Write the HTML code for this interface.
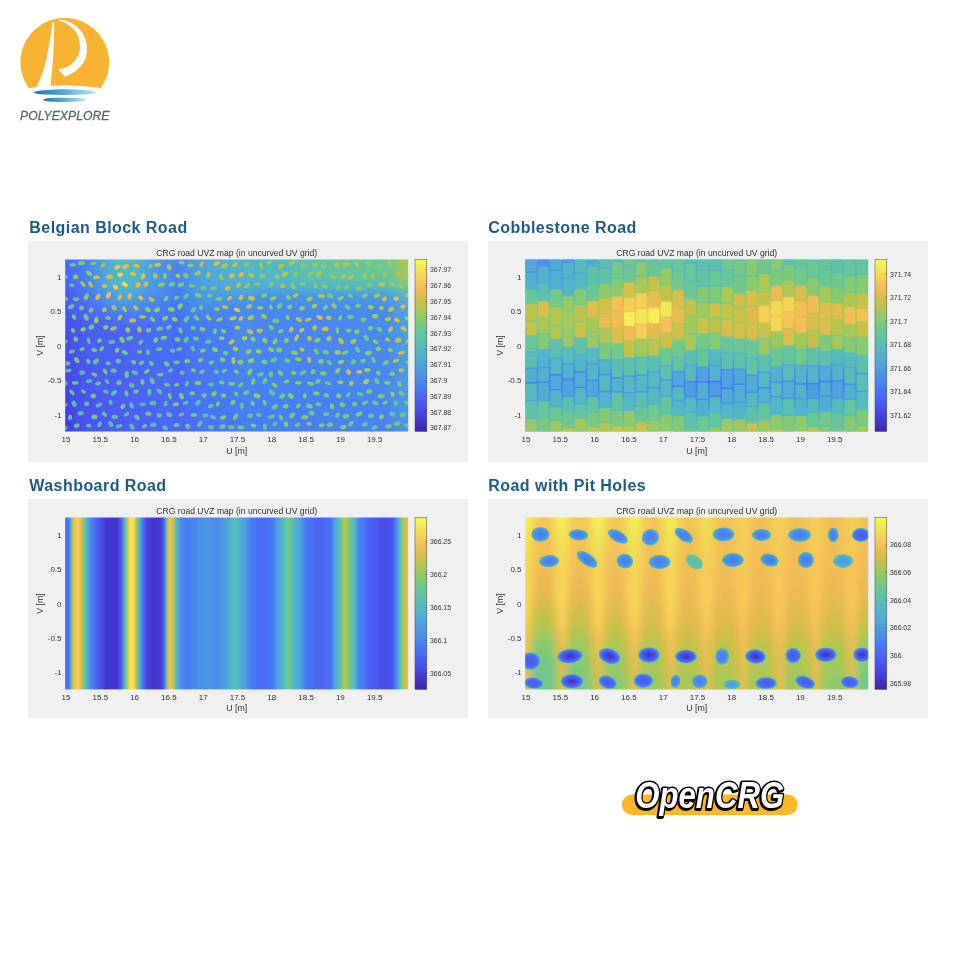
<!DOCTYPE html>
<html lang="en"><head><meta charset="utf-8"><title>OpenCRG road surfaces</title>
<style>
html,body{margin:0;padding:0;background:#fff}
body{width:960px;height:960px;position:relative;overflow:hidden;font-family:"Liberation Sans",sans-serif}
.panel{position:absolute;background:#f0f0f0;display:block}
h2{position:absolute;margin:0;font-size:16px;line-height:20px;font-weight:bold;color:#1f5a82;white-space:nowrap;letter-spacing:0.45px}
.logo{position:absolute;left:0;top:0}
.crg{position:absolute;left:600px;top:760px}
</style></head><body>
<svg width="0" height="0" style="position:absolute"><defs>
<linearGradient id="cbar" x1="0" y1="0" x2="0" y2="1"><stop offset="0.0000" stop-color="#f9fb56"/><stop offset="0.0312" stop-color="#f4ef55"/><stop offset="0.0625" stop-color="#f2e455"/><stop offset="0.0938" stop-color="#f4d854"/><stop offset="0.1250" stop-color="#f5cc55"/><stop offset="0.1562" stop-color="#f4c157"/><stop offset="0.1875" stop-color="#e9bc52"/><stop offset="0.2188" stop-color="#d9be4b"/><stop offset="0.2500" stop-color="#c7c14a"/><stop offset="0.2812" stop-color="#b3c551"/><stop offset="0.3125" stop-color="#9fc85d"/><stop offset="0.3438" stop-color="#8bca6d"/><stop offset="0.3750" stop-color="#7aca7f"/><stop offset="0.4062" stop-color="#6dc88f"/><stop offset="0.4375" stop-color="#65c49e"/><stop offset="0.4688" stop-color="#5fc0ac"/><stop offset="0.5000" stop-color="#57bbb8"/><stop offset="0.5312" stop-color="#53b6c4"/><stop offset="0.5625" stop-color="#51b0cf"/><stop offset="0.5938" stop-color="#51a9d8"/><stop offset="0.6250" stop-color="#4fa1de"/><stop offset="0.6562" stop-color="#4c97e2"/><stop offset="0.6875" stop-color="#4b8ee9"/><stop offset="0.7188" stop-color="#4884f0"/><stop offset="0.7500" stop-color="#4778f4"/><stop offset="0.7812" stop-color="#4a6df6"/><stop offset="0.8125" stop-color="#4b61f3"/><stop offset="0.8438" stop-color="#4a57ee"/><stop offset="0.8750" stop-color="#484ce7"/><stop offset="0.9062" stop-color="#4641dc"/><stop offset="0.9375" stop-color="#4337cd"/><stop offset="0.9688" stop-color="#3f2fb8"/><stop offset="1.0000" stop-color="#3a27a2"/></linearGradient>
<linearGradient id="wash" x1="0" y1="0" x2="1" y2="0"><stop offset="0.0000" stop-color="#4b66f4"/><stop offset="0.0059" stop-color="#496ff6"/><stop offset="0.0118" stop-color="#4783f0"/><stop offset="0.0176" stop-color="#62c2a5"/><stop offset="0.0235" stop-color="#ddbd4c"/><stop offset="0.0294" stop-color="#f5c357"/><stop offset="0.0353" stop-color="#f5cd55"/><stop offset="0.0412" stop-color="#f4c257"/><stop offset="0.0471" stop-color="#debd4c"/><stop offset="0.0529" stop-color="#7bca7d"/><stop offset="0.0588" stop-color="#61c1a7"/><stop offset="0.0647" stop-color="#51a9d8"/><stop offset="0.0706" stop-color="#4e9ddf"/><stop offset="0.0765" stop-color="#4781f1"/><stop offset="0.0824" stop-color="#4777f5"/><stop offset="0.0882" stop-color="#4a6bf5"/><stop offset="0.0941" stop-color="#4b5cf1"/><stop offset="0.1000" stop-color="#4a54ed"/><stop offset="0.1059" stop-color="#494fe9"/><stop offset="0.1118" stop-color="#4643de"/><stop offset="0.1176" stop-color="#443ad2"/><stop offset="0.1235" stop-color="#4339d0"/><stop offset="0.1294" stop-color="#4339cf"/><stop offset="0.1353" stop-color="#4338ce"/><stop offset="0.1412" stop-color="#4337cc"/><stop offset="0.1471" stop-color="#4236cb"/><stop offset="0.1529" stop-color="#443ad2"/><stop offset="0.1588" stop-color="#4950e9"/><stop offset="0.1647" stop-color="#4b60f3"/><stop offset="0.1706" stop-color="#4fa3dd"/><stop offset="0.1765" stop-color="#6bc792"/><stop offset="0.1824" stop-color="#cfc049"/><stop offset="0.1882" stop-color="#f2e154"/><stop offset="0.1941" stop-color="#f2e755"/><stop offset="0.2000" stop-color="#f4d654"/><stop offset="0.2059" stop-color="#dfbd4d"/><stop offset="0.2118" stop-color="#65c49e"/><stop offset="0.2176" stop-color="#52b2cd"/><stop offset="0.2235" stop-color="#4780f1"/><stop offset="0.2294" stop-color="#4b66f5"/><stop offset="0.2353" stop-color="#4747e3"/><stop offset="0.2412" stop-color="#4643df"/><stop offset="0.2471" stop-color="#443cd5"/><stop offset="0.2529" stop-color="#4337cc"/><stop offset="0.2588" stop-color="#4237cb"/><stop offset="0.2647" stop-color="#4337cd"/><stop offset="0.2706" stop-color="#4339cf"/><stop offset="0.2765" stop-color="#4339d1"/><stop offset="0.2824" stop-color="#4848e4"/><stop offset="0.2882" stop-color="#4b65f4"/><stop offset="0.2941" stop-color="#55b9bd"/><stop offset="0.3000" stop-color="#c7c14a"/><stop offset="0.3059" stop-color="#f4c157"/><stop offset="0.3118" stop-color="#e5bc50"/><stop offset="0.3176" stop-color="#8bca6d"/><stop offset="0.3235" stop-color="#54b8c0"/><stop offset="0.3294" stop-color="#51abd7"/><stop offset="0.3353" stop-color="#4b90e8"/><stop offset="0.3412" stop-color="#4989ed"/><stop offset="0.3471" stop-color="#4782f0"/><stop offset="0.3529" stop-color="#467df3"/><stop offset="0.3588" stop-color="#467df3"/><stop offset="0.3647" stop-color="#4781f1"/><stop offset="0.3706" stop-color="#4885ef"/><stop offset="0.3765" stop-color="#4987ee"/><stop offset="0.3824" stop-color="#4a89ec"/><stop offset="0.3882" stop-color="#4b8ee9"/><stop offset="0.3941" stop-color="#4b92e6"/><stop offset="0.4000" stop-color="#4b93e5"/><stop offset="0.4059" stop-color="#4b94e5"/><stop offset="0.4118" stop-color="#4c95e4"/><stop offset="0.4176" stop-color="#4c96e3"/><stop offset="0.4235" stop-color="#4c95e4"/><stop offset="0.4294" stop-color="#4b91e7"/><stop offset="0.4353" stop-color="#4a8cea"/><stop offset="0.4412" stop-color="#4a8aec"/><stop offset="0.4471" stop-color="#4b8ee9"/><stop offset="0.4529" stop-color="#4c95e4"/><stop offset="0.4588" stop-color="#4e9ce0"/><stop offset="0.4647" stop-color="#4e9fde"/><stop offset="0.4706" stop-color="#4fa3dd"/><stop offset="0.4765" stop-color="#51abd7"/><stop offset="0.4824" stop-color="#52b3cb"/><stop offset="0.4882" stop-color="#55b9bf"/><stop offset="0.4941" stop-color="#57bbb8"/><stop offset="0.5000" stop-color="#55b9bd"/><stop offset="0.5059" stop-color="#52b3ca"/><stop offset="0.5118" stop-color="#51aad7"/><stop offset="0.5176" stop-color="#4fa3dd"/><stop offset="0.5235" stop-color="#4fa0de"/><stop offset="0.5294" stop-color="#4c97e3"/><stop offset="0.5353" stop-color="#4a8aec"/><stop offset="0.5412" stop-color="#477ff2"/><stop offset="0.5471" stop-color="#467cf3"/><stop offset="0.5529" stop-color="#4778f5"/><stop offset="0.5588" stop-color="#4971f6"/><stop offset="0.5647" stop-color="#4a6cf5"/><stop offset="0.5706" stop-color="#4b69f5"/><stop offset="0.5765" stop-color="#4a6bf5"/><stop offset="0.5824" stop-color="#4a6ef6"/><stop offset="0.5882" stop-color="#4971f6"/><stop offset="0.5941" stop-color="#4874f6"/><stop offset="0.6000" stop-color="#4875f5"/><stop offset="0.6059" stop-color="#467df3"/><stop offset="0.6118" stop-color="#4b8ee9"/><stop offset="0.6176" stop-color="#4e9edf"/><stop offset="0.6235" stop-color="#50a7da"/><stop offset="0.6294" stop-color="#51acd6"/><stop offset="0.6353" stop-color="#53b7c2"/><stop offset="0.6412" stop-color="#61c1a7"/><stop offset="0.6471" stop-color="#6cc890"/><stop offset="0.6529" stop-color="#6dc890"/><stop offset="0.6588" stop-color="#62c2a4"/><stop offset="0.6647" stop-color="#55b9bd"/><stop offset="0.6706" stop-color="#51b0d0"/><stop offset="0.6765" stop-color="#51acd5"/><stop offset="0.6824" stop-color="#50a6db"/><stop offset="0.6882" stop-color="#4d98e2"/><stop offset="0.6941" stop-color="#4988ed"/><stop offset="0.7000" stop-color="#467af4"/><stop offset="0.7059" stop-color="#4875f5"/><stop offset="0.7118" stop-color="#4873f6"/><stop offset="0.7176" stop-color="#496ff6"/><stop offset="0.7235" stop-color="#4b6af5"/><stop offset="0.7294" stop-color="#4b66f4"/><stop offset="0.7353" stop-color="#4b63f4"/><stop offset="0.7412" stop-color="#4b62f4"/><stop offset="0.7471" stop-color="#4b64f4"/><stop offset="0.7529" stop-color="#4b67f5"/><stop offset="0.7588" stop-color="#4b6af5"/><stop offset="0.7647" stop-color="#4a6cf6"/><stop offset="0.7706" stop-color="#4a6df6"/><stop offset="0.7765" stop-color="#467cf3"/><stop offset="0.7824" stop-color="#4c94e5"/><stop offset="0.7882" stop-color="#51aad8"/><stop offset="0.7941" stop-color="#52b3cb"/><stop offset="0.8000" stop-color="#57bbba"/><stop offset="0.8059" stop-color="#75c985"/><stop offset="0.8118" stop-color="#b4c551"/><stop offset="0.8176" stop-color="#bbc44e"/><stop offset="0.8235" stop-color="#91ca68"/><stop offset="0.8294" stop-color="#6ac793"/><stop offset="0.8353" stop-color="#62c2a4"/><stop offset="0.8412" stop-color="#59bcb5"/><stop offset="0.8471" stop-color="#51acd5"/><stop offset="0.8529" stop-color="#4b92e6"/><stop offset="0.8588" stop-color="#4780f1"/><stop offset="0.8647" stop-color="#467ef3"/><stop offset="0.8706" stop-color="#4776f5"/><stop offset="0.8765" stop-color="#4a6df6"/><stop offset="0.8824" stop-color="#4b64f4"/><stop offset="0.8882" stop-color="#4b5ff2"/><stop offset="0.8941" stop-color="#4b5ef2"/><stop offset="0.9000" stop-color="#4b5cf1"/><stop offset="0.9059" stop-color="#4b59ef"/><stop offset="0.9118" stop-color="#4a55ed"/><stop offset="0.9176" stop-color="#4a51eb"/><stop offset="0.9235" stop-color="#494fe9"/><stop offset="0.9294" stop-color="#494ee8"/><stop offset="0.9353" stop-color="#494ee9"/><stop offset="0.9412" stop-color="#4950ea"/><stop offset="0.9471" stop-color="#4a53ec"/><stop offset="0.9529" stop-color="#4a54ed"/><stop offset="0.9588" stop-color="#4b63f4"/><stop offset="0.9647" stop-color="#4988ed"/><stop offset="0.9706" stop-color="#50a7da"/><stop offset="0.9765" stop-color="#5cbeb0"/><stop offset="0.9824" stop-color="#85ca73"/><stop offset="0.9882" stop-color="#b4c551"/><stop offset="0.9941" stop-color="#e3bc4f"/><stop offset="1.0000" stop-color="#ecbc55"/></linearGradient>
<radialGradient id="pithi"><stop offset="0" stop-color="#467cf3" stop-opacity="1"/><stop offset="0.55" stop-color="#4a8aec" stop-opacity="1"/><stop offset="0.78" stop-color="#4e9ce0" stop-opacity="1"/><stop offset="0.88" stop-color="#51afd2" stop-opacity="1"/><stop offset="0.95" stop-color="#5ebfac" stop-opacity="1"/><stop offset="0.99" stop-color="#82ca76" stop-opacity="1"/><stop offset="1" stop-color="#a7c758" stop-opacity="0.4"/></radialGradient><radialGradient id="pitpale"><stop offset="0" stop-color="#4d99e1" stop-opacity="1"/><stop offset="0.55" stop-color="#50a5dc" stop-opacity="1"/><stop offset="0.78" stop-color="#52b3cb" stop-opacity="1"/><stop offset="0.88" stop-color="#5cbeb0" stop-opacity="1"/><stop offset="0.95" stop-color="#5ebfac" stop-opacity="1"/><stop offset="0.99" stop-color="#82ca76" stop-opacity="1"/><stop offset="1" stop-color="#a7c758" stop-opacity="0.4"/></radialGradient><radialGradient id="pitteal"><stop offset="0" stop-color="#57bbb8" stop-opacity="1"/><stop offset="0.7" stop-color="#5ebfac" stop-opacity="1"/><stop offset="0.9" stop-color="#66c59b" stop-opacity="1"/><stop offset="0.97" stop-color="#7dca7c" stop-opacity="1"/><stop offset="1" stop-color="#a7c758" stop-opacity="0.4"/></radialGradient><radialGradient id="pitmid"><stop offset="0" stop-color="#4b58ef" stop-opacity="1"/><stop offset="0.55" stop-color="#4b66f4" stop-opacity="1"/><stop offset="0.78" stop-color="#467cf3" stop-opacity="1"/><stop offset="0.88" stop-color="#50a8da" stop-opacity="1"/><stop offset="0.95" stop-color="#5ebfac" stop-opacity="1"/><stop offset="0.99" stop-color="#82ca76" stop-opacity="1"/><stop offset="1" stop-color="#a7c758" stop-opacity="0.4"/></radialGradient><radialGradient id="pitlo"><stop offset="0" stop-color="#4031be" stop-opacity="1"/><stop offset="0.3" stop-color="#4643de" stop-opacity="1"/><stop offset="0.6" stop-color="#4b5bf1" stop-opacity="1"/><stop offset="0.8" stop-color="#4778f4" stop-opacity="1"/><stop offset="0.89" stop-color="#4fa2dd" stop-opacity="1"/><stop offset="0.95" stop-color="#5ebfac" stop-opacity="1"/><stop offset="0.99" stop-color="#82ca76" stop-opacity="1"/><stop offset="1" stop-color="#a7c758" stop-opacity="0.4"/></radialGradient>
<filter id="blur1" x="-5%" y="-5%" width="110%" height="110%"><feGaussianBlur stdDeviation="3.5"/></filter>
<filter id="blur2" x="-5%" y="-5%" width="110%" height="110%"><feGaussianBlur stdDeviation="3"/></filter>
<filter id="blur4" x="-5%" y="-5%" width="110%" height="110%"><feGaussianBlur stdDeviation="3"/></filter>
<filter id="soft" x="-2%" y="-2%" width="104%" height="104%"><feGaussianBlur stdDeviation="0.6"/></filter>
<filter id="soft2" x="-2%" y="-2%" width="104%" height="104%"><feGaussianBlur stdDeviation="0.6"/></filter>
</defs></svg>
<svg class="logo" style="left:15px;top:12px" width="100" height="112" viewBox="0 0 960 1075">
<defs>
<linearGradient id="wv" x1="0" y1="0" x2="1" y2="0"><stop offset="0" stop-color="#1873bd"/><stop offset="0.45" stop-color="#4fa3d8"/><stop offset="1" stop-color="#b4e8f4"/></linearGradient>
</defs>
<path d="M132 730 A426 426 0 1 1 824 730 Q480 676 132 730Z" fill="#f9b330"/>
<path d="M361 100 Q368 96 376 100 Q378 400 340 712 Q270 716 200 729 Q290 565 324 330 Q345 210 361 100Z" fill="#fff"/>
<path d="M422 72 Q560 80 640 190 Q700 280 690 390 Q670 540 482 622 L412 550 Q560 530 610 410 Q648 300 588 196 Q540 122 422 78Z" fill="#fff"/>
<path d="M180 772 Q190 755 300 748 Q480 735 690 752 Q770 760 775 772 Q770 786 680 790 Q480 800 290 792 Q190 788 180 772Z" fill="url(#wv)"/>
<path d="M270 843 Q280 826 400 824 Q560 822 640 828 Q680 832 682 843 Q680 856 620 860 Q480 868 360 862 Q275 858 270 843Z" fill="url(#wv)"/>
<text x="478" y="1034" text-anchor="middle" font-family="'Liberation Sans', sans-serif" font-style="italic" font-size="118" fill="#56626c" stroke="#56626c" stroke-width="2.5" textLength="858" lengthAdjust="spacingAndGlyphs">POLYEXPLORE</text>
</svg>

<h2 style="left:29.3px;top:218px">Belgian Block Road</h2>
<h2 style="left:488.3px;top:218px">Cobblestone Road</h2>
<h2 style="left:29.3px;top:476px">Washboard Road</h2>
<h2 style="left:488.3px;top:476px">Road with Pit Holes</h2>
<svg class="panel" style="left:27.75px;top:241px" width="440" height="221" viewBox="0 0 440 221">
<defs><clipPath id="clip1"><rect x="37.2" y="18.5" width="343.0" height="171.9"/></clipPath></defs>
<g clip-path="url(#clip1)"><g filter="url(#blur1)">
<rect x="29.1" y="7.5" width="8.4" height="11.3" fill="#4b64f4"/>
<rect x="36.9" y="7.5" width="8.4" height="11.3" fill="#4b6af5"/>
<rect x="44.7" y="7.5" width="8.4" height="11.3" fill="#4777f5"/>
<rect x="52.5" y="7.5" width="8.4" height="11.3" fill="#477ff2"/>
<rect x="60.3" y="7.5" width="8.4" height="11.3" fill="#4a8cea"/>
<rect x="68.1" y="7.5" width="8.4" height="11.3" fill="#4d99e1"/>
<rect x="75.9" y="7.5" width="8.4" height="11.3" fill="#51aed3"/>
<rect x="83.7" y="7.5" width="8.4" height="11.3" fill="#52b5c6"/>
<rect x="91.5" y="7.5" width="8.4" height="11.3" fill="#56babc"/>
<rect x="99.3" y="7.5" width="8.4" height="11.3" fill="#53b6c6"/>
<rect x="107.1" y="7.5" width="8.4" height="11.3" fill="#52b2cc"/>
<rect x="114.9" y="7.5" width="8.4" height="11.3" fill="#4fa3dd"/>
<rect x="122.7" y="7.5" width="8.4" height="11.3" fill="#4e9ddf"/>
<rect x="130.4" y="7.5" width="8.4" height="11.3" fill="#4b92e6"/>
<rect x="138.2" y="7.5" width="8.4" height="11.3" fill="#4a8de9"/>
<rect x="146" y="7.5" width="8.4" height="11.3" fill="#4885ef"/>
<rect x="153.8" y="7.5" width="8.4" height="11.3" fill="#4b8fe8"/>
<rect x="161.6" y="7.5" width="8.4" height="11.3" fill="#4d9ae1"/>
<rect x="169.4" y="7.5" width="8.4" height="11.3" fill="#4fa4dc"/>
<rect x="177.2" y="7.5" width="8.4" height="11.3" fill="#50a8d9"/>
<rect x="185" y="7.5" width="8.4" height="11.3" fill="#51abd6"/>
<rect x="192.8" y="7.5" width="8.4" height="11.3" fill="#51afd1"/>
<rect x="200.6" y="7.5" width="8.4" height="11.3" fill="#52b2cc"/>
<rect x="208.4" y="7.5" width="8.4" height="11.3" fill="#52b4c9"/>
<rect x="216.2" y="7.5" width="8.4" height="11.3" fill="#52b5c6"/>
<rect x="224" y="7.5" width="8.4" height="11.3" fill="#53b6c4"/>
<rect x="231.8" y="7.5" width="8.4" height="11.3" fill="#54b7c2"/>
<rect x="239.6" y="7.5" width="8.4" height="11.3" fill="#54b8c0"/>
<rect x="247.4" y="7.5" width="8.4" height="11.3" fill="#55b9bf"/>
<rect x="255.2" y="7.5" width="8.4" height="11.3" fill="#56babb"/>
<rect x="263" y="7.5" width="8.4" height="11.3" fill="#59bdb5"/>
<rect x="270.8" y="7.5" width="8.4" height="11.3" fill="#5dbfae"/>
<rect x="278.6" y="7.5" width="8.4" height="11.3" fill="#5fc0aa"/>
<rect x="286.4" y="7.5" width="8.4" height="11.3" fill="#60c1a9"/>
<rect x="294.1" y="7.5" width="8.4" height="11.3" fill="#61c1a6"/>
<rect x="301.9" y="7.5" width="8.4" height="11.3" fill="#63c3a3"/>
<rect x="309.7" y="7.5" width="8.4" height="11.3" fill="#64c49f"/>
<rect x="317.5" y="7.5" width="8.4" height="11.3" fill="#66c59c"/>
<rect x="325.3" y="7.5" width="8.4" height="11.3" fill="#66c59b"/>
<rect x="333.1" y="7.5" width="8.4" height="11.3" fill="#67c59a"/>
<rect x="340.9" y="7.5" width="8.4" height="11.3" fill="#68c698"/>
<rect x="348.7" y="7.5" width="8.4" height="11.3" fill="#69c795"/>
<rect x="356.5" y="7.5" width="8.4" height="11.3" fill="#6dc88e"/>
<rect x="364.3" y="7.5" width="8.4" height="11.3" fill="#81ca76"/>
<rect x="372.1" y="7.5" width="8.4" height="11.3" fill="#a4c85a"/>
<rect x="379.9" y="7.5" width="8.4" height="11.3" fill="#aac756"/>
<rect x="29.1" y="18.2" width="8.4" height="11.3" fill="#4b63f4"/>
<rect x="36.9" y="18.2" width="8.4" height="11.3" fill="#4b69f5"/>
<rect x="44.7" y="18.2" width="8.4" height="11.3" fill="#4776f5"/>
<rect x="52.5" y="18.2" width="8.4" height="11.3" fill="#477ff2"/>
<rect x="60.3" y="18.2" width="8.4" height="11.3" fill="#4a8cea"/>
<rect x="68.1" y="18.2" width="8.4" height="11.3" fill="#4d99e2"/>
<rect x="75.9" y="18.2" width="8.4" height="11.3" fill="#51add4"/>
<rect x="83.7" y="18.2" width="8.4" height="11.3" fill="#52b5c7"/>
<rect x="91.5" y="18.2" width="8.4" height="11.3" fill="#55babd"/>
<rect x="99.3" y="18.2" width="8.4" height="11.3" fill="#53b5c6"/>
<rect x="107.1" y="18.2" width="8.4" height="11.3" fill="#52b2cd"/>
<rect x="114.9" y="18.2" width="8.4" height="11.3" fill="#4fa2dd"/>
<rect x="122.7" y="18.2" width="8.4" height="11.3" fill="#4e9de0"/>
<rect x="130.4" y="18.2" width="8.4" height="11.3" fill="#4b91e6"/>
<rect x="138.2" y="18.2" width="8.4" height="11.3" fill="#4a8dea"/>
<rect x="146" y="18.2" width="8.4" height="11.3" fill="#4884f0"/>
<rect x="153.8" y="18.2" width="8.4" height="11.3" fill="#4b8fe8"/>
<rect x="161.6" y="18.2" width="8.4" height="11.3" fill="#4d9ae1"/>
<rect x="169.4" y="18.2" width="8.4" height="11.3" fill="#4fa3dd"/>
<rect x="177.2" y="18.2" width="8.4" height="11.3" fill="#50a8d9"/>
<rect x="185" y="18.2" width="8.4" height="11.3" fill="#51abd6"/>
<rect x="192.8" y="18.2" width="8.4" height="11.3" fill="#51afd1"/>
<rect x="200.6" y="18.2" width="8.4" height="11.3" fill="#52b2cc"/>
<rect x="208.4" y="18.2" width="8.4" height="11.3" fill="#52b4c9"/>
<rect x="216.2" y="18.2" width="8.4" height="11.3" fill="#52b5c6"/>
<rect x="224" y="18.2" width="8.4" height="11.3" fill="#53b6c4"/>
<rect x="231.8" y="18.2" width="8.4" height="11.3" fill="#53b7c2"/>
<rect x="239.6" y="18.2" width="8.4" height="11.3" fill="#54b8c0"/>
<rect x="247.4" y="18.2" width="8.4" height="11.3" fill="#54b8bf"/>
<rect x="255.2" y="18.2" width="8.4" height="11.3" fill="#56babc"/>
<rect x="263" y="18.2" width="8.4" height="11.3" fill="#59bcb5"/>
<rect x="270.8" y="18.2" width="8.4" height="11.3" fill="#5dbfaf"/>
<rect x="278.6" y="18.2" width="8.4" height="11.3" fill="#5fc0ab"/>
<rect x="286.4" y="18.2" width="8.4" height="11.3" fill="#60c0aa"/>
<rect x="294.1" y="18.2" width="8.4" height="11.3" fill="#61c1a7"/>
<rect x="301.9" y="18.2" width="8.4" height="11.3" fill="#62c2a3"/>
<rect x="309.7" y="18.2" width="8.4" height="11.3" fill="#64c4a0"/>
<rect x="317.5" y="18.2" width="8.4" height="11.3" fill="#65c49d"/>
<rect x="325.3" y="18.2" width="8.4" height="11.3" fill="#66c59c"/>
<rect x="333.1" y="18.2" width="8.4" height="11.3" fill="#66c59a"/>
<rect x="340.9" y="18.2" width="8.4" height="11.3" fill="#67c698"/>
<rect x="348.7" y="18.2" width="8.4" height="11.3" fill="#69c695"/>
<rect x="356.5" y="18.2" width="8.4" height="11.3" fill="#6dc88f"/>
<rect x="364.3" y="18.2" width="8.4" height="11.3" fill="#80ca77"/>
<rect x="372.1" y="18.2" width="8.4" height="11.3" fill="#a3c85b"/>
<rect x="379.9" y="18.2" width="8.4" height="11.3" fill="#a9c757"/>
<rect x="29.1" y="28.9" width="8.4" height="11.3" fill="#4b61f3"/>
<rect x="36.9" y="28.9" width="8.4" height="11.3" fill="#4b67f5"/>
<rect x="44.7" y="28.9" width="8.4" height="11.3" fill="#4874f6"/>
<rect x="52.5" y="28.9" width="8.4" height="11.3" fill="#467ef3"/>
<rect x="60.3" y="28.9" width="8.4" height="11.3" fill="#4a8beb"/>
<rect x="68.1" y="28.9" width="8.4" height="11.3" fill="#4c98e2"/>
<rect x="75.9" y="28.9" width="8.4" height="11.3" fill="#51add4"/>
<rect x="83.7" y="28.9" width="8.4" height="11.3" fill="#52b5c8"/>
<rect x="91.5" y="28.9" width="8.4" height="11.3" fill="#55b9be"/>
<rect x="99.3" y="28.9" width="8.4" height="11.3" fill="#52b5c7"/>
<rect x="107.1" y="28.9" width="8.4" height="11.3" fill="#52b1cd"/>
<rect x="114.9" y="28.9" width="8.4" height="11.3" fill="#4fa2dd"/>
<rect x="122.7" y="28.9" width="8.4" height="11.3" fill="#4e9ce0"/>
<rect x="130.4" y="28.9" width="8.4" height="11.3" fill="#4b91e7"/>
<rect x="138.2" y="28.9" width="8.4" height="11.3" fill="#4a8cea"/>
<rect x="146" y="28.9" width="8.4" height="11.3" fill="#4782f1"/>
<rect x="153.8" y="28.9" width="8.4" height="11.3" fill="#4b8ee9"/>
<rect x="161.6" y="28.9" width="8.4" height="11.3" fill="#4d99e2"/>
<rect x="169.4" y="28.9" width="8.4" height="11.3" fill="#4fa3dd"/>
<rect x="177.2" y="28.9" width="8.4" height="11.3" fill="#50a7da"/>
<rect x="185" y="28.9" width="8.4" height="11.3" fill="#51aad7"/>
<rect x="192.8" y="28.9" width="8.4" height="11.3" fill="#51aed2"/>
<rect x="200.6" y="28.9" width="8.4" height="11.3" fill="#52b2cd"/>
<rect x="208.4" y="28.9" width="8.4" height="11.3" fill="#52b4c9"/>
<rect x="216.2" y="28.9" width="8.4" height="11.3" fill="#52b5c6"/>
<rect x="224" y="28.9" width="8.4" height="11.3" fill="#53b6c5"/>
<rect x="231.8" y="28.9" width="8.4" height="11.3" fill="#53b7c3"/>
<rect x="239.6" y="28.9" width="8.4" height="11.3" fill="#54b8c1"/>
<rect x="247.4" y="28.9" width="8.4" height="11.3" fill="#54b8c0"/>
<rect x="255.2" y="28.9" width="8.4" height="11.3" fill="#55babd"/>
<rect x="263" y="28.9" width="8.4" height="11.3" fill="#59bcb6"/>
<rect x="270.8" y="28.9" width="8.4" height="11.3" fill="#5cbeb0"/>
<rect x="278.6" y="28.9" width="8.4" height="11.3" fill="#5fc0ac"/>
<rect x="286.4" y="28.9" width="8.4" height="11.3" fill="#5fc0ab"/>
<rect x="294.1" y="28.9" width="8.4" height="11.3" fill="#60c1a8"/>
<rect x="301.9" y="28.9" width="8.4" height="11.3" fill="#62c2a5"/>
<rect x="309.7" y="28.9" width="8.4" height="11.3" fill="#64c3a1"/>
<rect x="317.5" y="28.9" width="8.4" height="11.3" fill="#65c49e"/>
<rect x="325.3" y="28.9" width="8.4" height="11.3" fill="#65c49d"/>
<rect x="333.1" y="28.9" width="8.4" height="11.3" fill="#66c59b"/>
<rect x="340.9" y="28.9" width="8.4" height="11.3" fill="#67c599"/>
<rect x="348.7" y="28.9" width="8.4" height="11.3" fill="#68c697"/>
<rect x="356.5" y="28.9" width="8.4" height="11.3" fill="#6cc891"/>
<rect x="364.3" y="28.9" width="8.4" height="11.3" fill="#7fca79"/>
<rect x="372.1" y="28.9" width="8.4" height="11.3" fill="#a0c85d"/>
<rect x="379.9" y="28.9" width="8.4" height="11.3" fill="#a6c858"/>
<rect x="29.1" y="39.7" width="8.4" height="11.3" fill="#4b5ef2"/>
<rect x="36.9" y="39.7" width="8.4" height="11.3" fill="#4b64f4"/>
<rect x="44.7" y="39.7" width="8.4" height="11.3" fill="#4971f6"/>
<rect x="52.5" y="39.7" width="8.4" height="11.3" fill="#467af4"/>
<rect x="60.3" y="39.7" width="8.4" height="11.3" fill="#4987ee"/>
<rect x="68.1" y="39.7" width="8.4" height="11.3" fill="#4b94e5"/>
<rect x="75.9" y="39.7" width="8.4" height="11.3" fill="#50a8da"/>
<rect x="83.7" y="39.7" width="8.4" height="11.3" fill="#51b0d0"/>
<rect x="91.5" y="39.7" width="8.4" height="11.3" fill="#52b5c7"/>
<rect x="99.3" y="39.7" width="8.4" height="11.3" fill="#51b0cf"/>
<rect x="107.1" y="39.7" width="8.4" height="11.3" fill="#51add4"/>
<rect x="114.9" y="39.7" width="8.4" height="11.3" fill="#4e9ddf"/>
<rect x="122.7" y="39.7" width="8.4" height="11.3" fill="#4d98e2"/>
<rect x="130.4" y="39.7" width="8.4" height="11.3" fill="#4b8de9"/>
<rect x="138.2" y="39.7" width="8.4" height="11.3" fill="#4989ec"/>
<rect x="146" y="39.7" width="8.4" height="11.3" fill="#477ff2"/>
<rect x="153.8" y="39.7" width="8.4" height="11.3" fill="#4a8beb"/>
<rect x="161.6" y="39.7" width="8.4" height="11.3" fill="#4c96e4"/>
<rect x="169.4" y="39.7" width="8.4" height="11.3" fill="#4e9fdf"/>
<rect x="177.2" y="39.7" width="8.4" height="11.3" fill="#4fa3dd"/>
<rect x="185" y="39.7" width="8.4" height="11.3" fill="#50a6db"/>
<rect x="192.8" y="39.7" width="8.4" height="11.3" fill="#51a9d8"/>
<rect x="200.6" y="39.7" width="8.4" height="11.3" fill="#51acd5"/>
<rect x="208.4" y="39.7" width="8.4" height="11.3" fill="#51aed3"/>
<rect x="216.2" y="39.7" width="8.4" height="11.3" fill="#51afd2"/>
<rect x="224" y="39.7" width="8.4" height="11.3" fill="#51add3"/>
<rect x="231.8" y="39.7" width="8.4" height="11.3" fill="#51add4"/>
<rect x="239.6" y="39.7" width="8.4" height="11.3" fill="#51add4"/>
<rect x="247.4" y="39.7" width="8.4" height="11.3" fill="#51aed3"/>
<rect x="255.2" y="39.7" width="8.4" height="11.3" fill="#51afd1"/>
<rect x="263" y="39.7" width="8.4" height="11.3" fill="#52b2cd"/>
<rect x="270.8" y="39.7" width="8.4" height="11.3" fill="#52b4c9"/>
<rect x="278.6" y="39.7" width="8.4" height="11.3" fill="#53b5c6"/>
<rect x="286.4" y="39.7" width="8.4" height="11.3" fill="#53b6c5"/>
<rect x="294.1" y="39.7" width="8.4" height="11.3" fill="#53b7c3"/>
<rect x="301.9" y="39.7" width="8.4" height="11.3" fill="#54b8c1"/>
<rect x="309.7" y="39.7" width="8.4" height="11.3" fill="#55b9bf"/>
<rect x="317.5" y="39.7" width="8.4" height="11.3" fill="#55b9bd"/>
<rect x="325.3" y="39.7" width="8.4" height="11.3" fill="#56babc"/>
<rect x="333.1" y="39.7" width="8.4" height="11.3" fill="#56babb"/>
<rect x="340.9" y="39.7" width="8.4" height="11.3" fill="#57bbba"/>
<rect x="348.7" y="39.7" width="8.4" height="11.3" fill="#57bbb8"/>
<rect x="356.5" y="39.7" width="8.4" height="11.3" fill="#5abdb3"/>
<rect x="364.3" y="39.7" width="8.4" height="11.3" fill="#62c2a3"/>
<rect x="372.1" y="39.7" width="8.4" height="11.3" fill="#6fc88c"/>
<rect x="379.9" y="39.7" width="8.4" height="11.3" fill="#73c987"/>
<rect x="29.1" y="50.4" width="8.4" height="11.3" fill="#4b58ef"/>
<rect x="36.9" y="50.4" width="8.4" height="11.3" fill="#4b5ef2"/>
<rect x="44.7" y="50.4" width="8.4" height="11.3" fill="#4b6af5"/>
<rect x="52.5" y="50.4" width="8.4" height="11.3" fill="#4872f6"/>
<rect x="60.3" y="50.4" width="8.4" height="11.3" fill="#467df3"/>
<rect x="68.1" y="50.4" width="8.4" height="11.3" fill="#4988ed"/>
<rect x="75.9" y="50.4" width="8.4" height="11.3" fill="#4d98e2"/>
<rect x="83.7" y="50.4" width="8.4" height="11.3" fill="#4fa0de"/>
<rect x="91.5" y="50.4" width="8.4" height="11.3" fill="#50a6db"/>
<rect x="99.3" y="50.4" width="8.4" height="11.3" fill="#4fa2dd"/>
<rect x="107.1" y="50.4" width="8.4" height="11.3" fill="#4e9edf"/>
<rect x="114.9" y="50.4" width="8.4" height="11.3" fill="#4b92e6"/>
<rect x="122.7" y="50.4" width="8.4" height="11.3" fill="#4b8ee9"/>
<rect x="130.4" y="50.4" width="8.4" height="11.3" fill="#4886ee"/>
<rect x="138.2" y="50.4" width="8.4" height="11.3" fill="#4783f0"/>
<rect x="146" y="50.4" width="8.4" height="11.3" fill="#4778f4"/>
<rect x="153.8" y="50.4" width="8.4" height="11.3" fill="#4886ef"/>
<rect x="161.6" y="50.4" width="8.4" height="11.3" fill="#4b8fe8"/>
<rect x="169.4" y="50.4" width="8.4" height="11.3" fill="#4c96e4"/>
<rect x="177.2" y="50.4" width="8.4" height="11.3" fill="#4d98e2"/>
<rect x="185" y="50.4" width="8.4" height="11.3" fill="#4d99e1"/>
<rect x="192.8" y="50.4" width="8.4" height="11.3" fill="#4d9be1"/>
<rect x="200.6" y="50.4" width="8.4" height="11.3" fill="#4d9be0"/>
<rect x="208.4" y="50.4" width="8.4" height="11.3" fill="#4d9be0"/>
<rect x="216.2" y="50.4" width="8.4" height="11.3" fill="#4d9ae1"/>
<rect x="224" y="50.4" width="8.4" height="11.3" fill="#4c95e4"/>
<rect x="231.8" y="50.4" width="8.4" height="11.3" fill="#4b91e6"/>
<rect x="239.6" y="50.4" width="8.4" height="11.3" fill="#4b91e7"/>
<rect x="247.4" y="50.4" width="8.4" height="11.3" fill="#4b91e7"/>
<rect x="255.2" y="50.4" width="8.4" height="11.3" fill="#4b92e6"/>
<rect x="263" y="50.4" width="8.4" height="11.3" fill="#4b93e5"/>
<rect x="270.8" y="50.4" width="8.4" height="11.3" fill="#4b94e5"/>
<rect x="278.6" y="50.4" width="8.4" height="11.3" fill="#4c95e4"/>
<rect x="286.4" y="50.4" width="8.4" height="11.3" fill="#4c95e4"/>
<rect x="294.1" y="50.4" width="8.4" height="11.3" fill="#4c95e4"/>
<rect x="301.9" y="50.4" width="8.4" height="11.3" fill="#4c96e3"/>
<rect x="309.7" y="50.4" width="8.4" height="11.3" fill="#4c97e3"/>
<rect x="317.5" y="50.4" width="8.4" height="11.3" fill="#4c97e3"/>
<rect x="325.3" y="50.4" width="8.4" height="11.3" fill="#4c98e2"/>
<rect x="333.1" y="50.4" width="8.4" height="11.3" fill="#4c98e2"/>
<rect x="340.9" y="50.4" width="8.4" height="11.3" fill="#4d98e2"/>
<rect x="348.7" y="50.4" width="8.4" height="11.3" fill="#4d99e1"/>
<rect x="356.5" y="50.4" width="8.4" height="11.3" fill="#4e9ce0"/>
<rect x="364.3" y="50.4" width="8.4" height="11.3" fill="#50a5db"/>
<rect x="372.1" y="50.4" width="8.4" height="11.3" fill="#51afd1"/>
<rect x="379.9" y="50.4" width="8.4" height="11.3" fill="#51b1ce"/>
<rect x="29.1" y="61.2" width="8.4" height="11.3" fill="#4a52ec"/>
<rect x="36.9" y="61.2" width="8.4" height="11.3" fill="#4b58ef"/>
<rect x="44.7" y="61.2" width="8.4" height="11.3" fill="#4b62f4"/>
<rect x="52.5" y="61.2" width="8.4" height="11.3" fill="#4b68f5"/>
<rect x="60.3" y="61.2" width="8.4" height="11.3" fill="#4970f6"/>
<rect x="68.1" y="61.2" width="8.4" height="11.3" fill="#4777f5"/>
<rect x="75.9" y="61.2" width="8.4" height="11.3" fill="#4883f0"/>
<rect x="83.7" y="61.2" width="8.4" height="11.3" fill="#4989ec"/>
<rect x="91.5" y="61.2" width="8.4" height="11.3" fill="#4b8de9"/>
<rect x="99.3" y="61.2" width="8.4" height="11.3" fill="#4a8beb"/>
<rect x="107.1" y="61.2" width="8.4" height="11.3" fill="#4a8aec"/>
<rect x="114.9" y="61.2" width="8.4" height="11.3" fill="#4782f0"/>
<rect x="122.7" y="61.2" width="8.4" height="11.3" fill="#4781f1"/>
<rect x="130.4" y="61.2" width="8.4" height="11.3" fill="#467df3"/>
<rect x="138.2" y="61.2" width="8.4" height="11.3" fill="#467bf3"/>
<rect x="146" y="61.2" width="8.4" height="11.3" fill="#4970f6"/>
<rect x="153.8" y="61.2" width="8.4" height="11.3" fill="#477ef2"/>
<rect x="161.6" y="61.2" width="8.4" height="11.3" fill="#4885ef"/>
<rect x="169.4" y="61.2" width="8.4" height="11.3" fill="#4a89ec"/>
<rect x="177.2" y="61.2" width="8.4" height="11.3" fill="#4a8beb"/>
<rect x="185" y="61.2" width="8.4" height="11.3" fill="#4a8aeb"/>
<rect x="192.8" y="61.2" width="8.4" height="11.3" fill="#4a8aec"/>
<rect x="200.6" y="61.2" width="8.4" height="11.3" fill="#4989ed"/>
<rect x="208.4" y="61.2" width="8.4" height="11.3" fill="#4a8aeb"/>
<rect x="216.2" y="61.2" width="8.4" height="11.3" fill="#4a8cea"/>
<rect x="224" y="61.2" width="8.4" height="11.3" fill="#4989ed"/>
<rect x="231.8" y="61.2" width="8.4" height="11.3" fill="#4986ee"/>
<rect x="239.6" y="61.2" width="8.4" height="11.3" fill="#4986ee"/>
<rect x="247.4" y="61.2" width="8.4" height="11.3" fill="#4987ee"/>
<rect x="255.2" y="61.2" width="8.4" height="11.3" fill="#4987ee"/>
<rect x="263" y="61.2" width="8.4" height="11.3" fill="#4987ee"/>
<rect x="270.8" y="61.2" width="8.4" height="11.3" fill="#4987ed"/>
<rect x="278.6" y="61.2" width="8.4" height="11.3" fill="#4988ed"/>
<rect x="286.4" y="61.2" width="8.4" height="11.3" fill="#4988ed"/>
<rect x="294.1" y="61.2" width="8.4" height="11.3" fill="#4988ed"/>
<rect x="301.9" y="61.2" width="8.4" height="11.3" fill="#4989ed"/>
<rect x="309.7" y="61.2" width="8.4" height="11.3" fill="#4989ec"/>
<rect x="317.5" y="61.2" width="8.4" height="11.3" fill="#4989ec"/>
<rect x="325.3" y="61.2" width="8.4" height="11.3" fill="#4a89ec"/>
<rect x="333.1" y="61.2" width="8.4" height="11.3" fill="#4a8aec"/>
<rect x="340.9" y="61.2" width="8.4" height="11.3" fill="#4a8aec"/>
<rect x="348.7" y="61.2" width="8.4" height="11.3" fill="#4a8beb"/>
<rect x="356.5" y="61.2" width="8.4" height="11.3" fill="#4b8ee9"/>
<rect x="364.3" y="61.2" width="8.4" height="11.3" fill="#4c97e3"/>
<rect x="372.1" y="61.2" width="8.4" height="11.3" fill="#4fa2dd"/>
<rect x="379.9" y="61.2" width="8.4" height="11.3" fill="#4fa4dc"/>
<rect x="29.1" y="71.9" width="8.4" height="11.3" fill="#494de7"/>
<rect x="36.9" y="71.9" width="8.4" height="11.3" fill="#4a53ec"/>
<rect x="44.7" y="71.9" width="8.4" height="11.3" fill="#4b5bf1"/>
<rect x="52.5" y="71.9" width="8.4" height="11.3" fill="#4b60f3"/>
<rect x="60.3" y="71.9" width="8.4" height="11.3" fill="#4b64f4"/>
<rect x="68.1" y="71.9" width="8.4" height="11.3" fill="#4b68f5"/>
<rect x="75.9" y="71.9" width="8.4" height="11.3" fill="#4a6df6"/>
<rect x="83.7" y="71.9" width="8.4" height="11.3" fill="#4971f6"/>
<rect x="91.5" y="71.9" width="8.4" height="11.3" fill="#4874f6"/>
<rect x="99.3" y="71.9" width="8.4" height="11.3" fill="#4874f6"/>
<rect x="107.1" y="71.9" width="8.4" height="11.3" fill="#4874f6"/>
<rect x="114.9" y="71.9" width="8.4" height="11.3" fill="#4873f6"/>
<rect x="122.7" y="71.9" width="8.4" height="11.3" fill="#4874f6"/>
<rect x="130.4" y="71.9" width="8.4" height="11.3" fill="#4873f6"/>
<rect x="138.2" y="71.9" width="8.4" height="11.3" fill="#4873f6"/>
<rect x="146" y="71.9" width="8.4" height="11.3" fill="#4b6af5"/>
<rect x="153.8" y="71.9" width="8.4" height="11.3" fill="#4778f5"/>
<rect x="161.6" y="71.9" width="8.4" height="11.3" fill="#467cf3"/>
<rect x="169.4" y="71.9" width="8.4" height="11.3" fill="#477ef2"/>
<rect x="177.2" y="71.9" width="8.4" height="11.3" fill="#477ff2"/>
<rect x="185" y="71.9" width="8.4" height="11.3" fill="#477ff2"/>
<rect x="192.8" y="71.9" width="8.4" height="11.3" fill="#4780f2"/>
<rect x="200.6" y="71.9" width="8.4" height="11.3" fill="#4783f0"/>
<rect x="208.4" y="71.9" width="8.4" height="11.3" fill="#4989ed"/>
<rect x="216.2" y="71.9" width="8.4" height="11.3" fill="#4a8cea"/>
<rect x="224" y="71.9" width="8.4" height="11.3" fill="#4988ed"/>
<rect x="231.8" y="71.9" width="8.4" height="11.3" fill="#4886ef"/>
<rect x="239.6" y="71.9" width="8.4" height="11.3" fill="#4886ef"/>
<rect x="247.4" y="71.9" width="8.4" height="11.3" fill="#4886ef"/>
<rect x="255.2" y="71.9" width="8.4" height="11.3" fill="#4886ee"/>
<rect x="263" y="71.9" width="8.4" height="11.3" fill="#4986ee"/>
<rect x="270.8" y="71.9" width="8.4" height="11.3" fill="#4987ee"/>
<rect x="278.6" y="71.9" width="8.4" height="11.3" fill="#4987ee"/>
<rect x="286.4" y="71.9" width="8.4" height="11.3" fill="#4987ee"/>
<rect x="294.1" y="71.9" width="8.4" height="11.3" fill="#4987ed"/>
<rect x="301.9" y="71.9" width="8.4" height="11.3" fill="#4988ed"/>
<rect x="309.7" y="71.9" width="8.4" height="11.3" fill="#4988ed"/>
<rect x="317.5" y="71.9" width="8.4" height="11.3" fill="#4988ed"/>
<rect x="325.3" y="71.9" width="8.4" height="11.3" fill="#4988ed"/>
<rect x="333.1" y="71.9" width="8.4" height="11.3" fill="#4989ed"/>
<rect x="340.9" y="71.9" width="8.4" height="11.3" fill="#4989ec"/>
<rect x="348.7" y="71.9" width="8.4" height="11.3" fill="#4a8aec"/>
<rect x="356.5" y="71.9" width="8.4" height="11.3" fill="#4a8de9"/>
<rect x="364.3" y="71.9" width="8.4" height="11.3" fill="#4c96e3"/>
<rect x="372.1" y="71.9" width="8.4" height="11.3" fill="#4fa1de"/>
<rect x="379.9" y="71.9" width="8.4" height="11.3" fill="#4fa3dd"/>
<rect x="29.1" y="82.7" width="8.4" height="11.3" fill="#4849e4"/>
<rect x="36.9" y="82.7" width="8.4" height="11.3" fill="#494fe9"/>
<rect x="44.7" y="82.7" width="8.4" height="11.3" fill="#4a57ee"/>
<rect x="52.5" y="82.7" width="8.4" height="11.3" fill="#4b5bf1"/>
<rect x="60.3" y="82.7" width="8.4" height="11.3" fill="#4b5df2"/>
<rect x="68.1" y="82.7" width="8.4" height="11.3" fill="#4b5ff3"/>
<rect x="75.9" y="82.7" width="8.4" height="11.3" fill="#4b61f3"/>
<rect x="83.7" y="82.7" width="8.4" height="11.3" fill="#4b63f4"/>
<rect x="91.5" y="82.7" width="8.4" height="11.3" fill="#4b64f4"/>
<rect x="99.3" y="82.7" width="8.4" height="11.3" fill="#4b66f4"/>
<rect x="107.1" y="82.7" width="8.4" height="11.3" fill="#4b68f5"/>
<rect x="114.9" y="82.7" width="8.4" height="11.3" fill="#4b6af5"/>
<rect x="122.7" y="82.7" width="8.4" height="11.3" fill="#4a6cf6"/>
<rect x="130.4" y="82.7" width="8.4" height="11.3" fill="#4a6ef6"/>
<rect x="138.2" y="82.7" width="8.4" height="11.3" fill="#496ff6"/>
<rect x="146" y="82.7" width="8.4" height="11.3" fill="#4b65f4"/>
<rect x="153.8" y="82.7" width="8.4" height="11.3" fill="#4873f6"/>
<rect x="161.6" y="82.7" width="8.4" height="11.3" fill="#4777f5"/>
<rect x="169.4" y="82.7" width="8.4" height="11.3" fill="#4779f4"/>
<rect x="177.2" y="82.7" width="8.4" height="11.3" fill="#467bf3"/>
<rect x="185" y="82.7" width="8.4" height="11.3" fill="#467df3"/>
<rect x="192.8" y="82.7" width="8.4" height="11.3" fill="#477ff2"/>
<rect x="200.6" y="82.7" width="8.4" height="11.3" fill="#4782f1"/>
<rect x="208.4" y="82.7" width="8.4" height="11.3" fill="#4988ed"/>
<rect x="216.2" y="82.7" width="8.4" height="11.3" fill="#4a8cea"/>
<rect x="224" y="82.7" width="8.4" height="11.3" fill="#4988ed"/>
<rect x="231.8" y="82.7" width="8.4" height="11.3" fill="#4885ef"/>
<rect x="239.6" y="82.7" width="8.4" height="11.3" fill="#4885ef"/>
<rect x="247.4" y="82.7" width="8.4" height="11.3" fill="#4885ef"/>
<rect x="255.2" y="82.7" width="8.4" height="11.3" fill="#4885ef"/>
<rect x="263" y="82.7" width="8.4" height="11.3" fill="#4886ef"/>
<rect x="270.8" y="82.7" width="8.4" height="11.3" fill="#4886ef"/>
<rect x="278.6" y="82.7" width="8.4" height="11.3" fill="#4886ee"/>
<rect x="286.4" y="82.7" width="8.4" height="11.3" fill="#4986ee"/>
<rect x="294.1" y="82.7" width="8.4" height="11.3" fill="#4987ee"/>
<rect x="301.9" y="82.7" width="8.4" height="11.3" fill="#4987ee"/>
<rect x="309.7" y="82.7" width="8.4" height="11.3" fill="#4987ee"/>
<rect x="317.5" y="82.7" width="8.4" height="11.3" fill="#4987ed"/>
<rect x="325.3" y="82.7" width="8.4" height="11.3" fill="#4988ed"/>
<rect x="333.1" y="82.7" width="8.4" height="11.3" fill="#4988ed"/>
<rect x="340.9" y="82.7" width="8.4" height="11.3" fill="#4988ed"/>
<rect x="348.7" y="82.7" width="8.4" height="11.3" fill="#4989ec"/>
<rect x="356.5" y="82.7" width="8.4" height="11.3" fill="#4a8cea"/>
<rect x="364.3" y="82.7" width="8.4" height="11.3" fill="#4c95e4"/>
<rect x="372.1" y="82.7" width="8.4" height="11.3" fill="#4ea0de"/>
<rect x="379.9" y="82.7" width="8.4" height="11.3" fill="#4fa1dd"/>
<rect x="29.1" y="93.4" width="8.4" height="11.3" fill="#4747e2"/>
<rect x="36.9" y="93.4" width="8.4" height="11.3" fill="#494de8"/>
<rect x="44.7" y="93.4" width="8.4" height="11.3" fill="#4a55ed"/>
<rect x="52.5" y="93.4" width="8.4" height="11.3" fill="#4b5af0"/>
<rect x="60.3" y="93.4" width="8.4" height="11.3" fill="#4b5cf1"/>
<rect x="68.1" y="93.4" width="8.4" height="11.3" fill="#4b5ef2"/>
<rect x="75.9" y="93.4" width="8.4" height="11.3" fill="#4b60f3"/>
<rect x="83.7" y="93.4" width="8.4" height="11.3" fill="#4b61f3"/>
<rect x="91.5" y="93.4" width="8.4" height="11.3" fill="#4b63f4"/>
<rect x="99.3" y="93.4" width="8.4" height="11.3" fill="#4b65f4"/>
<rect x="107.1" y="93.4" width="8.4" height="11.3" fill="#4b67f5"/>
<rect x="114.9" y="93.4" width="8.4" height="11.3" fill="#4b69f5"/>
<rect x="122.7" y="93.4" width="8.4" height="11.3" fill="#4a6bf5"/>
<rect x="130.4" y="93.4" width="8.4" height="11.3" fill="#4a6df6"/>
<rect x="138.2" y="93.4" width="8.4" height="11.3" fill="#4a6ef6"/>
<rect x="146" y="93.4" width="8.4" height="11.3" fill="#4b63f4"/>
<rect x="153.8" y="93.4" width="8.4" height="11.3" fill="#4872f6"/>
<rect x="161.6" y="93.4" width="8.4" height="11.3" fill="#4776f5"/>
<rect x="169.4" y="93.4" width="8.4" height="11.3" fill="#4778f4"/>
<rect x="177.2" y="93.4" width="8.4" height="11.3" fill="#467af4"/>
<rect x="185" y="93.4" width="8.4" height="11.3" fill="#467cf3"/>
<rect x="192.8" y="93.4" width="8.4" height="11.3" fill="#477ef2"/>
<rect x="200.6" y="93.4" width="8.4" height="11.3" fill="#4781f1"/>
<rect x="208.4" y="93.4" width="8.4" height="11.3" fill="#4988ed"/>
<rect x="216.2" y="93.4" width="8.4" height="11.3" fill="#4a8cea"/>
<rect x="224" y="93.4" width="8.4" height="11.3" fill="#4987ed"/>
<rect x="231.8" y="93.4" width="8.4" height="11.3" fill="#4884f0"/>
<rect x="239.6" y="93.4" width="8.4" height="11.3" fill="#4884f0"/>
<rect x="247.4" y="93.4" width="8.4" height="11.3" fill="#4884f0"/>
<rect x="255.2" y="93.4" width="8.4" height="11.3" fill="#4884ef"/>
<rect x="263" y="93.4" width="8.4" height="11.3" fill="#4885ef"/>
<rect x="270.8" y="93.4" width="8.4" height="11.3" fill="#4885ef"/>
<rect x="278.6" y="93.4" width="8.4" height="11.3" fill="#4885ef"/>
<rect x="286.4" y="93.4" width="8.4" height="11.3" fill="#4885ef"/>
<rect x="294.1" y="93.4" width="8.4" height="11.3" fill="#4886ef"/>
<rect x="301.9" y="93.4" width="8.4" height="11.3" fill="#4886ee"/>
<rect x="309.7" y="93.4" width="8.4" height="11.3" fill="#4986ee"/>
<rect x="317.5" y="93.4" width="8.4" height="11.3" fill="#4987ee"/>
<rect x="325.3" y="93.4" width="8.4" height="11.3" fill="#4987ee"/>
<rect x="333.1" y="93.4" width="8.4" height="11.3" fill="#4987ee"/>
<rect x="340.9" y="93.4" width="8.4" height="11.3" fill="#4987ed"/>
<rect x="348.7" y="93.4" width="8.4" height="11.3" fill="#4988ed"/>
<rect x="356.5" y="93.4" width="8.4" height="11.3" fill="#4a8beb"/>
<rect x="364.3" y="93.4" width="8.4" height="11.3" fill="#4c94e5"/>
<rect x="372.1" y="93.4" width="8.4" height="11.3" fill="#4e9edf"/>
<rect x="379.9" y="93.4" width="8.4" height="11.3" fill="#4fa0de"/>
<rect x="29.1" y="104.2" width="8.4" height="11.3" fill="#4744e0"/>
<rect x="36.9" y="104.2" width="8.4" height="11.3" fill="#484be6"/>
<rect x="44.7" y="104.2" width="8.4" height="11.3" fill="#4a54ed"/>
<rect x="52.5" y="104.2" width="8.4" height="11.3" fill="#4b59ef"/>
<rect x="60.3" y="104.2" width="8.4" height="11.3" fill="#4b5bf1"/>
<rect x="68.1" y="104.2" width="8.4" height="11.3" fill="#4b5df2"/>
<rect x="75.9" y="104.2" width="8.4" height="11.3" fill="#4b5ff2"/>
<rect x="83.7" y="104.2" width="8.4" height="11.3" fill="#4b60f3"/>
<rect x="91.5" y="104.2" width="8.4" height="11.3" fill="#4b62f4"/>
<rect x="99.3" y="104.2" width="8.4" height="11.3" fill="#4b64f4"/>
<rect x="107.1" y="104.2" width="8.4" height="11.3" fill="#4b66f4"/>
<rect x="114.9" y="104.2" width="8.4" height="11.3" fill="#4b68f5"/>
<rect x="122.7" y="104.2" width="8.4" height="11.3" fill="#4b6af5"/>
<rect x="130.4" y="104.2" width="8.4" height="11.3" fill="#4a6cf6"/>
<rect x="138.2" y="104.2" width="8.4" height="11.3" fill="#4a6df6"/>
<rect x="146" y="104.2" width="8.4" height="11.3" fill="#4b62f3"/>
<rect x="153.8" y="104.2" width="8.4" height="11.3" fill="#4971f6"/>
<rect x="161.6" y="104.2" width="8.4" height="11.3" fill="#4875f5"/>
<rect x="169.4" y="104.2" width="8.4" height="11.3" fill="#4777f5"/>
<rect x="177.2" y="104.2" width="8.4" height="11.3" fill="#4679f4"/>
<rect x="185" y="104.2" width="8.4" height="11.3" fill="#467bf3"/>
<rect x="192.8" y="104.2" width="8.4" height="11.3" fill="#467df3"/>
<rect x="200.6" y="104.2" width="8.4" height="11.3" fill="#4780f2"/>
<rect x="208.4" y="104.2" width="8.4" height="11.3" fill="#4986ee"/>
<rect x="216.2" y="104.2" width="8.4" height="11.3" fill="#4a8aeb"/>
<rect x="224" y="104.2" width="8.4" height="11.3" fill="#4886ee"/>
<rect x="231.8" y="104.2" width="8.4" height="11.3" fill="#4883f0"/>
<rect x="239.6" y="104.2" width="8.4" height="11.3" fill="#4883f0"/>
<rect x="247.4" y="104.2" width="8.4" height="11.3" fill="#4883f0"/>
<rect x="255.2" y="104.2" width="8.4" height="11.3" fill="#4884f0"/>
<rect x="263" y="104.2" width="8.4" height="11.3" fill="#4884f0"/>
<rect x="270.8" y="104.2" width="8.4" height="11.3" fill="#4884f0"/>
<rect x="278.6" y="104.2" width="8.4" height="11.3" fill="#4884ef"/>
<rect x="286.4" y="104.2" width="8.4" height="11.3" fill="#4885ef"/>
<rect x="294.1" y="104.2" width="8.4" height="11.3" fill="#4885ef"/>
<rect x="301.9" y="104.2" width="8.4" height="11.3" fill="#4885ef"/>
<rect x="309.7" y="104.2" width="8.4" height="11.3" fill="#4885ef"/>
<rect x="317.5" y="104.2" width="8.4" height="11.3" fill="#4886ef"/>
<rect x="325.3" y="104.2" width="8.4" height="11.3" fill="#4886ee"/>
<rect x="333.1" y="104.2" width="8.4" height="11.3" fill="#4886ee"/>
<rect x="340.9" y="104.2" width="8.4" height="11.3" fill="#4987ee"/>
<rect x="348.7" y="104.2" width="8.4" height="11.3" fill="#4987ee"/>
<rect x="356.5" y="104.2" width="8.4" height="11.3" fill="#4a8aeb"/>
<rect x="364.3" y="104.2" width="8.4" height="11.3" fill="#4b93e5"/>
<rect x="372.1" y="104.2" width="8.4" height="11.3" fill="#4e9ddf"/>
<rect x="379.9" y="104.2" width="8.4" height="11.3" fill="#4e9fde"/>
<rect x="29.1" y="114.9" width="8.4" height="11.3" fill="#4642de"/>
<rect x="36.9" y="114.9" width="8.4" height="11.3" fill="#484ae5"/>
<rect x="44.7" y="114.9" width="8.4" height="11.3" fill="#4a53ec"/>
<rect x="52.5" y="114.9" width="8.4" height="11.3" fill="#4b57ef"/>
<rect x="60.3" y="114.9" width="8.4" height="11.3" fill="#4b5af0"/>
<rect x="68.1" y="114.9" width="8.4" height="11.3" fill="#4b5cf1"/>
<rect x="75.9" y="114.9" width="8.4" height="11.3" fill="#4b5ef2"/>
<rect x="83.7" y="114.9" width="8.4" height="11.3" fill="#4b60f3"/>
<rect x="91.5" y="114.9" width="8.4" height="11.3" fill="#4b61f3"/>
<rect x="99.3" y="114.9" width="8.4" height="11.3" fill="#4b63f4"/>
<rect x="107.1" y="114.9" width="8.4" height="11.3" fill="#4b65f4"/>
<rect x="114.9" y="114.9" width="8.4" height="11.3" fill="#4b67f5"/>
<rect x="122.7" y="114.9" width="8.4" height="11.3" fill="#4b69f5"/>
<rect x="130.4" y="114.9" width="8.4" height="11.3" fill="#4a6bf5"/>
<rect x="138.2" y="114.9" width="8.4" height="11.3" fill="#4a6cf6"/>
<rect x="146" y="114.9" width="8.4" height="11.3" fill="#4b61f3"/>
<rect x="153.8" y="114.9" width="8.4" height="11.3" fill="#4970f6"/>
<rect x="161.6" y="114.9" width="8.4" height="11.3" fill="#4874f6"/>
<rect x="169.4" y="114.9" width="8.4" height="11.3" fill="#4776f5"/>
<rect x="177.2" y="114.9" width="8.4" height="11.3" fill="#4778f4"/>
<rect x="185" y="114.9" width="8.4" height="11.3" fill="#467af4"/>
<rect x="192.8" y="114.9" width="8.4" height="11.3" fill="#467cf3"/>
<rect x="200.6" y="114.9" width="8.4" height="11.3" fill="#477ff2"/>
<rect x="208.4" y="114.9" width="8.4" height="11.3" fill="#4885ef"/>
<rect x="216.2" y="114.9" width="8.4" height="11.3" fill="#4988ed"/>
<rect x="224" y="114.9" width="8.4" height="11.3" fill="#4885ef"/>
<rect x="231.8" y="114.9" width="8.4" height="11.3" fill="#4782f0"/>
<rect x="239.6" y="114.9" width="8.4" height="11.3" fill="#4782f1"/>
<rect x="247.4" y="114.9" width="8.4" height="11.3" fill="#4782f0"/>
<rect x="255.2" y="114.9" width="8.4" height="11.3" fill="#4783f0"/>
<rect x="263" y="114.9" width="8.4" height="11.3" fill="#4883f0"/>
<rect x="270.8" y="114.9" width="8.4" height="11.3" fill="#4883f0"/>
<rect x="278.6" y="114.9" width="8.4" height="11.3" fill="#4884f0"/>
<rect x="286.4" y="114.9" width="8.4" height="11.3" fill="#4884f0"/>
<rect x="294.1" y="114.9" width="8.4" height="11.3" fill="#4884f0"/>
<rect x="301.9" y="114.9" width="8.4" height="11.3" fill="#4884ef"/>
<rect x="309.7" y="114.9" width="8.4" height="11.3" fill="#4885ef"/>
<rect x="317.5" y="114.9" width="8.4" height="11.3" fill="#4885ef"/>
<rect x="325.3" y="114.9" width="8.4" height="11.3" fill="#4885ef"/>
<rect x="333.1" y="114.9" width="8.4" height="11.3" fill="#4885ef"/>
<rect x="340.9" y="114.9" width="8.4" height="11.3" fill="#4886ef"/>
<rect x="348.7" y="114.9" width="8.4" height="11.3" fill="#4986ee"/>
<rect x="356.5" y="114.9" width="8.4" height="11.3" fill="#4a89ec"/>
<rect x="364.3" y="114.9" width="8.4" height="11.3" fill="#4b92e6"/>
<rect x="372.1" y="114.9" width="8.4" height="11.3" fill="#4e9ce0"/>
<rect x="379.9" y="114.9" width="8.4" height="11.3" fill="#4e9edf"/>
<rect x="29.1" y="125.6" width="8.4" height="11.3" fill="#4640db"/>
<rect x="36.9" y="125.6" width="8.4" height="11.3" fill="#4848e3"/>
<rect x="44.7" y="125.6" width="8.4" height="11.3" fill="#4a51eb"/>
<rect x="52.5" y="125.6" width="8.4" height="11.3" fill="#4a56ee"/>
<rect x="60.3" y="125.6" width="8.4" height="11.3" fill="#4b59f0"/>
<rect x="68.1" y="125.6" width="8.4" height="11.3" fill="#4b5bf1"/>
<rect x="75.9" y="125.6" width="8.4" height="11.3" fill="#4b5df2"/>
<rect x="83.7" y="125.6" width="8.4" height="11.3" fill="#4b5ff2"/>
<rect x="91.5" y="125.6" width="8.4" height="11.3" fill="#4b60f3"/>
<rect x="99.3" y="125.6" width="8.4" height="11.3" fill="#4b62f4"/>
<rect x="107.1" y="125.6" width="8.4" height="11.3" fill="#4b64f4"/>
<rect x="114.9" y="125.6" width="8.4" height="11.3" fill="#4b66f4"/>
<rect x="122.7" y="125.6" width="8.4" height="11.3" fill="#4b68f5"/>
<rect x="130.4" y="125.6" width="8.4" height="11.3" fill="#4b6af5"/>
<rect x="138.2" y="125.6" width="8.4" height="11.3" fill="#4a6bf5"/>
<rect x="146" y="125.6" width="8.4" height="11.3" fill="#4b60f3"/>
<rect x="153.8" y="125.6" width="8.4" height="11.3" fill="#496ff6"/>
<rect x="161.6" y="125.6" width="8.4" height="11.3" fill="#4873f6"/>
<rect x="169.4" y="125.6" width="8.4" height="11.3" fill="#4775f5"/>
<rect x="177.2" y="125.6" width="8.4" height="11.3" fill="#4777f5"/>
<rect x="185" y="125.6" width="8.4" height="11.3" fill="#4679f4"/>
<rect x="192.8" y="125.6" width="8.4" height="11.3" fill="#467bf3"/>
<rect x="200.6" y="125.6" width="8.4" height="11.3" fill="#477ef2"/>
<rect x="208.4" y="125.6" width="8.4" height="11.3" fill="#4783f0"/>
<rect x="216.2" y="125.6" width="8.4" height="11.3" fill="#4886ef"/>
<rect x="224" y="125.6" width="8.4" height="11.3" fill="#4883f0"/>
<rect x="231.8" y="125.6" width="8.4" height="11.3" fill="#4781f1"/>
<rect x="239.6" y="125.6" width="8.4" height="11.3" fill="#4781f1"/>
<rect x="247.4" y="125.6" width="8.4" height="11.3" fill="#4782f1"/>
<rect x="255.2" y="125.6" width="8.4" height="11.3" fill="#4782f1"/>
<rect x="263" y="125.6" width="8.4" height="11.3" fill="#4782f1"/>
<rect x="270.8" y="125.6" width="8.4" height="11.3" fill="#4782f0"/>
<rect x="278.6" y="125.6" width="8.4" height="11.3" fill="#4783f0"/>
<rect x="286.4" y="125.6" width="8.4" height="11.3" fill="#4883f0"/>
<rect x="294.1" y="125.6" width="8.4" height="11.3" fill="#4883f0"/>
<rect x="301.9" y="125.6" width="8.4" height="11.3" fill="#4883f0"/>
<rect x="309.7" y="125.6" width="8.4" height="11.3" fill="#4884f0"/>
<rect x="317.5" y="125.6" width="8.4" height="11.3" fill="#4884f0"/>
<rect x="325.3" y="125.6" width="8.4" height="11.3" fill="#4884ef"/>
<rect x="333.1" y="125.6" width="8.4" height="11.3" fill="#4885ef"/>
<rect x="340.9" y="125.6" width="8.4" height="11.3" fill="#4885ef"/>
<rect x="348.7" y="125.6" width="8.4" height="11.3" fill="#4886ef"/>
<rect x="356.5" y="125.6" width="8.4" height="11.3" fill="#4989ed"/>
<rect x="364.3" y="125.6" width="8.4" height="11.3" fill="#4b91e7"/>
<rect x="372.1" y="125.6" width="8.4" height="11.3" fill="#4d9be0"/>
<rect x="379.9" y="125.6" width="8.4" height="11.3" fill="#4e9de0"/>
<rect x="29.1" y="136.4" width="8.4" height="11.3" fill="#453ed9"/>
<rect x="36.9" y="136.4" width="8.4" height="11.3" fill="#4746e1"/>
<rect x="44.7" y="136.4" width="8.4" height="11.3" fill="#4950ea"/>
<rect x="52.5" y="136.4" width="8.4" height="11.3" fill="#4a55ed"/>
<rect x="60.3" y="136.4" width="8.4" height="11.3" fill="#4b58ef"/>
<rect x="68.1" y="136.4" width="8.4" height="11.3" fill="#4b5af0"/>
<rect x="75.9" y="136.4" width="8.4" height="11.3" fill="#4b5cf1"/>
<rect x="83.7" y="136.4" width="8.4" height="11.3" fill="#4b5ef2"/>
<rect x="91.5" y="136.4" width="8.4" height="11.3" fill="#4b5ff3"/>
<rect x="99.3" y="136.4" width="8.4" height="11.3" fill="#4b61f3"/>
<rect x="107.1" y="136.4" width="8.4" height="11.3" fill="#4b63f4"/>
<rect x="114.9" y="136.4" width="8.4" height="11.3" fill="#4b65f4"/>
<rect x="122.7" y="136.4" width="8.4" height="11.3" fill="#4b67f5"/>
<rect x="130.4" y="136.4" width="8.4" height="11.3" fill="#4b69f5"/>
<rect x="138.2" y="136.4" width="8.4" height="11.3" fill="#4b6af5"/>
<rect x="146" y="136.4" width="8.4" height="11.3" fill="#4b60f3"/>
<rect x="153.8" y="136.4" width="8.4" height="11.3" fill="#4a6ef6"/>
<rect x="161.6" y="136.4" width="8.4" height="11.3" fill="#4872f6"/>
<rect x="169.4" y="136.4" width="8.4" height="11.3" fill="#4874f6"/>
<rect x="177.2" y="136.4" width="8.4" height="11.3" fill="#4776f5"/>
<rect x="185" y="136.4" width="8.4" height="11.3" fill="#4778f4"/>
<rect x="192.8" y="136.4" width="8.4" height="11.3" fill="#467af4"/>
<rect x="200.6" y="136.4" width="8.4" height="11.3" fill="#467df3"/>
<rect x="208.4" y="136.4" width="8.4" height="11.3" fill="#4781f1"/>
<rect x="216.2" y="136.4" width="8.4" height="11.3" fill="#4883f0"/>
<rect x="224" y="136.4" width="8.4" height="11.3" fill="#4781f1"/>
<rect x="231.8" y="136.4" width="8.4" height="11.3" fill="#4780f1"/>
<rect x="239.6" y="136.4" width="8.4" height="11.3" fill="#4781f1"/>
<rect x="247.4" y="136.4" width="8.4" height="11.3" fill="#4781f1"/>
<rect x="255.2" y="136.4" width="8.4" height="11.3" fill="#4781f1"/>
<rect x="263" y="136.4" width="8.4" height="11.3" fill="#4781f1"/>
<rect x="270.8" y="136.4" width="8.4" height="11.3" fill="#4782f1"/>
<rect x="278.6" y="136.4" width="8.4" height="11.3" fill="#4782f1"/>
<rect x="286.4" y="136.4" width="8.4" height="11.3" fill="#4782f1"/>
<rect x="294.1" y="136.4" width="8.4" height="11.3" fill="#4782f0"/>
<rect x="301.9" y="136.4" width="8.4" height="11.3" fill="#4783f0"/>
<rect x="309.7" y="136.4" width="8.4" height="11.3" fill="#4883f0"/>
<rect x="317.5" y="136.4" width="8.4" height="11.3" fill="#4883f0"/>
<rect x="325.3" y="136.4" width="8.4" height="11.3" fill="#4883f0"/>
<rect x="333.1" y="136.4" width="8.4" height="11.3" fill="#4884f0"/>
<rect x="340.9" y="136.4" width="8.4" height="11.3" fill="#4884f0"/>
<rect x="348.7" y="136.4" width="8.4" height="11.3" fill="#4885ef"/>
<rect x="356.5" y="136.4" width="8.4" height="11.3" fill="#4988ed"/>
<rect x="364.3" y="136.4" width="8.4" height="11.3" fill="#4b90e7"/>
<rect x="372.1" y="136.4" width="8.4" height="11.3" fill="#4d9ae1"/>
<rect x="379.9" y="136.4" width="8.4" height="11.3" fill="#4d9be0"/>
<rect x="29.1" y="147.1" width="8.4" height="11.3" fill="#443cd6"/>
<rect x="36.9" y="147.1" width="8.4" height="11.3" fill="#4744e0"/>
<rect x="44.7" y="147.1" width="8.4" height="11.3" fill="#494fe9"/>
<rect x="52.5" y="147.1" width="8.4" height="11.3" fill="#4a54ed"/>
<rect x="60.3" y="147.1" width="8.4" height="11.3" fill="#4b57ef"/>
<rect x="68.1" y="147.1" width="8.4" height="11.3" fill="#4b5af0"/>
<rect x="75.9" y="147.1" width="8.4" height="11.3" fill="#4b5bf1"/>
<rect x="83.7" y="147.1" width="8.4" height="11.3" fill="#4b5df2"/>
<rect x="91.5" y="147.1" width="8.4" height="11.3" fill="#4b5ff2"/>
<rect x="99.3" y="147.1" width="8.4" height="11.3" fill="#4b60f3"/>
<rect x="107.1" y="147.1" width="8.4" height="11.3" fill="#4b62f4"/>
<rect x="114.9" y="147.1" width="8.4" height="11.3" fill="#4b64f4"/>
<rect x="122.7" y="147.1" width="8.4" height="11.3" fill="#4b66f4"/>
<rect x="130.4" y="147.1" width="8.4" height="11.3" fill="#4b68f5"/>
<rect x="138.2" y="147.1" width="8.4" height="11.3" fill="#4b69f5"/>
<rect x="146" y="147.1" width="8.4" height="11.3" fill="#4b60f3"/>
<rect x="153.8" y="147.1" width="8.4" height="11.3" fill="#4a6df6"/>
<rect x="161.6" y="147.1" width="8.4" height="11.3" fill="#4971f6"/>
<rect x="169.4" y="147.1" width="8.4" height="11.3" fill="#4873f6"/>
<rect x="177.2" y="147.1" width="8.4" height="11.3" fill="#4776f5"/>
<rect x="185" y="147.1" width="8.4" height="11.3" fill="#4778f5"/>
<rect x="192.8" y="147.1" width="8.4" height="11.3" fill="#4679f4"/>
<rect x="200.6" y="147.1" width="8.4" height="11.3" fill="#467bf3"/>
<rect x="208.4" y="147.1" width="8.4" height="11.3" fill="#477ff2"/>
<rect x="216.2" y="147.1" width="8.4" height="11.3" fill="#4781f1"/>
<rect x="224" y="147.1" width="8.4" height="11.3" fill="#4780f2"/>
<rect x="231.8" y="147.1" width="8.4" height="11.3" fill="#477ff2"/>
<rect x="239.6" y="147.1" width="8.4" height="11.3" fill="#4780f2"/>
<rect x="247.4" y="147.1" width="8.4" height="11.3" fill="#4780f2"/>
<rect x="255.2" y="147.1" width="8.4" height="11.3" fill="#4780f2"/>
<rect x="263" y="147.1" width="8.4" height="11.3" fill="#4780f1"/>
<rect x="270.8" y="147.1" width="8.4" height="11.3" fill="#4781f1"/>
<rect x="278.6" y="147.1" width="8.4" height="11.3" fill="#4781f1"/>
<rect x="286.4" y="147.1" width="8.4" height="11.3" fill="#4781f1"/>
<rect x="294.1" y="147.1" width="8.4" height="11.3" fill="#4782f1"/>
<rect x="301.9" y="147.1" width="8.4" height="11.3" fill="#4782f1"/>
<rect x="309.7" y="147.1" width="8.4" height="11.3" fill="#4782f1"/>
<rect x="317.5" y="147.1" width="8.4" height="11.3" fill="#4782f0"/>
<rect x="325.3" y="147.1" width="8.4" height="11.3" fill="#4783f0"/>
<rect x="333.1" y="147.1" width="8.4" height="11.3" fill="#4783f0"/>
<rect x="340.9" y="147.1" width="8.4" height="11.3" fill="#4883f0"/>
<rect x="348.7" y="147.1" width="8.4" height="11.3" fill="#4884f0"/>
<rect x="356.5" y="147.1" width="8.4" height="11.3" fill="#4987ee"/>
<rect x="364.3" y="147.1" width="8.4" height="11.3" fill="#4b8fe8"/>
<rect x="372.1" y="147.1" width="8.4" height="11.3" fill="#4d98e2"/>
<rect x="379.9" y="147.1" width="8.4" height="11.3" fill="#4d9ae1"/>
<rect x="29.1" y="157.9" width="8.4" height="11.3" fill="#443ad3"/>
<rect x="36.9" y="157.9" width="8.4" height="11.3" fill="#4643de"/>
<rect x="44.7" y="157.9" width="8.4" height="11.3" fill="#494de8"/>
<rect x="52.5" y="157.9" width="8.4" height="11.3" fill="#4a53ec"/>
<rect x="60.3" y="157.9" width="8.4" height="11.3" fill="#4a56ee"/>
<rect x="68.1" y="157.9" width="8.4" height="11.3" fill="#4b59ef"/>
<rect x="75.9" y="157.9" width="8.4" height="11.3" fill="#4b5af0"/>
<rect x="83.7" y="157.9" width="8.4" height="11.3" fill="#4b5cf1"/>
<rect x="91.5" y="157.9" width="8.4" height="11.3" fill="#4b5ef2"/>
<rect x="99.3" y="157.9" width="8.4" height="11.3" fill="#4b5ff3"/>
<rect x="107.1" y="157.9" width="8.4" height="11.3" fill="#4b61f3"/>
<rect x="114.9" y="157.9" width="8.4" height="11.3" fill="#4b63f4"/>
<rect x="122.7" y="157.9" width="8.4" height="11.3" fill="#4b65f4"/>
<rect x="130.4" y="157.9" width="8.4" height="11.3" fill="#4b67f5"/>
<rect x="138.2" y="157.9" width="8.4" height="11.3" fill="#4b68f5"/>
<rect x="146" y="157.9" width="8.4" height="11.3" fill="#4b60f3"/>
<rect x="153.8" y="157.9" width="8.4" height="11.3" fill="#4a6df6"/>
<rect x="161.6" y="157.9" width="8.4" height="11.3" fill="#4970f6"/>
<rect x="169.4" y="157.9" width="8.4" height="11.3" fill="#4872f6"/>
<rect x="177.2" y="157.9" width="8.4" height="11.3" fill="#4875f5"/>
<rect x="185" y="157.9" width="8.4" height="11.3" fill="#4777f5"/>
<rect x="192.8" y="157.9" width="8.4" height="11.3" fill="#4778f4"/>
<rect x="200.6" y="157.9" width="8.4" height="11.3" fill="#467af4"/>
<rect x="208.4" y="157.9" width="8.4" height="11.3" fill="#467df3"/>
<rect x="216.2" y="157.9" width="8.4" height="11.3" fill="#477ff2"/>
<rect x="224" y="157.9" width="8.4" height="11.3" fill="#477ff2"/>
<rect x="231.8" y="157.9" width="8.4" height="11.3" fill="#477ef2"/>
<rect x="239.6" y="157.9" width="8.4" height="11.3" fill="#477ff2"/>
<rect x="247.4" y="157.9" width="8.4" height="11.3" fill="#477ff2"/>
<rect x="255.2" y="157.9" width="8.4" height="11.3" fill="#477ff2"/>
<rect x="263" y="157.9" width="8.4" height="11.3" fill="#4780f2"/>
<rect x="270.8" y="157.9" width="8.4" height="11.3" fill="#4780f2"/>
<rect x="278.6" y="157.9" width="8.4" height="11.3" fill="#4780f2"/>
<rect x="286.4" y="157.9" width="8.4" height="11.3" fill="#4780f1"/>
<rect x="294.1" y="157.9" width="8.4" height="11.3" fill="#4781f1"/>
<rect x="301.9" y="157.9" width="8.4" height="11.3" fill="#4781f1"/>
<rect x="309.7" y="157.9" width="8.4" height="11.3" fill="#4781f1"/>
<rect x="317.5" y="157.9" width="8.4" height="11.3" fill="#4781f1"/>
<rect x="325.3" y="157.9" width="8.4" height="11.3" fill="#4782f1"/>
<rect x="333.1" y="157.9" width="8.4" height="11.3" fill="#4782f1"/>
<rect x="340.9" y="157.9" width="8.4" height="11.3" fill="#4782f0"/>
<rect x="348.7" y="157.9" width="8.4" height="11.3" fill="#4883f0"/>
<rect x="356.5" y="157.9" width="8.4" height="11.3" fill="#4886ef"/>
<rect x="364.3" y="157.9" width="8.4" height="11.3" fill="#4b8ee9"/>
<rect x="372.1" y="157.9" width="8.4" height="11.3" fill="#4c97e3"/>
<rect x="379.9" y="157.9" width="8.4" height="11.3" fill="#4d99e2"/>
<rect x="29.1" y="168.6" width="8.4" height="11.3" fill="#4339d0"/>
<rect x="36.9" y="168.6" width="8.4" height="11.3" fill="#4641dc"/>
<rect x="44.7" y="168.6" width="8.4" height="11.3" fill="#494ce7"/>
<rect x="52.5" y="168.6" width="8.4" height="11.3" fill="#4a52eb"/>
<rect x="60.3" y="168.6" width="8.4" height="11.3" fill="#4a55ee"/>
<rect x="68.1" y="168.6" width="8.4" height="11.3" fill="#4b58ef"/>
<rect x="75.9" y="168.6" width="8.4" height="11.3" fill="#4b5af0"/>
<rect x="83.7" y="168.6" width="8.4" height="11.3" fill="#4b5bf1"/>
<rect x="91.5" y="168.6" width="8.4" height="11.3" fill="#4b5df2"/>
<rect x="99.3" y="168.6" width="8.4" height="11.3" fill="#4b5ff2"/>
<rect x="107.1" y="168.6" width="8.4" height="11.3" fill="#4b60f3"/>
<rect x="114.9" y="168.6" width="8.4" height="11.3" fill="#4b62f4"/>
<rect x="122.7" y="168.6" width="8.4" height="11.3" fill="#4b64f4"/>
<rect x="130.4" y="168.6" width="8.4" height="11.3" fill="#4b66f5"/>
<rect x="138.2" y="168.6" width="8.4" height="11.3" fill="#4b68f5"/>
<rect x="146" y="168.6" width="8.4" height="11.3" fill="#4b60f3"/>
<rect x="153.8" y="168.6" width="8.4" height="11.3" fill="#4a6cf6"/>
<rect x="161.6" y="168.6" width="8.4" height="11.3" fill="#496ff6"/>
<rect x="169.4" y="168.6" width="8.4" height="11.3" fill="#4971f6"/>
<rect x="177.2" y="168.6" width="8.4" height="11.3" fill="#4874f6"/>
<rect x="185" y="168.6" width="8.4" height="11.3" fill="#4776f5"/>
<rect x="192.8" y="168.6" width="8.4" height="11.3" fill="#4777f5"/>
<rect x="200.6" y="168.6" width="8.4" height="11.3" fill="#4679f4"/>
<rect x="208.4" y="168.6" width="8.4" height="11.3" fill="#467bf3"/>
<rect x="216.2" y="168.6" width="8.4" height="11.3" fill="#467df3"/>
<rect x="224" y="168.6" width="8.4" height="11.3" fill="#467df3"/>
<rect x="231.8" y="168.6" width="8.4" height="11.3" fill="#467ef3"/>
<rect x="239.6" y="168.6" width="8.4" height="11.3" fill="#477ef2"/>
<rect x="247.4" y="168.6" width="8.4" height="11.3" fill="#477ef2"/>
<rect x="255.2" y="168.6" width="8.4" height="11.3" fill="#477ef2"/>
<rect x="263" y="168.6" width="8.4" height="11.3" fill="#477ff2"/>
<rect x="270.8" y="168.6" width="8.4" height="11.3" fill="#477ff2"/>
<rect x="278.6" y="168.6" width="8.4" height="11.3" fill="#477ff2"/>
<rect x="286.4" y="168.6" width="8.4" height="11.3" fill="#4780f2"/>
<rect x="294.1" y="168.6" width="8.4" height="11.3" fill="#4780f2"/>
<rect x="301.9" y="168.6" width="8.4" height="11.3" fill="#4780f2"/>
<rect x="309.7" y="168.6" width="8.4" height="11.3" fill="#4780f1"/>
<rect x="317.5" y="168.6" width="8.4" height="11.3" fill="#4781f1"/>
<rect x="325.3" y="168.6" width="8.4" height="11.3" fill="#4781f1"/>
<rect x="333.1" y="168.6" width="8.4" height="11.3" fill="#4781f1"/>
<rect x="340.9" y="168.6" width="8.4" height="11.3" fill="#4781f1"/>
<rect x="348.7" y="168.6" width="8.4" height="11.3" fill="#4782f1"/>
<rect x="356.5" y="168.6" width="8.4" height="11.3" fill="#4885ef"/>
<rect x="364.3" y="168.6" width="8.4" height="11.3" fill="#4a8dea"/>
<rect x="372.1" y="168.6" width="8.4" height="11.3" fill="#4c96e3"/>
<rect x="379.9" y="168.6" width="8.4" height="11.3" fill="#4c98e2"/>
<rect x="29.1" y="179.4" width="8.4" height="11.3" fill="#4337cc"/>
<rect x="36.9" y="179.4" width="8.4" height="11.3" fill="#453fda"/>
<rect x="44.7" y="179.4" width="8.4" height="11.3" fill="#484be6"/>
<rect x="52.5" y="179.4" width="8.4" height="11.3" fill="#4951ea"/>
<rect x="60.3" y="179.4" width="8.4" height="11.3" fill="#4a54ed"/>
<rect x="68.1" y="179.4" width="8.4" height="11.3" fill="#4a57ee"/>
<rect x="75.9" y="179.4" width="8.4" height="11.3" fill="#4b59ef"/>
<rect x="83.7" y="179.4" width="8.4" height="11.3" fill="#4b5af0"/>
<rect x="91.5" y="179.4" width="8.4" height="11.3" fill="#4b5cf1"/>
<rect x="99.3" y="179.4" width="8.4" height="11.3" fill="#4b5ef2"/>
<rect x="107.1" y="179.4" width="8.4" height="11.3" fill="#4b5ff3"/>
<rect x="114.9" y="179.4" width="8.4" height="11.3" fill="#4b61f3"/>
<rect x="122.7" y="179.4" width="8.4" height="11.3" fill="#4b63f4"/>
<rect x="130.4" y="179.4" width="8.4" height="11.3" fill="#4b66f4"/>
<rect x="138.2" y="179.4" width="8.4" height="11.3" fill="#4b67f5"/>
<rect x="146" y="179.4" width="8.4" height="11.3" fill="#4b60f3"/>
<rect x="153.8" y="179.4" width="8.4" height="11.3" fill="#4a6bf5"/>
<rect x="161.6" y="179.4" width="8.4" height="11.3" fill="#4a6ef6"/>
<rect x="169.4" y="179.4" width="8.4" height="11.3" fill="#4971f6"/>
<rect x="177.2" y="179.4" width="8.4" height="11.3" fill="#4873f6"/>
<rect x="185" y="179.4" width="8.4" height="11.3" fill="#4875f5"/>
<rect x="192.8" y="179.4" width="8.4" height="11.3" fill="#4777f5"/>
<rect x="200.6" y="179.4" width="8.4" height="11.3" fill="#4778f4"/>
<rect x="208.4" y="179.4" width="8.4" height="11.3" fill="#467af4"/>
<rect x="216.2" y="179.4" width="8.4" height="11.3" fill="#467bf3"/>
<rect x="224" y="179.4" width="8.4" height="11.3" fill="#467cf3"/>
<rect x="231.8" y="179.4" width="8.4" height="11.3" fill="#467df3"/>
<rect x="239.6" y="179.4" width="8.4" height="11.3" fill="#467df3"/>
<rect x="247.4" y="179.4" width="8.4" height="11.3" fill="#467df3"/>
<rect x="255.2" y="179.4" width="8.4" height="11.3" fill="#467ef3"/>
<rect x="263" y="179.4" width="8.4" height="11.3" fill="#477ef2"/>
<rect x="270.8" y="179.4" width="8.4" height="11.3" fill="#477ef2"/>
<rect x="278.6" y="179.4" width="8.4" height="11.3" fill="#477ef2"/>
<rect x="286.4" y="179.4" width="8.4" height="11.3" fill="#477ff2"/>
<rect x="294.1" y="179.4" width="8.4" height="11.3" fill="#477ff2"/>
<rect x="301.9" y="179.4" width="8.4" height="11.3" fill="#477ff2"/>
<rect x="309.7" y="179.4" width="8.4" height="11.3" fill="#4780f2"/>
<rect x="317.5" y="179.4" width="8.4" height="11.3" fill="#4780f2"/>
<rect x="325.3" y="179.4" width="8.4" height="11.3" fill="#4780f2"/>
<rect x="333.1" y="179.4" width="8.4" height="11.3" fill="#4780f1"/>
<rect x="340.9" y="179.4" width="8.4" height="11.3" fill="#4781f1"/>
<rect x="348.7" y="179.4" width="8.4" height="11.3" fill="#4781f1"/>
<rect x="356.5" y="179.4" width="8.4" height="11.3" fill="#4884f0"/>
<rect x="364.3" y="179.4" width="8.4" height="11.3" fill="#4a8cea"/>
<rect x="372.1" y="179.4" width="8.4" height="11.3" fill="#4c95e4"/>
<rect x="379.9" y="179.4" width="8.4" height="11.3" fill="#4c96e3"/>
<rect x="29.1" y="190.1" width="8.4" height="11.3" fill="#4236ca"/>
<rect x="36.9" y="190.1" width="8.4" height="11.3" fill="#453ed9"/>
<rect x="44.7" y="190.1" width="8.4" height="11.3" fill="#484ae5"/>
<rect x="52.5" y="190.1" width="8.4" height="11.3" fill="#4950ea"/>
<rect x="60.3" y="190.1" width="8.4" height="11.3" fill="#4a54ed"/>
<rect x="68.1" y="190.1" width="8.4" height="11.3" fill="#4a56ee"/>
<rect x="75.9" y="190.1" width="8.4" height="11.3" fill="#4b58ef"/>
<rect x="83.7" y="190.1" width="8.4" height="11.3" fill="#4b5af0"/>
<rect x="91.5" y="190.1" width="8.4" height="11.3" fill="#4b5cf1"/>
<rect x="99.3" y="190.1" width="8.4" height="11.3" fill="#4b5df2"/>
<rect x="107.1" y="190.1" width="8.4" height="11.3" fill="#4b5ff2"/>
<rect x="114.9" y="190.1" width="8.4" height="11.3" fill="#4b61f3"/>
<rect x="122.7" y="190.1" width="8.4" height="11.3" fill="#4b63f4"/>
<rect x="130.4" y="190.1" width="8.4" height="11.3" fill="#4b65f4"/>
<rect x="138.2" y="190.1" width="8.4" height="11.3" fill="#4b66f5"/>
<rect x="146" y="190.1" width="8.4" height="11.3" fill="#4b60f3"/>
<rect x="153.8" y="190.1" width="8.4" height="11.3" fill="#4a6bf5"/>
<rect x="161.6" y="190.1" width="8.4" height="11.3" fill="#4a6ef6"/>
<rect x="169.4" y="190.1" width="8.4" height="11.3" fill="#4970f6"/>
<rect x="177.2" y="190.1" width="8.4" height="11.3" fill="#4872f6"/>
<rect x="185" y="190.1" width="8.4" height="11.3" fill="#4874f6"/>
<rect x="192.8" y="190.1" width="8.4" height="11.3" fill="#4776f5"/>
<rect x="200.6" y="190.1" width="8.4" height="11.3" fill="#4778f5"/>
<rect x="208.4" y="190.1" width="8.4" height="11.3" fill="#467af4"/>
<rect x="216.2" y="190.1" width="8.4" height="11.3" fill="#467bf4"/>
<rect x="224" y="190.1" width="8.4" height="11.3" fill="#467cf3"/>
<rect x="231.8" y="190.1" width="8.4" height="11.3" fill="#467cf3"/>
<rect x="239.6" y="190.1" width="8.4" height="11.3" fill="#467df3"/>
<rect x="247.4" y="190.1" width="8.4" height="11.3" fill="#467df3"/>
<rect x="255.2" y="190.1" width="8.4" height="11.3" fill="#467df3"/>
<rect x="263" y="190.1" width="8.4" height="11.3" fill="#467df3"/>
<rect x="270.8" y="190.1" width="8.4" height="11.3" fill="#467ef3"/>
<rect x="278.6" y="190.1" width="8.4" height="11.3" fill="#477ef2"/>
<rect x="286.4" y="190.1" width="8.4" height="11.3" fill="#477ef2"/>
<rect x="294.1" y="190.1" width="8.4" height="11.3" fill="#477ff2"/>
<rect x="301.9" y="190.1" width="8.4" height="11.3" fill="#477ff2"/>
<rect x="309.7" y="190.1" width="8.4" height="11.3" fill="#477ff2"/>
<rect x="317.5" y="190.1" width="8.4" height="11.3" fill="#477ff2"/>
<rect x="325.3" y="190.1" width="8.4" height="11.3" fill="#4780f2"/>
<rect x="333.1" y="190.1" width="8.4" height="11.3" fill="#4780f2"/>
<rect x="340.9" y="190.1" width="8.4" height="11.3" fill="#4780f1"/>
<rect x="348.7" y="190.1" width="8.4" height="11.3" fill="#4781f1"/>
<rect x="356.5" y="190.1" width="8.4" height="11.3" fill="#4884f0"/>
<rect x="364.3" y="190.1" width="8.4" height="11.3" fill="#4a8beb"/>
<rect x="372.1" y="190.1" width="8.4" height="11.3" fill="#4c94e5"/>
<rect x="379.9" y="190.1" width="8.4" height="11.3" fill="#4c96e4"/>
</g></g>
<g clip-path="url(#clip1)" filter="url(#soft)">
<ellipse cx="44.8" cy="23.7" rx="3.2" ry="1.8" fill="#74c985" transform="rotate(1 44.8 23.7)"/>
<ellipse cx="53.5" cy="22.2" rx="3.5" ry="2.1" fill="#81ca77" transform="rotate(-8 53.5 22.2)"/>
<ellipse cx="65.4" cy="22.3" rx="3.1" ry="1.7" fill="#7aca7f" transform="rotate(-15 65.4 22.3)"/>
<ellipse cx="75.1" cy="24.3" rx="2.8" ry="1.9" fill="#a9c757" transform="rotate(-24 75.1 24.3)"/>
<ellipse cx="89.4" cy="26.2" rx="3.3" ry="1.9" fill="#f5c356" transform="rotate(-32 89.4 26.2)"/>
<ellipse cx="97.6" cy="25.5" rx="3.6" ry="2.2" fill="#e3bc4f" transform="rotate(-17 97.6 25.5)"/>
<ellipse cx="108.5" cy="24.9" rx="3.2" ry="1.8" fill="#d9be4b" transform="rotate(20 108.5 24.9)"/>
<ellipse cx="122.4" cy="25.1" rx="2.8" ry="1.8" fill="#a1c85c" transform="rotate(-58 122.4 25.1)"/>
<ellipse cx="129.7" cy="23.9" rx="3.4" ry="2" fill="#d1bf4a" transform="rotate(-13 129.7 23.9)"/>
<ellipse cx="141.2" cy="26.1" rx="2.9" ry="2.2" fill="#bbc44e" transform="rotate(63 141.2 26.1)"/>
<ellipse cx="153.8" cy="21.7" rx="3" ry="1.7" fill="#89ca6f" transform="rotate(13 153.8 21.7)"/>
<ellipse cx="162.4" cy="24.3" rx="3.2" ry="1.9" fill="#9dc95f" transform="rotate(-2 162.4 24.3)"/>
<ellipse cx="173.7" cy="23.3" rx="2.9" ry="1.8" fill="#c5c24b" transform="rotate(-61 173.7 23.3)"/>
<ellipse cx="188.7" cy="22.4" rx="3.5" ry="2.1" fill="#e0bd4d" transform="rotate(-23 188.7 22.4)"/>
<ellipse cx="196.4" cy="24.8" rx="3.4" ry="2.1" fill="#b2c652" transform="rotate(-24 196.4 24.8)"/>
<ellipse cx="206.9" cy="23.8" rx="3.2" ry="1.7" fill="#ccc04a" transform="rotate(-34 206.9 23.8)"/>
<ellipse cx="218.6" cy="23.6" rx="2.8" ry="1.9" fill="#92ca67" transform="rotate(-22 218.6 23.6)"/>
<ellipse cx="233.2" cy="24.6" rx="3.2" ry="1.8" fill="#afc653" transform="rotate(73 233.2 24.6)"/>
<ellipse cx="241" cy="21.7" rx="2.7" ry="1.7" fill="#a1c85c" transform="rotate(-21 241 21.7)"/>
<ellipse cx="253.2" cy="25" rx="3.3" ry="2.1" fill="#b3c551" transform="rotate(-26 253.2 25)"/>
<ellipse cx="263.9" cy="21.9" rx="3.5" ry="1.7" fill="#b0c653" transform="rotate(-29 263.9 21.9)"/>
<ellipse cx="275.5" cy="24.4" rx="3.2" ry="2.3" fill="#77ca82" transform="rotate(-20 275.5 24.4)"/>
<ellipse cx="287.1" cy="23.7" rx="3.1" ry="2" fill="#91ca69" transform="rotate(1 287.1 23.7)"/>
<ellipse cx="295.9" cy="24.8" rx="3.2" ry="2.3" fill="#93ca66" transform="rotate(-35 295.9 24.8)"/>
<ellipse cx="308.8" cy="24" rx="2.9" ry="2.3" fill="#a8c757" transform="rotate(-15 308.8 24)"/>
<ellipse cx="317.9" cy="23.5" rx="3.5" ry="2.2" fill="#adc654" transform="rotate(-13 317.9 23.5)"/>
<ellipse cx="328.6" cy="23.2" rx="2.6" ry="1.7" fill="#b5c550" transform="rotate(19 328.6 23.2)"/>
<ellipse cx="340.4" cy="22.5" rx="3.2" ry="2" fill="#90ca69" transform="rotate(20 340.4 22.5)"/>
<ellipse cx="351.7" cy="25.4" rx="3.2" ry="2.1" fill="#8aca6e" transform="rotate(26 351.7 25.4)"/>
<ellipse cx="361.3" cy="22.2" rx="2.6" ry="2.2" fill="#a2c85b" transform="rotate(-81 361.3 22.2)"/>
<ellipse cx="372.8" cy="22" rx="3.2" ry="1.9" fill="#aec654" transform="rotate(-18 372.8 22)"/>
<ellipse cx="37.1" cy="35.6" rx="2.9" ry="1.9" fill="#64c3a0" transform="rotate(23 37.1 35.6)"/>
<ellipse cx="47.7" cy="36" rx="2.7" ry="2.3" fill="#94ca66" transform="rotate(-8 47.7 36)"/>
<ellipse cx="61.2" cy="32.3" rx="3.3" ry="2" fill="#9dc95f" transform="rotate(38 61.2 32.3)"/>
<ellipse cx="68.4" cy="36.3" rx="3.5" ry="1.8" fill="#cfc049" transform="rotate(-6 68.4 36.3)"/>
<ellipse cx="81.6" cy="36" rx="3.5" ry="2.2" fill="#debd4c" transform="rotate(-10 81.6 36)"/>
<ellipse cx="92.1" cy="33.6" rx="2.8" ry="2.2" fill="#f4d454" transform="rotate(5 92.1 33.6)"/>
<ellipse cx="105" cy="32.9" rx="3.1" ry="2.1" fill="#dfbd4d" transform="rotate(11 105 32.9)"/>
<ellipse cx="115" cy="35.5" rx="3" ry="2" fill="#efbd57" transform="rotate(-60 115 35.5)"/>
<ellipse cx="127.4" cy="34.9" rx="3" ry="2.2" fill="#adc755" transform="rotate(63 127.4 34.9)"/>
<ellipse cx="136.9" cy="35" rx="3.1" ry="2" fill="#8eca6a" transform="rotate(84 136.9 35)"/>
<ellipse cx="149.9" cy="34.8" rx="2.7" ry="1.8" fill="#c3c24b" transform="rotate(25 149.9 34.8)"/>
<ellipse cx="157.8" cy="34.5" rx="3" ry="2.2" fill="#86ca71" transform="rotate(48 157.8 34.5)"/>
<ellipse cx="169.6" cy="32.4" rx="3.3" ry="2.3" fill="#a0c85d" transform="rotate(-20 169.6 32.4)"/>
<ellipse cx="180.2" cy="33.9" rx="2.7" ry="2.1" fill="#c0c34c" transform="rotate(-45 180.2 33.9)"/>
<ellipse cx="193.1" cy="36.4" rx="3.2" ry="2.2" fill="#93ca67" transform="rotate(65 193.1 36.4)"/>
<ellipse cx="203.8" cy="34.8" rx="3.2" ry="2.2" fill="#dcbd4c" transform="rotate(-32 203.8 34.8)"/>
<ellipse cx="213.3" cy="33.7" rx="2.8" ry="2.3" fill="#dfbd4d" transform="rotate(-46 213.3 33.7)"/>
<ellipse cx="223.3" cy="34.1" rx="3.5" ry="2" fill="#acc755" transform="rotate(24 223.3 34.1)"/>
<ellipse cx="234.4" cy="34.9" rx="3.4" ry="1.9" fill="#91ca68" transform="rotate(-28 234.4 34.9)"/>
<ellipse cx="249" cy="36" rx="2.6" ry="2.2" fill="#90ca69" transform="rotate(13 249 36)"/>
<ellipse cx="257" cy="33.2" rx="3.6" ry="2.3" fill="#abc755" transform="rotate(-26 257 33.2)"/>
<ellipse cx="267.5" cy="32.7" rx="3" ry="1.9" fill="#88ca70" transform="rotate(-34 267.5 32.7)"/>
<ellipse cx="282.3" cy="33.1" rx="3.3" ry="1.9" fill="#8dca6b" transform="rotate(-36 282.3 33.1)"/>
<ellipse cx="290.8" cy="32.7" rx="3.5" ry="2.2" fill="#acc755" transform="rotate(-55 290.8 32.7)"/>
<ellipse cx="305.1" cy="36.1" rx="3.5" ry="2.1" fill="#80ca78" transform="rotate(18 305.1 36.1)"/>
<ellipse cx="315.7" cy="35.5" rx="3.4" ry="1.9" fill="#a6c858" transform="rotate(-25 315.7 35.5)"/>
<ellipse cx="322.9" cy="36.5" rx="3.5" ry="1.7" fill="#b8c44f" transform="rotate(-27 322.9 36.5)"/>
<ellipse cx="336.7" cy="34.9" rx="3" ry="2.3" fill="#96ca65" transform="rotate(47 336.7 34.9)"/>
<ellipse cx="344.7" cy="35.2" rx="2.9" ry="1.9" fill="#a7c758" transform="rotate(-53 344.7 35.2)"/>
<ellipse cx="356.9" cy="33.6" rx="3.1" ry="1.9" fill="#95ca65" transform="rotate(20 356.9 33.6)"/>
<ellipse cx="370.6" cy="32.6" rx="3.4" ry="1.7" fill="#bdc44d" transform="rotate(51 370.6 32.6)"/>
<ellipse cx="381.9" cy="34.8" rx="3" ry="2" fill="#b1c652" transform="rotate(-33 381.9 34.8)"/>
<ellipse cx="43.8" cy="44.4" rx="2.8" ry="1.7" fill="#62c2a4" transform="rotate(15 43.8 44.4)"/>
<ellipse cx="55" cy="43.2" rx="3.5" ry="1.7" fill="#adc755" transform="rotate(48 55 43.2)"/>
<ellipse cx="62.6" cy="43.5" rx="3.5" ry="1.8" fill="#bac44e" transform="rotate(55 62.6 43.5)"/>
<ellipse cx="76.5" cy="45.1" rx="2.7" ry="2" fill="#c8c14a" transform="rotate(-3 76.5 45.1)"/>
<ellipse cx="87.5" cy="46" rx="3" ry="2.1" fill="#f5ca55" transform="rotate(37 87.5 46)"/>
<ellipse cx="96.8" cy="43.5" rx="3.4" ry="2.1" fill="#f4d554" transform="rotate(33 96.8 43.5)"/>
<ellipse cx="110.1" cy="43.9" rx="2.8" ry="2.3" fill="#e3bc4f" transform="rotate(-54 110.1 43.9)"/>
<ellipse cx="117.9" cy="43.3" rx="3" ry="2.1" fill="#cac14a" transform="rotate(-47 117.9 43.3)"/>
<ellipse cx="133.3" cy="43.8" rx="3.6" ry="2" fill="#91ca68" transform="rotate(-17 133.3 43.8)"/>
<ellipse cx="144" cy="43.3" rx="3.4" ry="2.1" fill="#78ca81" transform="rotate(-17 144 43.3)"/>
<ellipse cx="152.8" cy="43.7" rx="3.4" ry="2.1" fill="#76c984" transform="rotate(-25 152.8 43.7)"/>
<ellipse cx="164.1" cy="44.7" rx="3.5" ry="1.7" fill="#73c988" transform="rotate(-2 164.1 44.7)"/>
<ellipse cx="175.3" cy="46.9" rx="2.9" ry="2.2" fill="#6ec88d" transform="rotate(0 175.3 46.9)"/>
<ellipse cx="185.7" cy="47.2" rx="3.3" ry="1.9" fill="#7eca7a" transform="rotate(-10 185.7 47.2)"/>
<ellipse cx="199.7" cy="47.4" rx="3" ry="2.2" fill="#cec049" transform="rotate(-18 199.7 47.4)"/>
<ellipse cx="210.6" cy="44.2" rx="3" ry="1.9" fill="#b9c44f" transform="rotate(-54 210.6 44.2)"/>
<ellipse cx="219.1" cy="44.8" rx="3.2" ry="1.8" fill="#a0c85d" transform="rotate(-49 219.1 44.8)"/>
<ellipse cx="229.5" cy="43.3" rx="2.9" ry="1.7" fill="#87ca71" transform="rotate(-4 229.5 43.3)"/>
<ellipse cx="243.3" cy="43.4" rx="3.3" ry="2.2" fill="#75c985" transform="rotate(-64 243.3 43.4)"/>
<ellipse cx="254.5" cy="45" rx="3.1" ry="2.2" fill="#9dc95f" transform="rotate(-2 254.5 45)"/>
<ellipse cx="264.9" cy="45.3" rx="3.3" ry="2.1" fill="#90ca69" transform="rotate(58 264.9 45.3)"/>
<ellipse cx="274.4" cy="43" rx="2.7" ry="2" fill="#86ca72" transform="rotate(4 274.4 43)"/>
<ellipse cx="287.6" cy="45" rx="2.7" ry="2.1" fill="#89ca6f" transform="rotate(58 287.6 45)"/>
<ellipse cx="296.7" cy="45.5" rx="3.5" ry="2" fill="#80ca78" transform="rotate(27 296.7 45.5)"/>
<ellipse cx="310.3" cy="46.6" rx="3.1" ry="2.2" fill="#71c98a" transform="rotate(-25 310.3 46.6)"/>
<ellipse cx="318.1" cy="46.4" rx="2.8" ry="1.8" fill="#96c964" transform="rotate(-19 318.1 46.4)"/>
<ellipse cx="331" cy="47.4" rx="3.5" ry="2" fill="#93ca67" transform="rotate(-11 331 47.4)"/>
<ellipse cx="341.4" cy="44" rx="3.5" ry="2.2" fill="#74c986" transform="rotate(1 341.4 44)"/>
<ellipse cx="353.9" cy="43.3" rx="3.5" ry="2.2" fill="#bec34d" transform="rotate(-2 353.9 43.3)"/>
<ellipse cx="364.1" cy="43.7" rx="2.9" ry="1.9" fill="#9fc95e" transform="rotate(24 364.1 43.7)"/>
<ellipse cx="373.5" cy="45.5" rx="3.4" ry="1.7" fill="#a6c859" transform="rotate(38 373.5 45.5)"/>
<ellipse cx="37.3" cy="57.9" rx="2.7" ry="2.1" fill="#73c987" transform="rotate(5 37.3 57.9)"/>
<ellipse cx="47.9" cy="58.1" rx="3.4" ry="1.8" fill="#64c4a0" transform="rotate(1 47.9 58.1)"/>
<ellipse cx="58.4" cy="55.7" rx="3.6" ry="2.1" fill="#8eca6b" transform="rotate(-64 58.4 55.7)"/>
<ellipse cx="69.9" cy="55.9" rx="3.4" ry="2.1" fill="#d7be4a" transform="rotate(-58 69.9 55.9)"/>
<ellipse cx="80.5" cy="54.3" rx="3.5" ry="2.2" fill="#efbd57" transform="rotate(-62 80.5 54.3)"/>
<ellipse cx="91.9" cy="56.3" rx="2.9" ry="1.9" fill="#e5bc50" transform="rotate(-54 91.9 56.3)"/>
<ellipse cx="101.7" cy="55.2" rx="3.1" ry="2.1" fill="#e5bc50" transform="rotate(-71 101.7 55.2)"/>
<ellipse cx="112.7" cy="56.9" rx="2.8" ry="1.9" fill="#e6bc51" transform="rotate(40 112.7 56.9)"/>
<ellipse cx="123.4" cy="58.4" rx="3.4" ry="1.9" fill="#aec654" transform="rotate(38 123.4 58.4)"/>
<ellipse cx="138.1" cy="57.6" rx="2.9" ry="1.9" fill="#83ca75" transform="rotate(-58 138.1 57.6)"/>
<ellipse cx="148.6" cy="56.6" rx="2.9" ry="1.9" fill="#67c698" transform="rotate(-22 148.6 56.6)"/>
<ellipse cx="158.1" cy="55.1" rx="3.3" ry="1.9" fill="#69c696" transform="rotate(-47 158.1 55.1)"/>
<ellipse cx="170" cy="54.4" rx="3.6" ry="2" fill="#8cca6d" transform="rotate(25 170 54.4)"/>
<ellipse cx="181.7" cy="54.7" rx="2.8" ry="2" fill="#6cc891" transform="rotate(-10 181.7 54.7)"/>
<ellipse cx="191" cy="57.9" rx="3.3" ry="1.8" fill="#8cca6c" transform="rotate(2 191 57.9)"/>
<ellipse cx="201.6" cy="57.3" rx="2.9" ry="1.8" fill="#d4bf4a" transform="rotate(-29 201.6 57.3)"/>
<ellipse cx="213" cy="56.5" rx="2.8" ry="2" fill="#e5bc50" transform="rotate(-57 213 56.5)"/>
<ellipse cx="223.5" cy="57.3" rx="3.5" ry="2.1" fill="#d2bf4a" transform="rotate(15 223.5 57.3)"/>
<ellipse cx="236.2" cy="54.4" rx="3.2" ry="1.8" fill="#8aca6e" transform="rotate(-14 236.2 54.4)"/>
<ellipse cx="245.3" cy="57.4" rx="3.4" ry="1.9" fill="#9bc960" transform="rotate(-27 245.3 57.4)"/>
<ellipse cx="260.5" cy="56.4" rx="2.9" ry="2.2" fill="#86ca71" transform="rotate(24 260.5 56.4)"/>
<ellipse cx="267.7" cy="54.3" rx="2.9" ry="2" fill="#b1c652" transform="rotate(-28 267.7 54.3)"/>
<ellipse cx="281.7" cy="58" rx="3.2" ry="2.2" fill="#aac756" transform="rotate(-23 281.7 58)"/>
<ellipse cx="293.4" cy="54.9" rx="3.6" ry="2" fill="#b0c652" transform="rotate(8 293.4 54.9)"/>
<ellipse cx="302.2" cy="54.9" rx="3.5" ry="2.3" fill="#75c985" transform="rotate(19 302.2 54.9)"/>
<ellipse cx="312.5" cy="57.3" rx="3.5" ry="1.8" fill="#93ca66" transform="rotate(-22 312.5 57.3)"/>
<ellipse cx="322.4" cy="54.9" rx="2.9" ry="1.7" fill="#7fca79" transform="rotate(18 322.4 54.9)"/>
<ellipse cx="336.9" cy="54.8" rx="3.1" ry="1.9" fill="#80ca78" transform="rotate(-21 336.9 54.8)"/>
<ellipse cx="348.9" cy="54.7" rx="3.3" ry="1.7" fill="#b0c653" transform="rotate(-22 348.9 54.7)"/>
<ellipse cx="356.5" cy="57.9" rx="2.8" ry="2.1" fill="#cdc049" transform="rotate(-37 356.5 57.9)"/>
<ellipse cx="368.2" cy="57.6" rx="2.9" ry="2" fill="#edbc55" transform="rotate(-9 368.2 57.6)"/>
<ellipse cx="379.8" cy="54.5" rx="2.7" ry="2.1" fill="#d1bf4a" transform="rotate(13 379.8 54.5)"/>
<ellipse cx="43.2" cy="65.6" rx="3.5" ry="2.1" fill="#65c49d" transform="rotate(-26 43.2 65.6)"/>
<ellipse cx="53.5" cy="67" rx="2.6" ry="2.1" fill="#76c983" transform="rotate(-25 53.5 67)"/>
<ellipse cx="63.2" cy="69.2" rx="2.8" ry="2.1" fill="#72c989" transform="rotate(-56 63.2 69.2)"/>
<ellipse cx="76.5" cy="68.8" rx="2.6" ry="2.2" fill="#b1c652" transform="rotate(-26 76.5 68.8)"/>
<ellipse cx="86.1" cy="66.8" rx="2.9" ry="2.2" fill="#a7c858" transform="rotate(43 86.1 66.8)"/>
<ellipse cx="96.5" cy="68.2" rx="3.2" ry="1.8" fill="#b6c550" transform="rotate(51 96.5 68.2)"/>
<ellipse cx="107.8" cy="66.8" rx="3.2" ry="2" fill="#b4c551" transform="rotate(38 107.8 66.8)"/>
<ellipse cx="119.9" cy="68.6" rx="3.2" ry="2.1" fill="#98c963" transform="rotate(36 119.9 68.6)"/>
<ellipse cx="129.2" cy="68.8" rx="3.1" ry="2.2" fill="#93ca67" transform="rotate(-31 129.2 68.8)"/>
<ellipse cx="143.3" cy="68.4" rx="3.4" ry="2.2" fill="#8aca6e" transform="rotate(9 143.3 68.4)"/>
<ellipse cx="152.2" cy="65.2" rx="3.4" ry="2.2" fill="#83ca75" transform="rotate(-52 152.2 65.2)"/>
<ellipse cx="165.4" cy="69" rx="3.4" ry="2.1" fill="#66c59b" transform="rotate(-43 165.4 69)"/>
<ellipse cx="173.1" cy="66.4" rx="2.7" ry="2" fill="#79ca7f" transform="rotate(84 173.1 66.4)"/>
<ellipse cx="189" cy="68.1" rx="2.8" ry="1.9" fill="#9ac961" transform="rotate(6 189 68.1)"/>
<ellipse cx="197" cy="66.1" rx="3.2" ry="1.7" fill="#ccc04a" transform="rotate(8 197 66.1)"/>
<ellipse cx="209" cy="68.8" rx="3.5" ry="1.8" fill="#f2bf57" transform="rotate(26 209 68.8)"/>
<ellipse cx="221.1" cy="65.5" rx="2.8" ry="2" fill="#c0c34c" transform="rotate(-17 221.1 65.5)"/>
<ellipse cx="232.1" cy="66.7" rx="3.2" ry="1.8" fill="#9cc960" transform="rotate(-1 232.1 66.7)"/>
<ellipse cx="242.8" cy="66.2" rx="2.6" ry="1.8" fill="#7bca7d" transform="rotate(76 242.8 66.2)"/>
<ellipse cx="251.6" cy="65" rx="3.3" ry="2.2" fill="#70c98b" transform="rotate(-43 251.6 65)"/>
<ellipse cx="261.7" cy="66" rx="2.7" ry="2.2" fill="#8bca6d" transform="rotate(-20 261.7 66)"/>
<ellipse cx="274.1" cy="67.4" rx="2.8" ry="2" fill="#a5c859" transform="rotate(-17 274.1 67.4)"/>
<ellipse cx="286.4" cy="65.1" rx="2.9" ry="2.1" fill="#b6c550" transform="rotate(-21 286.4 65.1)"/>
<ellipse cx="297.4" cy="66.6" rx="3.1" ry="1.9" fill="#86ca72" transform="rotate(-47 297.4 66.6)"/>
<ellipse cx="306" cy="64.6" rx="3.2" ry="2.2" fill="#9fc85d" transform="rotate(57 306 64.6)"/>
<ellipse cx="319.6" cy="66.2" rx="3.4" ry="1.9" fill="#75c985" transform="rotate(33 319.6 66.2)"/>
<ellipse cx="329.9" cy="64.8" rx="2.9" ry="2" fill="#82ca75" transform="rotate(-20 329.9 64.8)"/>
<ellipse cx="342.8" cy="66.1" rx="3.1" ry="2.1" fill="#9cc960" transform="rotate(18 342.8 66.1)"/>
<ellipse cx="353.5" cy="67.1" rx="2.6" ry="1.9" fill="#aec654" transform="rotate(-16 353.5 67.1)"/>
<ellipse cx="363" cy="68.5" rx="3.3" ry="2.2" fill="#bdc44d" transform="rotate(-27 363 68.5)"/>
<ellipse cx="375" cy="65.7" rx="2.8" ry="2" fill="#dcbd4c" transform="rotate(-24 375 65.7)"/>
<ellipse cx="35.1" cy="75.5" rx="3.2" ry="1.7" fill="#68c698" transform="rotate(-2 35.1 75.5)"/>
<ellipse cx="46" cy="75.9" rx="2.9" ry="1.9" fill="#69c795" transform="rotate(57 46 75.9)"/>
<ellipse cx="58.2" cy="76.3" rx="3.5" ry="2.3" fill="#73c987" transform="rotate(62 58.2 76.3)"/>
<ellipse cx="68.3" cy="79.1" rx="3.3" ry="2.2" fill="#97c964" transform="rotate(-86 68.3 79.1)"/>
<ellipse cx="80" cy="77.1" rx="2.8" ry="1.8" fill="#7eca7a" transform="rotate(11 80 77.1)"/>
<ellipse cx="91.9" cy="76.6" rx="3.1" ry="1.8" fill="#bdc34d" transform="rotate(-57 91.9 76.6)"/>
<ellipse cx="104.7" cy="79.4" rx="3.4" ry="2.2" fill="#c2c24b" transform="rotate(2 104.7 79.4)"/>
<ellipse cx="114.6" cy="76" rx="3.5" ry="1.7" fill="#b8c54f" transform="rotate(0 114.6 76)"/>
<ellipse cx="124.5" cy="78.2" rx="3.3" ry="1.8" fill="#7cca7c" transform="rotate(42 124.5 78.2)"/>
<ellipse cx="137.1" cy="77.2" rx="3.2" ry="2.2" fill="#85ca73" transform="rotate(-22 137.1 77.2)"/>
<ellipse cx="146.8" cy="78.3" rx="3.1" ry="2.1" fill="#92ca68" transform="rotate(25 146.8 78.3)"/>
<ellipse cx="158.5" cy="78.2" rx="3.5" ry="2.3" fill="#6dc88e" transform="rotate(-54 158.5 78.2)"/>
<ellipse cx="168.5" cy="76.9" rx="3.4" ry="1.9" fill="#76c983" transform="rotate(48 168.5 76.9)"/>
<ellipse cx="180.4" cy="76.7" rx="3.4" ry="1.9" fill="#8dca6c" transform="rotate(47 180.4 76.7)"/>
<ellipse cx="191.6" cy="78.5" rx="3.4" ry="1.8" fill="#93ca67" transform="rotate(-23 191.6 78.5)"/>
<ellipse cx="205" cy="77.3" rx="3.5" ry="1.9" fill="#bbc44e" transform="rotate(-13 205 77.3)"/>
<ellipse cx="212.9" cy="77.5" rx="2.9" ry="1.7" fill="#dcbd4c" transform="rotate(-52 212.9 77.5)"/>
<ellipse cx="222.9" cy="76.8" rx="3.4" ry="2.3" fill="#adc755" transform="rotate(-26 222.9 76.8)"/>
<ellipse cx="235.9" cy="75.5" rx="3.3" ry="2.1" fill="#96c964" transform="rotate(26 235.9 75.5)"/>
<ellipse cx="247.8" cy="79.7" rx="3.5" ry="2.3" fill="#6fc88c" transform="rotate(4 247.8 79.7)"/>
<ellipse cx="259.7" cy="76.7" rx="2.6" ry="1.8" fill="#9bc961" transform="rotate(55 259.7 76.7)"/>
<ellipse cx="271" cy="78.7" rx="3.4" ry="2.2" fill="#b0c653" transform="rotate(29 271 78.7)"/>
<ellipse cx="280.1" cy="78.6" rx="3.5" ry="1.7" fill="#b6c550" transform="rotate(-16 280.1 78.6)"/>
<ellipse cx="291.7" cy="76.5" rx="3.2" ry="2" fill="#e2bc4e" transform="rotate(27 291.7 76.5)"/>
<ellipse cx="300.8" cy="76.8" rx="2.8" ry="2.1" fill="#c1c34c" transform="rotate(5 300.8 76.8)"/>
<ellipse cx="312.1" cy="77" rx="2.6" ry="1.9" fill="#7fca78" transform="rotate(-53 312.1 77)"/>
<ellipse cx="322.5" cy="76.1" rx="3.2" ry="2" fill="#71c98a" transform="rotate(-1 322.5 76.1)"/>
<ellipse cx="335.5" cy="78.6" rx="2.9" ry="2.1" fill="#74c986" transform="rotate(-10 335.5 78.6)"/>
<ellipse cx="347.1" cy="75.3" rx="3.3" ry="2.2" fill="#9fc95d" transform="rotate(6 347.1 75.3)"/>
<ellipse cx="359.8" cy="78.2" rx="3.2" ry="1.8" fill="#bec34d" transform="rotate(-8 359.8 78.2)"/>
<ellipse cx="369" cy="79.2" rx="3" ry="2" fill="#e1bc4e" transform="rotate(25 369 79.2)"/>
<ellipse cx="379.9" cy="78" rx="3.5" ry="1.8" fill="#c6c24a" transform="rotate(29 379.9 78)"/>
<ellipse cx="45" cy="89.5" rx="2.7" ry="1.8" fill="#75c985" transform="rotate(50 45 89.5)"/>
<ellipse cx="55.2" cy="88.4" rx="2.7" ry="2.2" fill="#80ca78" transform="rotate(-14 55.2 88.4)"/>
<ellipse cx="63.4" cy="86" rx="3.1" ry="2.3" fill="#6ac793" transform="rotate(-23 63.4 86)"/>
<ellipse cx="77.8" cy="86.3" rx="2.7" ry="2.2" fill="#7aca7f" transform="rotate(-26 77.8 86.3)"/>
<ellipse cx="85.4" cy="87.5" rx="3.6" ry="1.8" fill="#9dc95f" transform="rotate(-25 85.4 87.5)"/>
<ellipse cx="99.8" cy="88.9" rx="2.7" ry="2.3" fill="#9dc95f" transform="rotate(67 99.8 88.9)"/>
<ellipse cx="111.4" cy="88.6" rx="3" ry="2.2" fill="#a0c85d" transform="rotate(80 111.4 88.6)"/>
<ellipse cx="120.7" cy="89.3" rx="2.7" ry="2.1" fill="#68c697" transform="rotate(-22 120.7 89.3)"/>
<ellipse cx="131.8" cy="87.7" rx="3.6" ry="2.1" fill="#66c59a" transform="rotate(-8 131.8 87.7)"/>
<ellipse cx="140.9" cy="86.3" rx="3" ry="2.1" fill="#67c698" transform="rotate(-26 140.9 86.3)"/>
<ellipse cx="152.6" cy="89.3" rx="3.2" ry="1.9" fill="#66c59c" transform="rotate(63 152.6 89.3)"/>
<ellipse cx="165.2" cy="87" rx="2.8" ry="1.9" fill="#70c98b" transform="rotate(8 165.2 87)"/>
<ellipse cx="174.4" cy="88.1" rx="2.9" ry="2.1" fill="#90ca69" transform="rotate(20 174.4 88.1)"/>
<ellipse cx="187" cy="90.1" rx="2.9" ry="1.8" fill="#78ca82" transform="rotate(-71 187 90.1)"/>
<ellipse cx="195.7" cy="90.2" rx="3" ry="1.9" fill="#7dca7b" transform="rotate(26 195.7 90.2)"/>
<ellipse cx="209.5" cy="86.7" rx="2.8" ry="2" fill="#bec34d" transform="rotate(-2 209.5 86.7)"/>
<ellipse cx="222.1" cy="90.7" rx="3.4" ry="2.1" fill="#b9c44f" transform="rotate(29 222.1 90.7)"/>
<ellipse cx="231.6" cy="89.7" rx="3.1" ry="2.1" fill="#bac44e" transform="rotate(0 231.6 89.7)"/>
<ellipse cx="243.1" cy="86.4" rx="3.2" ry="2.1" fill="#73c987" transform="rotate(56 243.1 86.4)"/>
<ellipse cx="252.8" cy="90.1" rx="2.8" ry="1.9" fill="#88ca70" transform="rotate(-16 252.8 90.1)"/>
<ellipse cx="263.3" cy="88.5" rx="2.7" ry="2.2" fill="#a9c757" transform="rotate(-67 263.3 88.5)"/>
<ellipse cx="273.8" cy="89.1" rx="2.9" ry="1.9" fill="#c5c24b" transform="rotate(-30 273.8 89.1)"/>
<ellipse cx="286.6" cy="86.8" rx="2.7" ry="2.2" fill="#b5c550" transform="rotate(-64 286.6 86.8)"/>
<ellipse cx="297.3" cy="87.9" rx="3.5" ry="2.3" fill="#c7c14a" transform="rotate(-10 297.3 87.9)"/>
<ellipse cx="309.4" cy="89.3" rx="3.1" ry="1.7" fill="#83ca75" transform="rotate(83 309.4 89.3)"/>
<ellipse cx="320.6" cy="89.6" rx="2.9" ry="1.8" fill="#82ca75" transform="rotate(9 320.6 89.6)"/>
<ellipse cx="329" cy="90.7" rx="2.7" ry="2.3" fill="#89ca6f" transform="rotate(-24 329 90.7)"/>
<ellipse cx="342.6" cy="87.2" rx="3" ry="2" fill="#7eca7b" transform="rotate(-16 342.6 87.2)"/>
<ellipse cx="351.6" cy="88.5" rx="3" ry="1.9" fill="#7cca7c" transform="rotate(38 351.6 88.5)"/>
<ellipse cx="362.7" cy="88.3" rx="3.3" ry="2" fill="#b9c44f" transform="rotate(-58 362.7 88.3)"/>
<ellipse cx="375.6" cy="87.7" rx="3.6" ry="2.1" fill="#c3c24b" transform="rotate(40 375.6 87.7)"/>
<ellipse cx="37.3" cy="100.3" rx="2.7" ry="1.9" fill="#57bbb8" transform="rotate(17 37.3 100.3)"/>
<ellipse cx="47.8" cy="98.1" rx="2.7" ry="2.3" fill="#69c696" transform="rotate(39 47.8 98.1)"/>
<ellipse cx="60.7" cy="99.8" rx="3.4" ry="1.7" fill="#5abdb3" transform="rotate(76 60.7 99.8)"/>
<ellipse cx="71.5" cy="99.6" rx="2.8" ry="2" fill="#6ec88d" transform="rotate(-29 71.5 99.6)"/>
<ellipse cx="83.8" cy="101" rx="3.4" ry="2" fill="#5fc0ab" transform="rotate(-7 83.8 101)"/>
<ellipse cx="94" cy="98.8" rx="3.3" ry="2.2" fill="#83ca74" transform="rotate(59 94 98.8)"/>
<ellipse cx="101.7" cy="97.3" rx="3.6" ry="2" fill="#68c696" transform="rotate(-15 101.7 97.3)"/>
<ellipse cx="112.9" cy="101.2" rx="2.9" ry="1.9" fill="#62c2a5" transform="rotate(-53 112.9 101.2)"/>
<ellipse cx="127.8" cy="99" rx="3" ry="2.2" fill="#74c985" transform="rotate(-60 127.8 99)"/>
<ellipse cx="135.9" cy="96.8" rx="3.3" ry="1.9" fill="#7dca7c" transform="rotate(-8 135.9 96.8)"/>
<ellipse cx="149.5" cy="98.4" rx="3.1" ry="2.3" fill="#70c88b" transform="rotate(11 149.5 98.4)"/>
<ellipse cx="158.2" cy="98.7" rx="3.5" ry="2.2" fill="#61c1a8" transform="rotate(-51 158.2 98.7)"/>
<ellipse cx="167.9" cy="97.6" rx="3.1" ry="1.9" fill="#6cc791" transform="rotate(21 167.9 97.6)"/>
<ellipse cx="180.1" cy="100.7" rx="3.3" ry="2" fill="#63c3a2" transform="rotate(-10 180.1 100.7)"/>
<ellipse cx="193.6" cy="97.2" rx="2.8" ry="1.8" fill="#a1c85c" transform="rotate(4 193.6 97.2)"/>
<ellipse cx="203.6" cy="101" rx="3.3" ry="1.9" fill="#cfc049" transform="rotate(-37 203.6 101)"/>
<ellipse cx="216.6" cy="97.2" rx="2.8" ry="2.2" fill="#bdc44d" transform="rotate(-12 216.6 97.2)"/>
<ellipse cx="225.2" cy="98" rx="2.9" ry="2" fill="#97c963" transform="rotate(44 225.2 98)"/>
<ellipse cx="236.9" cy="99.3" rx="3.1" ry="2.1" fill="#97c963" transform="rotate(50 236.9 99.3)"/>
<ellipse cx="247.1" cy="100.4" rx="3.1" ry="2" fill="#8dca6c" transform="rotate(-51 247.1 100.4)"/>
<ellipse cx="258.5" cy="99.4" rx="2.8" ry="2.3" fill="#84ca73" transform="rotate(-46 258.5 99.4)"/>
<ellipse cx="268.6" cy="96.7" rx="3.6" ry="1.8" fill="#cbc04a" transform="rotate(-64 268.6 96.7)"/>
<ellipse cx="281.4" cy="97.4" rx="2.7" ry="2.2" fill="#bac44e" transform="rotate(75 281.4 97.4)"/>
<ellipse cx="289.6" cy="99.2" rx="3.1" ry="1.9" fill="#a0c85d" transform="rotate(-18 289.6 99.2)"/>
<ellipse cx="301" cy="97.6" rx="2.6" ry="2.3" fill="#b7c550" transform="rotate(-24 301 97.6)"/>
<ellipse cx="313" cy="100" rx="3.6" ry="2.3" fill="#aec654" transform="rotate(51 313 100)"/>
<ellipse cx="325.4" cy="100.5" rx="3.2" ry="2.2" fill="#a8c757" transform="rotate(-22 325.4 100.5)"/>
<ellipse cx="338.2" cy="96.9" rx="3.5" ry="2.3" fill="#6dc88f" transform="rotate(59 338.2 96.9)"/>
<ellipse cx="347.5" cy="100.7" rx="3.3" ry="1.7" fill="#9bc961" transform="rotate(27 347.5 100.7)"/>
<ellipse cx="359.7" cy="98.6" rx="2.9" ry="1.7" fill="#a9c757" transform="rotate(15 359.7 98.6)"/>
<ellipse cx="370.2" cy="99.2" rx="3.3" ry="2.3" fill="#d0bf4a" transform="rotate(-17 370.2 99.2)"/>
<ellipse cx="380.1" cy="100.4" rx="2.8" ry="2.1" fill="#a9c757" transform="rotate(-28 380.1 100.4)"/>
<ellipse cx="43.8" cy="110.6" rx="3.1" ry="1.7" fill="#6ac794" transform="rotate(-15 43.8 110.6)"/>
<ellipse cx="54.1" cy="108.1" rx="2.7" ry="1.7" fill="#67c699" transform="rotate(-14 54.1 108.1)"/>
<ellipse cx="66.2" cy="109.1" rx="3" ry="1.9" fill="#6cc890" transform="rotate(11 66.2 109.1)"/>
<ellipse cx="73.7" cy="107.6" rx="3" ry="1.8" fill="#77ca83" transform="rotate(-51 73.7 107.6)"/>
<ellipse cx="89.1" cy="109.1" rx="2.7" ry="2.1" fill="#78ca81" transform="rotate(-65 89.1 109.1)"/>
<ellipse cx="96.8" cy="111.5" rx="3.3" ry="1.9" fill="#75c985" transform="rotate(27 96.8 111.5)"/>
<ellipse cx="111.5" cy="110.9" rx="2.7" ry="1.9" fill="#6dc890" transform="rotate(3 111.5 110.9)"/>
<ellipse cx="119.9" cy="111.3" rx="2.7" ry="2.1" fill="#61c1a6" transform="rotate(85 119.9 111.3)"/>
<ellipse cx="131.3" cy="108.2" rx="3.2" ry="1.9" fill="#64c3a0" transform="rotate(-7 131.3 108.2)"/>
<ellipse cx="144.7" cy="109.8" rx="2.7" ry="2" fill="#5ebfad" transform="rotate(15 144.7 109.8)"/>
<ellipse cx="151.2" cy="108.2" rx="3.3" ry="1.8" fill="#62c2a5" transform="rotate(-16 151.2 108.2)"/>
<ellipse cx="165" cy="107.8" rx="2.9" ry="1.8" fill="#60c0a9" transform="rotate(62 165 107.8)"/>
<ellipse cx="174.9" cy="109.7" rx="2.9" ry="1.9" fill="#75c984" transform="rotate(-14 174.9 109.7)"/>
<ellipse cx="187" cy="108.7" rx="3.1" ry="2.1" fill="#94ca66" transform="rotate(23 187 108.7)"/>
<ellipse cx="197.7" cy="112.1" rx="2.8" ry="2.1" fill="#79ca80" transform="rotate(5 197.7 112.1)"/>
<ellipse cx="207.6" cy="107.9" rx="2.9" ry="2" fill="#b8c44f" transform="rotate(25 207.6 107.9)"/>
<ellipse cx="220.7" cy="110.6" rx="3.1" ry="2.2" fill="#96c964" transform="rotate(-32 220.7 110.6)"/>
<ellipse cx="230.7" cy="110.5" rx="2.9" ry="2" fill="#abc756" transform="rotate(17 230.7 110.5)"/>
<ellipse cx="243.3" cy="108.7" rx="3.1" ry="2" fill="#9bc961" transform="rotate(26 243.3 108.7)"/>
<ellipse cx="251.3" cy="109" rx="3.1" ry="2.3" fill="#8aca6e" transform="rotate(11 251.3 109)"/>
<ellipse cx="266.4" cy="111.8" rx="3.4" ry="2.1" fill="#95ca65" transform="rotate(18 266.4 111.8)"/>
<ellipse cx="274.1" cy="108.6" rx="2.6" ry="2" fill="#b6c550" transform="rotate(17 274.1 108.6)"/>
<ellipse cx="288.3" cy="110.5" rx="3.3" ry="1.8" fill="#78ca82" transform="rotate(57 288.3 110.5)"/>
<ellipse cx="297.8" cy="111.1" rx="3.3" ry="2.1" fill="#7dca7b" transform="rotate(10 297.8 111.1)"/>
<ellipse cx="309.6" cy="111.2" rx="3.2" ry="2.3" fill="#a2c85c" transform="rotate(0 309.6 111.2)"/>
<ellipse cx="317.1" cy="111.6" rx="3.6" ry="1.8" fill="#83ca75" transform="rotate(-22 317.1 111.6)"/>
<ellipse cx="329.5" cy="108.7" rx="3.2" ry="2.1" fill="#6fc88c" transform="rotate(53 329.5 108.7)"/>
<ellipse cx="340.5" cy="112" rx="3.6" ry="2.2" fill="#88ca70" transform="rotate(-13 340.5 112)"/>
<ellipse cx="350.4" cy="107.9" rx="2.7" ry="2.2" fill="#99c962" transform="rotate(-12 350.4 107.9)"/>
<ellipse cx="362.3" cy="109" rx="2.7" ry="1.9" fill="#99c962" transform="rotate(26 362.3 109)"/>
<ellipse cx="373.3" cy="111.8" rx="3.5" ry="1.7" fill="#dabe4b" transform="rotate(-15 373.3 111.8)"/>
<ellipse cx="39.3" cy="122.5" rx="3.1" ry="2.3" fill="#5abdb3" transform="rotate(3 39.3 122.5)"/>
<ellipse cx="48.8" cy="119.1" rx="3.4" ry="2.1" fill="#70c88b" transform="rotate(52 48.8 119.1)"/>
<ellipse cx="60.3" cy="120.4" rx="2.7" ry="2" fill="#60c1a9" transform="rotate(54 60.3 120.4)"/>
<ellipse cx="68" cy="120.4" rx="3.5" ry="2.3" fill="#64c49f" transform="rotate(-45 68 120.4)"/>
<ellipse cx="80.2" cy="122.3" rx="2.7" ry="2" fill="#60c1a9" transform="rotate(4 80.2 122.3)"/>
<ellipse cx="90.4" cy="120.1" rx="2.7" ry="2.3" fill="#62c2a4" transform="rotate(0 90.4 120.1)"/>
<ellipse cx="105.7" cy="121.2" rx="2.6" ry="2.2" fill="#60c1a9" transform="rotate(26 105.7 121.2)"/>
<ellipse cx="113.5" cy="121.9" rx="3" ry="1.9" fill="#6ac793" transform="rotate(-33 113.5 121.9)"/>
<ellipse cx="123.4" cy="122.3" rx="2.7" ry="2.1" fill="#68c697" transform="rotate(28 123.4 122.3)"/>
<ellipse cx="138.7" cy="122.8" rx="3" ry="2.1" fill="#71c989" transform="rotate(40 138.7 122.8)"/>
<ellipse cx="148.6" cy="121.4" rx="3.3" ry="1.8" fill="#66c59b" transform="rotate(2 148.6 121.4)"/>
<ellipse cx="159.2" cy="120.1" rx="2.9" ry="2" fill="#7aca7e" transform="rotate(-7 159.2 120.1)"/>
<ellipse cx="172.4" cy="119.1" rx="2.7" ry="2" fill="#83ca75" transform="rotate(-19 172.4 119.1)"/>
<ellipse cx="183.4" cy="121.6" rx="3" ry="2" fill="#69c695" transform="rotate(-29 183.4 121.6)"/>
<ellipse cx="194.5" cy="118.8" rx="2.9" ry="2.1" fill="#8cca6c" transform="rotate(12 194.5 118.8)"/>
<ellipse cx="205.4" cy="119.7" rx="3.4" ry="2" fill="#abc756" transform="rotate(84 205.4 119.7)"/>
<ellipse cx="212.5" cy="121.1" rx="3.1" ry="2.3" fill="#8bca6d" transform="rotate(8 212.5 121.1)"/>
<ellipse cx="223.2" cy="119.6" rx="3.3" ry="2.2" fill="#97c964" transform="rotate(-25 223.2 119.6)"/>
<ellipse cx="236.4" cy="120.8" rx="3" ry="2.2" fill="#75c985" transform="rotate(15 236.4 120.8)"/>
<ellipse cx="245.9" cy="118.8" rx="3.4" ry="2.1" fill="#67c699" transform="rotate(-28 245.9 118.8)"/>
<ellipse cx="259.3" cy="119.6" rx="3.2" ry="1.9" fill="#72c988" transform="rotate(18 259.3 119.6)"/>
<ellipse cx="270.5" cy="118.3" rx="3.4" ry="1.9" fill="#9fc85d" transform="rotate(8 270.5 118.3)"/>
<ellipse cx="281.2" cy="118.9" rx="2.9" ry="2" fill="#a6c859" transform="rotate(74 281.2 118.9)"/>
<ellipse cx="293" cy="120.4" rx="2.9" ry="2.2" fill="#88ca70" transform="rotate(-21 293 120.4)"/>
<ellipse cx="301.4" cy="121.6" rx="3.3" ry="1.7" fill="#6ac794" transform="rotate(40 301.4 121.6)"/>
<ellipse cx="313" cy="121" rx="3.1" ry="2" fill="#9dc95f" transform="rotate(-14 313 121)"/>
<ellipse cx="325.4" cy="120.8" rx="2.8" ry="2.1" fill="#74c985" transform="rotate(-53 325.4 120.8)"/>
<ellipse cx="335.2" cy="119.9" rx="2.9" ry="1.9" fill="#79ca80" transform="rotate(-11 335.2 119.9)"/>
<ellipse cx="345.4" cy="119" rx="3.3" ry="1.8" fill="#6dc88f" transform="rotate(67 345.4 119)"/>
<ellipse cx="357.8" cy="121.6" rx="3.4" ry="1.9" fill="#84ca73" transform="rotate(-28 357.8 121.6)"/>
<ellipse cx="368.1" cy="119.6" rx="3.2" ry="1.7" fill="#b3c551" transform="rotate(-23 368.1 119.6)"/>
<ellipse cx="381.1" cy="121.5" rx="3.1" ry="1.9" fill="#b2c652" transform="rotate(6 381.1 121.5)"/>
<ellipse cx="34" cy="131.5" rx="2.9" ry="2.2" fill="#60c1a8" transform="rotate(2 34 131.5)"/>
<ellipse cx="40.4" cy="129.6" rx="3.2" ry="1.8" fill="#5dbfae" transform="rotate(-11 40.4 129.6)"/>
<ellipse cx="54.2" cy="131.7" rx="3.1" ry="2.2" fill="#57bbb8" transform="rotate(-9 54.2 131.7)"/>
<ellipse cx="66.4" cy="133.6" rx="3.2" ry="1.7" fill="#6bc791" transform="rotate(26 66.4 133.6)"/>
<ellipse cx="77.2" cy="130.5" rx="3.2" ry="1.8" fill="#6ec88d" transform="rotate(56 77.2 130.5)"/>
<ellipse cx="85.6" cy="129.7" rx="3.3" ry="2.1" fill="#5ebfae" transform="rotate(8 85.6 129.7)"/>
<ellipse cx="98.8" cy="133.6" rx="3.5" ry="2.1" fill="#69c794" transform="rotate(-88 98.8 133.6)"/>
<ellipse cx="106.9" cy="131.6" rx="3.4" ry="1.9" fill="#60c0a9" transform="rotate(25 106.9 131.6)"/>
<ellipse cx="118.9" cy="130.3" rx="3.3" ry="1.7" fill="#72c988" transform="rotate(-37 118.9 130.3)"/>
<ellipse cx="132.2" cy="133.6" rx="3.2" ry="1.9" fill="#69c795" transform="rotate(0 132.2 133.6)"/>
<ellipse cx="142.7" cy="129.5" rx="2.7" ry="1.9" fill="#61c1a8" transform="rotate(-19 142.7 129.5)"/>
<ellipse cx="154.1" cy="131.8" rx="2.6" ry="2.1" fill="#61c1a8" transform="rotate(7 154.1 131.8)"/>
<ellipse cx="165.5" cy="129.3" rx="2.6" ry="1.8" fill="#7bca7d" transform="rotate(21 165.5 129.3)"/>
<ellipse cx="173.9" cy="130.7" rx="3" ry="1.7" fill="#7eca7a" transform="rotate(-26 173.9 130.7)"/>
<ellipse cx="188.4" cy="130.7" rx="2.6" ry="2.2" fill="#62c2a4" transform="rotate(12 188.4 130.7)"/>
<ellipse cx="196.3" cy="129.8" rx="3" ry="1.7" fill="#72c988" transform="rotate(-25 196.3 129.8)"/>
<ellipse cx="208.3" cy="130.7" rx="2.7" ry="1.7" fill="#8eca6b" transform="rotate(29 208.3 130.7)"/>
<ellipse cx="221.9" cy="130.9" rx="3.5" ry="1.9" fill="#90ca69" transform="rotate(-61 221.9 130.9)"/>
<ellipse cx="232.7" cy="133.3" rx="3.3" ry="1.9" fill="#66c59a" transform="rotate(-24 232.7 133.3)"/>
<ellipse cx="242.9" cy="133.3" rx="3" ry="2.2" fill="#68c697" transform="rotate(86 242.9 133.3)"/>
<ellipse cx="252.5" cy="132.2" rx="3.3" ry="2" fill="#7bca7d" transform="rotate(45 252.5 132.2)"/>
<ellipse cx="265.7" cy="132" rx="2.7" ry="1.9" fill="#96c964" transform="rotate(7 265.7 132)"/>
<ellipse cx="274.8" cy="131.7" rx="3.6" ry="1.9" fill="#6ac794" transform="rotate(-27 274.8 131.7)"/>
<ellipse cx="285" cy="130.7" rx="2.8" ry="2.2" fill="#85ca73" transform="rotate(-36 285 130.7)"/>
<ellipse cx="295.3" cy="132.2" rx="3.2" ry="2" fill="#83ca75" transform="rotate(0 295.3 132.2)"/>
<ellipse cx="309.7" cy="129.8" rx="3.1" ry="2.1" fill="#90ca6a" transform="rotate(-46 309.7 129.8)"/>
<ellipse cx="320.5" cy="131.1" rx="2.8" ry="2.2" fill="#c4c24b" transform="rotate(56 320.5 131.1)"/>
<ellipse cx="331.3" cy="130.9" rx="3.1" ry="1.8" fill="#cdc049" transform="rotate(-8 331.3 130.9)"/>
<ellipse cx="339.5" cy="129.1" rx="3.4" ry="2.1" fill="#94ca66" transform="rotate(5 339.5 129.1)"/>
<ellipse cx="350.4" cy="132" rx="2.7" ry="2.1" fill="#84ca74" transform="rotate(42 350.4 132)"/>
<ellipse cx="364.1" cy="132.8" rx="2.7" ry="2.1" fill="#91ca69" transform="rotate(9 364.1 132.8)"/>
<ellipse cx="373.4" cy="129.2" rx="2.9" ry="2" fill="#abc756" transform="rotate(-4 373.4 129.2)"/>
<ellipse cx="37.7" cy="142.1" rx="2.7" ry="1.8" fill="#5fc0ab" transform="rotate(88 37.7 142.1)"/>
<ellipse cx="47.2" cy="141.8" rx="3.4" ry="1.9" fill="#5fc0aa" transform="rotate(0 47.2 141.8)"/>
<ellipse cx="61.1" cy="140.1" rx="3.3" ry="2" fill="#56babc" transform="rotate(-10 61.1 140.1)"/>
<ellipse cx="70" cy="142.5" rx="3" ry="1.9" fill="#66c59c" transform="rotate(-15 70 142.5)"/>
<ellipse cx="79" cy="140.5" rx="2.8" ry="1.8" fill="#56bbba" transform="rotate(45 79 140.5)"/>
<ellipse cx="91.1" cy="141.8" rx="2.7" ry="2.3" fill="#63c3a3" transform="rotate(-19 91.1 141.8)"/>
<ellipse cx="103.8" cy="144.3" rx="3" ry="2.3" fill="#5dbeaf" transform="rotate(31 103.8 144.3)"/>
<ellipse cx="114.5" cy="141.1" rx="2.8" ry="2.1" fill="#6fc88c" transform="rotate(80 114.5 141.1)"/>
<ellipse cx="124.2" cy="140" rx="3.5" ry="2.3" fill="#61c2a6" transform="rotate(61 124.2 140)"/>
<ellipse cx="139" cy="143.8" rx="3.2" ry="1.9" fill="#5fc0ac" transform="rotate(14 139 143.8)"/>
<ellipse cx="148.7" cy="143.8" rx="2.8" ry="1.7" fill="#77ca82" transform="rotate(-16 148.7 143.8)"/>
<ellipse cx="158.9" cy="142.7" rx="3" ry="1.8" fill="#64c3a1" transform="rotate(-66 158.9 142.7)"/>
<ellipse cx="170" cy="142.1" rx="3.4" ry="2.2" fill="#81ca77" transform="rotate(-4 170 142.1)"/>
<ellipse cx="183" cy="143.4" rx="2.9" ry="2" fill="#61c1a7" transform="rotate(7 183 143.4)"/>
<ellipse cx="193.8" cy="141.5" rx="2.9" ry="1.9" fill="#75c984" transform="rotate(17 193.8 141.5)"/>
<ellipse cx="203.6" cy="142.7" rx="3.6" ry="2" fill="#7dca7c" transform="rotate(2 203.6 142.7)"/>
<ellipse cx="212.9" cy="143.8" rx="3.1" ry="1.8" fill="#6dc890" transform="rotate(-39 212.9 143.8)"/>
<ellipse cx="225.2" cy="140.7" rx="3.4" ry="2" fill="#79ca80" transform="rotate(-75 225.2 140.7)"/>
<ellipse cx="236.9" cy="139.8" rx="3.2" ry="1.9" fill="#72c988" transform="rotate(-55 236.9 139.8)"/>
<ellipse cx="246.7" cy="144.1" rx="3.2" ry="1.8" fill="#8aca6e" transform="rotate(36 246.7 144.1)"/>
<ellipse cx="258.5" cy="140.5" rx="2.9" ry="1.9" fill="#7bca7e" transform="rotate(-12 258.5 140.5)"/>
<ellipse cx="270.3" cy="141.9" rx="3.3" ry="1.8" fill="#85ca72" transform="rotate(2 270.3 141.9)"/>
<ellipse cx="282.5" cy="142.6" rx="3.4" ry="2" fill="#89ca6f" transform="rotate(14 282.5 142.6)"/>
<ellipse cx="289.8" cy="140.4" rx="3.2" ry="2.1" fill="#68c697" transform="rotate(-23 289.8 140.4)"/>
<ellipse cx="300.3" cy="142.3" rx="3.5" ry="1.7" fill="#68c697" transform="rotate(16 300.3 142.3)"/>
<ellipse cx="312.3" cy="141.2" rx="3" ry="1.7" fill="#a2c85b" transform="rotate(8 312.3 141.2)"/>
<ellipse cx="323.4" cy="142.2" rx="2.6" ry="2.3" fill="#b4c551" transform="rotate(-61 323.4 142.2)"/>
<ellipse cx="338.3" cy="140.5" rx="3.4" ry="2.3" fill="#adc654" transform="rotate(-34 338.3 140.5)"/>
<ellipse cx="349" cy="140.1" rx="3.4" ry="2.2" fill="#69c795" transform="rotate(62 349 140.1)"/>
<ellipse cx="359.4" cy="141.8" rx="3.1" ry="1.9" fill="#84ca73" transform="rotate(11 359.4 141.8)"/>
<ellipse cx="371.4" cy="143" rx="3.1" ry="2" fill="#7bca7e" transform="rotate(71 371.4 143)"/>
<ellipse cx="382.4" cy="143.6" rx="2.9" ry="1.9" fill="#6cc891" transform="rotate(16 382.4 143.6)"/>
<ellipse cx="44" cy="151.5" rx="3.4" ry="1.8" fill="#63c3a1" transform="rotate(48 44 151.5)"/>
<ellipse cx="55.5" cy="150.6" rx="2.7" ry="1.8" fill="#5ebfad" transform="rotate(26 55.5 150.6)"/>
<ellipse cx="65.4" cy="155" rx="2.8" ry="2.3" fill="#69c695" transform="rotate(18 65.4 155)"/>
<ellipse cx="77.9" cy="150.8" rx="2.9" ry="1.8" fill="#61c1a7" transform="rotate(18 77.9 150.8)"/>
<ellipse cx="85.9" cy="151.8" rx="3.5" ry="2.1" fill="#5dbfaf" transform="rotate(-45 85.9 151.8)"/>
<ellipse cx="98.5" cy="152.5" rx="3.4" ry="1.9" fill="#60c0a9" transform="rotate(76 98.5 152.5)"/>
<ellipse cx="108.1" cy="150.5" rx="2.9" ry="2" fill="#65c49e" transform="rotate(-13 108.1 150.5)"/>
<ellipse cx="121.4" cy="151.2" rx="3.4" ry="2.1" fill="#5bbeb2" transform="rotate(-88 121.4 151.2)"/>
<ellipse cx="131.4" cy="150.5" rx="3.4" ry="2" fill="#59bcb6" transform="rotate(45 131.4 150.5)"/>
<ellipse cx="141.8" cy="155" rx="3.4" ry="1.8" fill="#69c695" transform="rotate(71 141.8 155)"/>
<ellipse cx="153.5" cy="155.1" rx="3.4" ry="2.2" fill="#76c984" transform="rotate(69 153.5 155.1)"/>
<ellipse cx="164.3" cy="152.2" rx="2.8" ry="2" fill="#7bca7e" transform="rotate(-1 164.3 152.2)"/>
<ellipse cx="176.2" cy="154.3" rx="2.9" ry="2.2" fill="#66c59b" transform="rotate(-14 176.2 154.3)"/>
<ellipse cx="186.1" cy="152.6" rx="3.2" ry="2.1" fill="#80ca78" transform="rotate(-50 186.1 152.6)"/>
<ellipse cx="195.7" cy="154.6" rx="2.7" ry="2" fill="#83ca75" transform="rotate(10 195.7 154.6)"/>
<ellipse cx="208.1" cy="152.9" rx="2.7" ry="1.9" fill="#70c98b" transform="rotate(64 208.1 152.9)"/>
<ellipse cx="218.4" cy="151.6" rx="3.2" ry="2.1" fill="#6fc88c" transform="rotate(-18 218.4 151.6)"/>
<ellipse cx="229" cy="154.8" rx="3.6" ry="2.3" fill="#8fca6a" transform="rotate(19 229 154.8)"/>
<ellipse cx="243.8" cy="151.7" rx="3.6" ry="2.3" fill="#64c3a0" transform="rotate(44 243.8 151.7)"/>
<ellipse cx="254.2" cy="155" rx="3.3" ry="2.1" fill="#77ca83" transform="rotate(-43 254.2 155)"/>
<ellipse cx="262.7" cy="155" rx="3.5" ry="2.2" fill="#8eca6b" transform="rotate(41 262.7 155)"/>
<ellipse cx="276.9" cy="154.9" rx="2.7" ry="1.9" fill="#80ca78" transform="rotate(-81 276.9 154.9)"/>
<ellipse cx="288.5" cy="152.5" rx="3.3" ry="2.1" fill="#7dca7b" transform="rotate(8 288.5 152.5)"/>
<ellipse cx="298.3" cy="154.2" rx="2.8" ry="2" fill="#72c989" transform="rotate(21 298.3 154.2)"/>
<ellipse cx="310.7" cy="154.8" rx="2.7" ry="2.3" fill="#8dca6c" transform="rotate(38 310.7 154.8)"/>
<ellipse cx="320.2" cy="153.8" rx="2.9" ry="1.8" fill="#6cc891" transform="rotate(-50 320.2 153.8)"/>
<ellipse cx="332.1" cy="153" rx="3.1" ry="2" fill="#68c696" transform="rotate(25 332.1 153)"/>
<ellipse cx="341.3" cy="150.5" rx="3.2" ry="2.2" fill="#84ca74" transform="rotate(-8 341.3 150.5)"/>
<ellipse cx="353.1" cy="155.1" rx="3.5" ry="2.2" fill="#7eca7a" transform="rotate(-2 353.1 155.1)"/>
<ellipse cx="364.6" cy="153.1" rx="2.7" ry="2" fill="#a2c85b" transform="rotate(67 364.6 153.1)"/>
<ellipse cx="373.7" cy="152.3" rx="3.2" ry="2" fill="#6fc88c" transform="rotate(36 373.7 152.3)"/>
<ellipse cx="36.3" cy="163.7" rx="3.3" ry="1.9" fill="#5abdb3" transform="rotate(6 36.3 163.7)"/>
<ellipse cx="46.1" cy="162.8" rx="3.4" ry="2.2" fill="#57bbb9" transform="rotate(65 46.1 162.8)"/>
<ellipse cx="58.7" cy="162.8" rx="2.7" ry="2.2" fill="#56bbba" transform="rotate(4 58.7 162.8)"/>
<ellipse cx="71" cy="164" rx="3.6" ry="2" fill="#54b8bf" transform="rotate(-27 71 164)"/>
<ellipse cx="82.6" cy="161.3" rx="2.8" ry="2" fill="#54b8c0" transform="rotate(85 82.6 161.3)"/>
<ellipse cx="94.9" cy="165.4" rx="2.9" ry="2.2" fill="#69c696" transform="rotate(-49 94.9 165.4)"/>
<ellipse cx="103.6" cy="164.4" rx="3.3" ry="2.1" fill="#58bbb8" transform="rotate(62 103.6 164.4)"/>
<ellipse cx="114.6" cy="163.3" rx="3.3" ry="1.7" fill="#55b9bf" transform="rotate(3 114.6 163.3)"/>
<ellipse cx="124.9" cy="162" rx="3.3" ry="2.2" fill="#5fc0aa" transform="rotate(0 124.9 162)"/>
<ellipse cx="137.7" cy="162.6" rx="3" ry="1.8" fill="#58bcb7" transform="rotate(-73 137.7 162.6)"/>
<ellipse cx="147.8" cy="163.4" rx="3.3" ry="1.9" fill="#71c989" transform="rotate(-13 147.8 163.4)"/>
<ellipse cx="157.6" cy="161.9" rx="3.1" ry="2" fill="#59bcb5" transform="rotate(-15 157.6 161.9)"/>
<ellipse cx="170.1" cy="161.7" rx="3.2" ry="2.2" fill="#5bbdb2" transform="rotate(-48 170.1 161.7)"/>
<ellipse cx="182.7" cy="165" rx="2.9" ry="2" fill="#61c1a7" transform="rotate(-23 182.7 165)"/>
<ellipse cx="189.9" cy="162.9" rx="2.7" ry="1.9" fill="#7dca7b" transform="rotate(-54 189.9 162.9)"/>
<ellipse cx="205" cy="161.4" rx="2.8" ry="2.2" fill="#85ca73" transform="rotate(-32 205 161.4)"/>
<ellipse cx="213.9" cy="165" rx="3.4" ry="1.8" fill="#65c49d" transform="rotate(-89 213.9 165)"/>
<ellipse cx="224.7" cy="162.3" rx="2.7" ry="2" fill="#6cc890" transform="rotate(57 224.7 162.3)"/>
<ellipse cx="236.6" cy="161.6" rx="3" ry="1.7" fill="#7aca7f" transform="rotate(62 236.6 161.6)"/>
<ellipse cx="246.9" cy="165.8" rx="3.3" ry="2.3" fill="#64c49f" transform="rotate(-34 246.9 165.8)"/>
<ellipse cx="257.7" cy="165.2" rx="3" ry="2.3" fill="#82ca76" transform="rotate(-12 257.7 165.2)"/>
<ellipse cx="270.3" cy="165" rx="2.7" ry="1.9" fill="#82ca75" transform="rotate(-42 270.3 165)"/>
<ellipse cx="281.5" cy="165" rx="3.5" ry="2.2" fill="#70c98b" transform="rotate(18 281.5 165)"/>
<ellipse cx="290.2" cy="163.3" rx="3" ry="1.8" fill="#6fc88c" transform="rotate(16 290.2 163.3)"/>
<ellipse cx="304" cy="165.3" rx="2.9" ry="2.1" fill="#8bca6d" transform="rotate(81 304 165.3)"/>
<ellipse cx="314.4" cy="163.8" rx="3" ry="2.3" fill="#74c986" transform="rotate(30 314.4 163.8)"/>
<ellipse cx="326.6" cy="163.3" rx="2.7" ry="2.2" fill="#70c98b" transform="rotate(-5 326.6 163.3)"/>
<ellipse cx="337" cy="161.8" rx="3.3" ry="1.8" fill="#74c985" transform="rotate(-25 337 161.8)"/>
<ellipse cx="347.3" cy="161.9" rx="3.4" ry="2.1" fill="#6ac794" transform="rotate(17 347.3 161.9)"/>
<ellipse cx="357.3" cy="161.6" rx="2.7" ry="1.7" fill="#87ca71" transform="rotate(-27 357.3 161.6)"/>
<ellipse cx="367.7" cy="162.1" rx="2.6" ry="2.2" fill="#66c59a" transform="rotate(-87 367.7 162.1)"/>
<ellipse cx="379.4" cy="162.1" rx="3.6" ry="2" fill="#6bc792" transform="rotate(27 379.4 162.1)"/>
<ellipse cx="42" cy="176.4" rx="2.9" ry="2.1" fill="#5ebfad" transform="rotate(-82 42 176.4)"/>
<ellipse cx="52.6" cy="172.2" rx="3.3" ry="2.2" fill="#55b9bf" transform="rotate(-3 52.6 172.2)"/>
<ellipse cx="66.5" cy="175.9" rx="3.2" ry="2.3" fill="#68c698" transform="rotate(4 66.5 175.9)"/>
<ellipse cx="76.4" cy="173.3" rx="3" ry="1.8" fill="#69c696" transform="rotate(44 76.4 173.3)"/>
<ellipse cx="86.7" cy="175.9" rx="3.1" ry="2.1" fill="#5ebfad" transform="rotate(10 86.7 175.9)"/>
<ellipse cx="98.5" cy="173.3" rx="2.9" ry="1.8" fill="#60c0aa" transform="rotate(-28 98.5 173.3)"/>
<ellipse cx="109" cy="176.4" rx="3.3" ry="2.1" fill="#61c1a7" transform="rotate(39 109 176.4)"/>
<ellipse cx="120.3" cy="172.7" rx="3.2" ry="2.1" fill="#63c3a2" transform="rotate(6 120.3 172.7)"/>
<ellipse cx="131.4" cy="174.4" rx="2.7" ry="2.3" fill="#5bbdb2" transform="rotate(-24 131.4 174.4)"/>
<ellipse cx="141.3" cy="173.7" rx="3.3" ry="2.1" fill="#61c1a8" transform="rotate(27 141.3 173.7)"/>
<ellipse cx="153.5" cy="173.5" rx="3" ry="1.8" fill="#5bbdb2" transform="rotate(-21 153.5 173.5)"/>
<ellipse cx="165.8" cy="174" rx="3.2" ry="2.1" fill="#6cc890" transform="rotate(5 165.8 174)"/>
<ellipse cx="177.3" cy="174.5" rx="3.1" ry="2.1" fill="#5bbeb2" transform="rotate(-6 177.3 174.5)"/>
<ellipse cx="184.9" cy="176.1" rx="3.3" ry="1.8" fill="#5fc0aa" transform="rotate(29 184.9 176.1)"/>
<ellipse cx="195.2" cy="176.5" rx="3" ry="2.1" fill="#7cca7d" transform="rotate(-20 195.2 176.5)"/>
<ellipse cx="207.7" cy="175.6" rx="3.6" ry="2.2" fill="#6fc88d" transform="rotate(-59 207.7 175.6)"/>
<ellipse cx="222" cy="174.8" rx="3.1" ry="2.2" fill="#65c49e" transform="rotate(8 222 174.8)"/>
<ellipse cx="230.8" cy="174" rx="2.8" ry="1.9" fill="#64c3a0" transform="rotate(24 230.8 174)"/>
<ellipse cx="243.3" cy="175.7" rx="3.6" ry="2" fill="#65c49e" transform="rotate(-14 243.3 175.7)"/>
<ellipse cx="252.9" cy="176.6" rx="3.2" ry="1.9" fill="#72c988" transform="rotate(59 252.9 176.6)"/>
<ellipse cx="264.1" cy="174.5" rx="3.5" ry="2.1" fill="#71c98a" transform="rotate(-48 264.1 174.5)"/>
<ellipse cx="276.9" cy="176.2" rx="3.4" ry="2.3" fill="#8aca6e" transform="rotate(-2 276.9 176.2)"/>
<ellipse cx="283.8" cy="172.2" rx="3.1" ry="2.3" fill="#68c697" transform="rotate(17 283.8 172.2)"/>
<ellipse cx="298.1" cy="173.1" rx="3.1" ry="1.8" fill="#6ac793" transform="rotate(-1 298.1 173.1)"/>
<ellipse cx="309.5" cy="174.2" rx="2.7" ry="2.1" fill="#66c59b" transform="rotate(-53 309.5 174.2)"/>
<ellipse cx="318" cy="175.2" rx="3.4" ry="2.3" fill="#74c986" transform="rotate(-8 318 175.2)"/>
<ellipse cx="331" cy="173.1" rx="3.6" ry="2.2" fill="#7eca7a" transform="rotate(-27 331 173.1)"/>
<ellipse cx="342.9" cy="174.7" rx="3.1" ry="2.2" fill="#69c794" transform="rotate(6 342.9 174.7)"/>
<ellipse cx="353.5" cy="175.9" rx="2.8" ry="2.2" fill="#82ca76" transform="rotate(-47 353.5 175.9)"/>
<ellipse cx="364.2" cy="173.1" rx="3" ry="2.3" fill="#63c3a2" transform="rotate(27 364.2 173.1)"/>
<ellipse cx="374.6" cy="173.8" rx="3.3" ry="2.3" fill="#66c59b" transform="rotate(-10 374.6 173.8)"/>
<ellipse cx="36.5" cy="186.4" rx="3.4" ry="2" fill="#55babd" transform="rotate(22 36.5 186.4)"/>
<ellipse cx="48.7" cy="184.7" rx="3" ry="2.2" fill="#60c0aa" transform="rotate(-23 48.7 184.7)"/>
<ellipse cx="60.6" cy="184.7" rx="2.7" ry="1.9" fill="#5dbfae" transform="rotate(8 60.6 184.7)"/>
<ellipse cx="71.6" cy="183.3" rx="2.9" ry="2.1" fill="#5dbfaf" transform="rotate(-59 71.6 183.3)"/>
<ellipse cx="82.8" cy="183" rx="3.4" ry="2.2" fill="#55b9bd" transform="rotate(54 82.8 183)"/>
<ellipse cx="91" cy="185.1" rx="3.4" ry="1.9" fill="#55b9bd" transform="rotate(-14 91 185.1)"/>
<ellipse cx="103.9" cy="185.7" rx="3.4" ry="2" fill="#5abdb3" transform="rotate(59 103.9 185.7)"/>
<ellipse cx="116.6" cy="185.2" rx="2.7" ry="1.9" fill="#60c1a8" transform="rotate(-20 116.6 185.2)"/>
<ellipse cx="125.4" cy="183.8" rx="3.3" ry="2.2" fill="#5abdb4" transform="rotate(-11 125.4 183.8)"/>
<ellipse cx="137.1" cy="186.9" rx="3.2" ry="2.2" fill="#55b9bf" transform="rotate(31 137.1 186.9)"/>
<ellipse cx="148.6" cy="184.1" rx="3" ry="2" fill="#6bc792" transform="rotate(-8 148.6 184.1)"/>
<ellipse cx="159.7" cy="185.2" rx="2.7" ry="2.3" fill="#6bc792" transform="rotate(53 159.7 185.2)"/>
<ellipse cx="171.8" cy="183" rx="3.5" ry="2.1" fill="#60c1a9" transform="rotate(-57 171.8 183)"/>
<ellipse cx="183" cy="186.2" rx="2.9" ry="2.1" fill="#5fc0aa" transform="rotate(19 183 186.2)"/>
<ellipse cx="194.5" cy="185.5" rx="3.2" ry="2" fill="#6dc88f" transform="rotate(-14 194.5 185.5)"/>
<ellipse cx="203.3" cy="186.2" rx="3.5" ry="1.9" fill="#5dbfae" transform="rotate(0 203.3 186.2)"/>
<ellipse cx="212.8" cy="186.3" rx="3.5" ry="2" fill="#6ec88d" transform="rotate(-1 212.8 186.3)"/>
<ellipse cx="225.5" cy="184.6" rx="2.8" ry="1.9" fill="#76ca83" transform="rotate(16 225.5 184.6)"/>
<ellipse cx="236.9" cy="185.8" rx="3.5" ry="1.9" fill="#65c49e" transform="rotate(81 236.9 185.8)"/>
<ellipse cx="246.9" cy="183.1" rx="2.9" ry="1.9" fill="#61c2a6" transform="rotate(-30 246.9 183.1)"/>
<ellipse cx="258" cy="183.1" rx="3" ry="2.1" fill="#7cca7d" transform="rotate(68 258 183.1)"/>
<ellipse cx="269.5" cy="183.9" rx="3.1" ry="1.8" fill="#68c696" transform="rotate(-28 269.5 183.9)"/>
<ellipse cx="281.2" cy="182.7" rx="2.7" ry="2" fill="#7aca7e" transform="rotate(-1 281.2 182.7)"/>
<ellipse cx="293.8" cy="184.2" rx="2.8" ry="2" fill="#77ca83" transform="rotate(-15 293.8 184.2)"/>
<ellipse cx="302" cy="183.8" rx="3.3" ry="2.3" fill="#6fc88c" transform="rotate(-10 302 183.8)"/>
<ellipse cx="315.4" cy="186" rx="3.2" ry="2.1" fill="#81ca77" transform="rotate(-14 315.4 186)"/>
<ellipse cx="323" cy="182.8" rx="3.4" ry="1.8" fill="#70c88b" transform="rotate(-48 323 182.8)"/>
<ellipse cx="336.8" cy="183.4" rx="3.1" ry="2.1" fill="#6cc890" transform="rotate(-22 336.8 183.4)"/>
<ellipse cx="346.5" cy="186.6" rx="3" ry="2" fill="#63c3a3" transform="rotate(-25 346.5 186.6)"/>
<ellipse cx="360.5" cy="185.2" rx="3.2" ry="2" fill="#7dca7b" transform="rotate(-10 360.5 185.2)"/>
<ellipse cx="369.3" cy="182.7" rx="3.4" ry="1.9" fill="#76c984" transform="rotate(-15 369.3 182.7)"/>
<ellipse cx="379.4" cy="184.9" rx="3.3" ry="1.9" fill="#6bc792" transform="rotate(33 379.4 184.9)"/>
</g>
<g font-family="'Liberation Sans', sans-serif" font-size="8" fill="#303030">
<text x="208.7" y="14.6" text-anchor="middle" font-size="8.6">CRG road UVZ map (in uncurved UV grid)</text>
<text x="38" y="201.2" text-anchor="middle">15</text>
<text x="72.3" y="201.2" text-anchor="middle">15.5</text>
<text x="106.6" y="201.2" text-anchor="middle">16</text>
<text x="140.9" y="201.2" text-anchor="middle">16.5</text>
<text x="175.2" y="201.2" text-anchor="middle">17</text>
<text x="209.5" y="201.2" text-anchor="middle">17.5</text>
<text x="243.8" y="201.2" text-anchor="middle">18</text>
<text x="278.1" y="201.2" text-anchor="middle">18.5</text>
<text x="312.4" y="201.2" text-anchor="middle">19</text>
<text x="346.7" y="201.2" text-anchor="middle">19.5</text>
<text x="33.5" y="39" text-anchor="end">1</text>
<text x="33.5" y="73.4" text-anchor="end">0.5</text>
<text x="33.5" y="107.8" text-anchor="end">0</text>
<text x="33.5" y="142.1" text-anchor="end">-0.5</text>
<text x="33.5" y="176.5" text-anchor="end">-1</text>
<text x="208.7" y="213" text-anchor="middle" font-size="8.8">U [m]</text>
<text x="15.4" y="104.5" text-anchor="middle" font-size="8.8" transform="rotate(-90 15.4 104.5)">V [m]</text>
<rect x="387.0" y="18.5" width="11.8" height="171.9" fill="url(#cbar)" stroke="#444" stroke-width="0.5"/>
<line x1="397.3" x2="398.8" y1="28.8" y2="28.8" stroke="#333" stroke-width="0.5"/>
<text x="402" y="31.4" font-size="6.9">367.97</text>
<line x1="397.3" x2="398.8" y1="44.6" y2="44.6" stroke="#333" stroke-width="0.5"/>
<text x="402" y="47.2" font-size="6.9">367.96</text>
<line x1="397.3" x2="398.8" y1="60.4" y2="60.4" stroke="#333" stroke-width="0.5"/>
<text x="402" y="63" font-size="6.9">367.95</text>
<line x1="397.3" x2="398.8" y1="76.2" y2="76.2" stroke="#333" stroke-width="0.5"/>
<text x="402" y="78.8" font-size="6.9">367.94</text>
<line x1="397.3" x2="398.8" y1="92" y2="92" stroke="#333" stroke-width="0.5"/>
<text x="402" y="94.6" font-size="6.9">367.93</text>
<line x1="397.3" x2="398.8" y1="107.8" y2="107.8" stroke="#333" stroke-width="0.5"/>
<text x="402" y="110.4" font-size="6.9">367.92</text>
<line x1="397.3" x2="398.8" y1="123.6" y2="123.6" stroke="#333" stroke-width="0.5"/>
<text x="402" y="126.2" font-size="6.9">367.91</text>
<line x1="397.3" x2="398.8" y1="139.4" y2="139.4" stroke="#333" stroke-width="0.5"/>
<text x="402" y="142" font-size="6.9">367.9</text>
<line x1="397.3" x2="398.8" y1="155.2" y2="155.2" stroke="#333" stroke-width="0.5"/>
<text x="402" y="157.8" font-size="6.9">367.89</text>
<line x1="397.3" x2="398.8" y1="171" y2="171" stroke="#333" stroke-width="0.5"/>
<text x="402" y="173.6" font-size="6.9">367.88</text>
<line x1="397.3" x2="398.8" y1="186.8" y2="186.8" stroke="#333" stroke-width="0.5"/>
<text x="402" y="189.4" font-size="6.9">367.87</text>
</g>
</svg>
<svg class="panel" style="left:487.75px;top:241px" width="440" height="221" viewBox="0 0 440 221">
<defs><clipPath id="clip2"><rect x="37.2" y="18.5" width="343.0" height="171.9"/></clipPath></defs>
<g clip-path="url(#clip2)"><g filter="url(#blur2)">
<rect x="24.7" y="5.9" width="12.8" height="12.9" fill="#4a8aec"/>
<rect x="36.9" y="5.9" width="12.8" height="12.9" fill="#4a8aeb"/>
<rect x="49.2" y="5.9" width="12.8" height="12.9" fill="#4a8ceb"/>
<rect x="61.4" y="5.9" width="12.8" height="12.9" fill="#4a8dea"/>
<rect x="73.7" y="5.9" width="12.8" height="12.9" fill="#4c94e5"/>
<rect x="85.9" y="5.9" width="12.8" height="12.9" fill="#4e9edf"/>
<rect x="98.2" y="5.9" width="12.8" height="12.9" fill="#50a7da"/>
<rect x="110.4" y="5.9" width="12.8" height="12.9" fill="#51afd1"/>
<rect x="122.7" y="5.9" width="12.8" height="12.9" fill="#53b6c4"/>
<rect x="134.9" y="5.9" width="12.8" height="12.9" fill="#58bbb8"/>
<rect x="147.1" y="5.9" width="12.8" height="12.9" fill="#5abdb3"/>
<rect x="159.4" y="5.9" width="12.8" height="12.9" fill="#5dbeaf"/>
<rect x="171.6" y="5.9" width="12.8" height="12.9" fill="#5cbeb0"/>
<rect x="183.9" y="5.9" width="12.8" height="12.9" fill="#55b9be"/>
<rect x="196.1" y="5.9" width="12.8" height="12.9" fill="#52b3cc"/>
<rect x="208.4" y="5.9" width="12.8" height="12.9" fill="#52b1cd"/>
<rect x="220.6" y="5.9" width="12.8" height="12.9" fill="#53b6c4"/>
<rect x="232.9" y="5.9" width="12.8" height="12.9" fill="#56babb"/>
<rect x="245.1" y="5.9" width="12.8" height="12.9" fill="#59bcb5"/>
<rect x="257.4" y="5.9" width="12.8" height="12.9" fill="#5cbeb1"/>
<rect x="269.6" y="5.9" width="12.8" height="12.9" fill="#5ebfad"/>
<rect x="281.9" y="5.9" width="12.8" height="12.9" fill="#5cbeb0"/>
<rect x="294.1" y="5.9" width="12.8" height="12.9" fill="#5abdb4"/>
<rect x="306.4" y="5.9" width="12.8" height="12.9" fill="#57bbb8"/>
<rect x="318.6" y="5.9" width="12.8" height="12.9" fill="#56babb"/>
<rect x="330.9" y="5.9" width="12.8" height="12.9" fill="#55b9be"/>
<rect x="343.1" y="5.9" width="12.8" height="12.9" fill="#55b9bf"/>
<rect x="355.4" y="5.9" width="12.8" height="12.9" fill="#56babc"/>
<rect x="367.6" y="5.9" width="12.8" height="12.9" fill="#57bbb9"/>
<rect x="379.9" y="5.9" width="12.8" height="12.9" fill="#57bbb8"/>
<rect x="24.7" y="18.2" width="12.8" height="12.9" fill="#4b8ee8"/>
<rect x="36.9" y="18.2" width="12.8" height="12.9" fill="#4b8fe8"/>
<rect x="49.2" y="18.2" width="12.8" height="12.9" fill="#4b90e7"/>
<rect x="61.4" y="18.2" width="12.8" height="12.9" fill="#4b91e7"/>
<rect x="73.7" y="18.2" width="12.8" height="12.9" fill="#4d99e2"/>
<rect x="85.9" y="18.2" width="12.8" height="12.9" fill="#4fa2dd"/>
<rect x="98.2" y="18.2" width="12.8" height="12.9" fill="#51abd6"/>
<rect x="110.4" y="18.2" width="12.8" height="12.9" fill="#52b3cb"/>
<rect x="122.7" y="18.2" width="12.8" height="12.9" fill="#55b9be"/>
<rect x="134.9" y="18.2" width="12.8" height="12.9" fill="#5cbeb1"/>
<rect x="147.1" y="18.2" width="12.8" height="12.9" fill="#5ebfac"/>
<rect x="159.4" y="18.2" width="12.8" height="12.9" fill="#61c1a8"/>
<rect x="171.6" y="18.2" width="12.8" height="12.9" fill="#60c0aa"/>
<rect x="183.9" y="18.2" width="12.8" height="12.9" fill="#57bbb9"/>
<rect x="196.1" y="18.2" width="12.8" height="12.9" fill="#52b5c7"/>
<rect x="208.4" y="18.2" width="12.8" height="12.9" fill="#52b4ca"/>
<rect x="220.6" y="18.2" width="12.8" height="12.9" fill="#54b8c0"/>
<rect x="232.9" y="18.2" width="12.8" height="12.9" fill="#58bcb7"/>
<rect x="245.1" y="18.2" width="12.8" height="12.9" fill="#5cbeb1"/>
<rect x="257.4" y="18.2" width="12.8" height="12.9" fill="#5fc0ac"/>
<rect x="269.6" y="18.2" width="12.8" height="12.9" fill="#61c1a7"/>
<rect x="281.9" y="18.2" width="12.8" height="12.9" fill="#60c0aa"/>
<rect x="294.1" y="18.2" width="12.8" height="12.9" fill="#5ebfae"/>
<rect x="306.4" y="18.2" width="12.8" height="12.9" fill="#5bbeb1"/>
<rect x="318.6" y="18.2" width="12.8" height="12.9" fill="#59bcb5"/>
<rect x="330.9" y="18.2" width="12.8" height="12.9" fill="#57bbb9"/>
<rect x="343.1" y="18.2" width="12.8" height="12.9" fill="#56babb"/>
<rect x="355.4" y="18.2" width="12.8" height="12.9" fill="#57bbb8"/>
<rect x="367.6" y="18.2" width="12.8" height="12.9" fill="#59bcb5"/>
<rect x="379.9" y="18.2" width="12.8" height="12.9" fill="#5abdb4"/>
<rect x="24.7" y="30.5" width="12.8" height="12.9" fill="#4d9ae1"/>
<rect x="36.9" y="30.5" width="12.8" height="12.9" fill="#4d9ae1"/>
<rect x="49.2" y="30.5" width="12.8" height="12.9" fill="#4d9be1"/>
<rect x="61.4" y="30.5" width="12.8" height="12.9" fill="#4d9be0"/>
<rect x="73.7" y="30.5" width="12.8" height="12.9" fill="#4fa3dd"/>
<rect x="85.9" y="30.5" width="12.8" height="12.9" fill="#51acd5"/>
<rect x="98.2" y="30.5" width="12.8" height="12.9" fill="#52b4c9"/>
<rect x="110.4" y="30.5" width="12.8" height="12.9" fill="#56babc"/>
<rect x="122.7" y="30.5" width="12.8" height="12.9" fill="#5ebfad"/>
<rect x="134.9" y="30.5" width="12.8" height="12.9" fill="#65c49e"/>
<rect x="147.1" y="30.5" width="12.8" height="12.9" fill="#67c699"/>
<rect x="159.4" y="30.5" width="12.8" height="12.9" fill="#6ac794"/>
<rect x="171.6" y="30.5" width="12.8" height="12.9" fill="#68c697"/>
<rect x="183.9" y="30.5" width="12.8" height="12.9" fill="#5fc0ab"/>
<rect x="196.1" y="30.5" width="12.8" height="12.9" fill="#55b9bd"/>
<rect x="208.4" y="30.5" width="12.8" height="12.9" fill="#54b8c1"/>
<rect x="220.6" y="30.5" width="12.8" height="12.9" fill="#58bcb7"/>
<rect x="232.9" y="30.5" width="12.8" height="12.9" fill="#5ebfad"/>
<rect x="245.1" y="30.5" width="12.8" height="12.9" fill="#61c2a6"/>
<rect x="257.4" y="30.5" width="12.8" height="12.9" fill="#64c49f"/>
<rect x="269.6" y="30.5" width="12.8" height="12.9" fill="#68c698"/>
<rect x="281.9" y="30.5" width="12.8" height="12.9" fill="#67c699"/>
<rect x="294.1" y="30.5" width="12.8" height="12.9" fill="#66c59c"/>
<rect x="306.4" y="30.5" width="12.8" height="12.9" fill="#64c3a0"/>
<rect x="318.6" y="30.5" width="12.8" height="12.9" fill="#61c1a7"/>
<rect x="330.9" y="30.5" width="12.8" height="12.9" fill="#5ebfad"/>
<rect x="343.1" y="30.5" width="12.8" height="12.9" fill="#5cbeb1"/>
<rect x="355.4" y="30.5" width="12.8" height="12.9" fill="#5dbfae"/>
<rect x="367.6" y="30.5" width="12.8" height="12.9" fill="#5fc0ab"/>
<rect x="379.9" y="30.5" width="12.8" height="12.9" fill="#60c1a9"/>
<rect x="24.7" y="42.8" width="12.8" height="12.9" fill="#52b4c8"/>
<rect x="36.9" y="42.8" width="12.8" height="12.9" fill="#52b3ca"/>
<rect x="49.2" y="42.8" width="12.8" height="12.9" fill="#51b1ce"/>
<rect x="61.4" y="42.8" width="12.8" height="12.9" fill="#51afd1"/>
<rect x="73.7" y="42.8" width="12.8" height="12.9" fill="#52b4c9"/>
<rect x="85.9" y="42.8" width="12.8" height="12.9" fill="#56babc"/>
<rect x="98.2" y="42.8" width="12.8" height="12.9" fill="#5dbfae"/>
<rect x="110.4" y="42.8" width="12.8" height="12.9" fill="#69c696"/>
<rect x="122.7" y="42.8" width="12.8" height="12.9" fill="#81ca76"/>
<rect x="134.9" y="42.8" width="12.8" height="12.9" fill="#a3c85b"/>
<rect x="147.1" y="42.8" width="12.8" height="12.9" fill="#a5c859"/>
<rect x="159.4" y="42.8" width="12.8" height="12.9" fill="#a7c858"/>
<rect x="171.6" y="42.8" width="12.8" height="12.9" fill="#9ac961"/>
<rect x="183.9" y="42.8" width="12.8" height="12.9" fill="#75c985"/>
<rect x="196.1" y="42.8" width="12.8" height="12.9" fill="#62c2a5"/>
<rect x="208.4" y="42.8" width="12.8" height="12.9" fill="#5dbfae"/>
<rect x="220.6" y="42.8" width="12.8" height="12.9" fill="#62c2a5"/>
<rect x="232.9" y="42.8" width="12.8" height="12.9" fill="#66c59b"/>
<rect x="245.1" y="42.8" width="12.8" height="12.9" fill="#6ec88e"/>
<rect x="257.4" y="42.8" width="12.8" height="12.9" fill="#7aca7e"/>
<rect x="269.6" y="42.8" width="12.8" height="12.9" fill="#8dca6c"/>
<rect x="281.9" y="42.8" width="12.8" height="12.9" fill="#99c962"/>
<rect x="294.1" y="42.8" width="12.8" height="12.9" fill="#97c963"/>
<rect x="306.4" y="42.8" width="12.8" height="12.9" fill="#8dca6b"/>
<rect x="318.6" y="42.8" width="12.8" height="12.9" fill="#7bca7e"/>
<rect x="330.9" y="42.8" width="12.8" height="12.9" fill="#6dc88f"/>
<rect x="343.1" y="42.8" width="12.8" height="12.9" fill="#68c697"/>
<rect x="355.4" y="42.8" width="12.8" height="12.9" fill="#6dc890"/>
<rect x="367.6" y="42.8" width="12.8" height="12.9" fill="#73c987"/>
<rect x="379.9" y="42.8" width="12.8" height="12.9" fill="#76c983"/>
<rect x="24.7" y="55" width="12.8" height="12.9" fill="#6fc88c"/>
<rect x="36.9" y="55" width="12.8" height="12.9" fill="#6cc890"/>
<rect x="49.2" y="55" width="12.8" height="12.9" fill="#68c698"/>
<rect x="61.4" y="55" width="12.8" height="12.9" fill="#64c4a0"/>
<rect x="73.7" y="55" width="12.8" height="12.9" fill="#67c599"/>
<rect x="85.9" y="55" width="12.8" height="12.9" fill="#6fc88c"/>
<rect x="98.2" y="55" width="12.8" height="12.9" fill="#7bca7d"/>
<rect x="110.4" y="55" width="12.8" height="12.9" fill="#9dc95f"/>
<rect x="122.7" y="55" width="12.8" height="12.9" fill="#c5c24b"/>
<rect x="134.9" y="55" width="12.8" height="12.9" fill="#e8bc52"/>
<rect x="147.1" y="55" width="12.8" height="12.9" fill="#edbc56"/>
<rect x="159.4" y="55" width="12.8" height="12.9" fill="#ecbc54"/>
<rect x="171.6" y="55" width="12.8" height="12.9" fill="#d9be4b"/>
<rect x="183.9" y="55" width="12.8" height="12.9" fill="#a6c859"/>
<rect x="196.1" y="55" width="12.8" height="12.9" fill="#77ca82"/>
<rect x="208.4" y="55" width="12.8" height="12.9" fill="#6cc791"/>
<rect x="220.6" y="55" width="12.8" height="12.9" fill="#74c986"/>
<rect x="232.9" y="55" width="12.8" height="12.9" fill="#7eca7a"/>
<rect x="245.1" y="55" width="12.8" height="12.9" fill="#91ca69"/>
<rect x="257.4" y="55" width="12.8" height="12.9" fill="#a8c757"/>
<rect x="269.6" y="55" width="12.8" height="12.9" fill="#cac14a"/>
<rect x="281.9" y="55" width="12.8" height="12.9" fill="#e9bc53"/>
<rect x="294.1" y="55" width="12.8" height="12.9" fill="#e4bc4f"/>
<rect x="306.4" y="55" width="12.8" height="12.9" fill="#cac14a"/>
<rect x="318.6" y="55" width="12.8" height="12.9" fill="#aec654"/>
<rect x="330.9" y="55" width="12.8" height="12.9" fill="#97c964"/>
<rect x="343.1" y="55" width="12.8" height="12.9" fill="#8bca6d"/>
<rect x="355.4" y="55" width="12.8" height="12.9" fill="#99c962"/>
<rect x="367.6" y="55" width="12.8" height="12.9" fill="#a7c858"/>
<rect x="379.9" y="55" width="12.8" height="12.9" fill="#aec654"/>
<rect x="24.7" y="67.3" width="12.8" height="12.9" fill="#a1c85c"/>
<rect x="36.9" y="67.3" width="12.8" height="12.9" fill="#9dc95f"/>
<rect x="49.2" y="67.3" width="12.8" height="12.9" fill="#95ca65"/>
<rect x="61.4" y="67.3" width="12.8" height="12.9" fill="#8dca6b"/>
<rect x="73.7" y="67.3" width="12.8" height="12.9" fill="#92ca68"/>
<rect x="85.9" y="67.3" width="12.8" height="12.9" fill="#9cc960"/>
<rect x="98.2" y="67.3" width="12.8" height="12.9" fill="#a6c859"/>
<rect x="110.4" y="67.3" width="12.8" height="12.9" fill="#c6c24a"/>
<rect x="122.7" y="67.3" width="12.8" height="12.9" fill="#e6bc51"/>
<rect x="134.9" y="67.3" width="12.8" height="12.9" fill="#f5cc55"/>
<rect x="147.1" y="67.3" width="12.8" height="12.9" fill="#f5d354"/>
<rect x="159.4" y="67.3" width="12.8" height="12.9" fill="#f5d054"/>
<rect x="171.6" y="67.3" width="12.8" height="12.9" fill="#f3bf57"/>
<rect x="183.9" y="67.3" width="12.8" height="12.9" fill="#c6c24a"/>
<rect x="196.1" y="67.3" width="12.8" height="12.9" fill="#94ca66"/>
<rect x="208.4" y="67.3" width="12.8" height="12.9" fill="#83ca75"/>
<rect x="220.6" y="67.3" width="12.8" height="12.9" fill="#8fca6a"/>
<rect x="232.9" y="67.3" width="12.8" height="12.9" fill="#9bc960"/>
<rect x="245.1" y="67.3" width="12.8" height="12.9" fill="#afc653"/>
<rect x="257.4" y="67.3" width="12.8" height="12.9" fill="#c5c24b"/>
<rect x="269.6" y="67.3" width="12.8" height="12.9" fill="#e3bc4f"/>
<rect x="281.9" y="67.3" width="12.8" height="12.9" fill="#f6cc55"/>
<rect x="294.1" y="67.3" width="12.8" height="12.9" fill="#f5c756"/>
<rect x="306.4" y="67.3" width="12.8" height="12.9" fill="#e5bc50"/>
<rect x="318.6" y="67.3" width="12.8" height="12.9" fill="#cdc049"/>
<rect x="330.9" y="67.3" width="12.8" height="12.9" fill="#b9c44f"/>
<rect x="343.1" y="67.3" width="12.8" height="12.9" fill="#aec654"/>
<rect x="355.4" y="67.3" width="12.8" height="12.9" fill="#bcc44d"/>
<rect x="367.6" y="67.3" width="12.8" height="12.9" fill="#c9c14a"/>
<rect x="379.9" y="67.3" width="12.8" height="12.9" fill="#d0bf4a"/>
<rect x="24.7" y="79.6" width="12.8" height="12.9" fill="#7bca7e"/>
<rect x="36.9" y="79.6" width="12.8" height="12.9" fill="#7cca7c"/>
<rect x="49.2" y="79.6" width="12.8" height="12.9" fill="#7fca79"/>
<rect x="61.4" y="79.6" width="12.8" height="12.9" fill="#82ca76"/>
<rect x="73.7" y="79.6" width="12.8" height="12.9" fill="#86ca72"/>
<rect x="85.9" y="79.6" width="12.8" height="12.9" fill="#8aca6e"/>
<rect x="98.2" y="79.6" width="12.8" height="12.9" fill="#8fca6a"/>
<rect x="110.4" y="79.6" width="12.8" height="12.9" fill="#adc654"/>
<rect x="122.7" y="79.6" width="12.8" height="12.9" fill="#cec049"/>
<rect x="134.9" y="79.6" width="12.8" height="12.9" fill="#e9bc53"/>
<rect x="147.1" y="79.6" width="12.8" height="12.9" fill="#e9bc53"/>
<rect x="159.4" y="79.6" width="12.8" height="12.9" fill="#e5bc50"/>
<rect x="171.6" y="79.6" width="12.8" height="12.9" fill="#d6be4a"/>
<rect x="183.9" y="79.6" width="12.8" height="12.9" fill="#b4c551"/>
<rect x="196.1" y="79.6" width="12.8" height="12.9" fill="#91ca68"/>
<rect x="208.4" y="79.6" width="12.8" height="12.9" fill="#85ca72"/>
<rect x="220.6" y="79.6" width="12.8" height="12.9" fill="#8eca6a"/>
<rect x="232.9" y="79.6" width="12.8" height="12.9" fill="#98c963"/>
<rect x="245.1" y="79.6" width="12.8" height="12.9" fill="#a2c85b"/>
<rect x="257.4" y="79.6" width="12.8" height="12.9" fill="#adc755"/>
<rect x="269.6" y="79.6" width="12.8" height="12.9" fill="#bdc34d"/>
<rect x="281.9" y="79.6" width="12.8" height="12.9" fill="#d4bf4a"/>
<rect x="294.1" y="79.6" width="12.8" height="12.9" fill="#d6be4a"/>
<rect x="306.4" y="79.6" width="12.8" height="12.9" fill="#cbc14a"/>
<rect x="318.6" y="79.6" width="12.8" height="12.9" fill="#b8c44f"/>
<rect x="330.9" y="79.6" width="12.8" height="12.9" fill="#a7c758"/>
<rect x="343.1" y="79.6" width="12.8" height="12.9" fill="#9ec95e"/>
<rect x="355.4" y="79.6" width="12.8" height="12.9" fill="#a6c859"/>
<rect x="367.6" y="79.6" width="12.8" height="12.9" fill="#adc654"/>
<rect x="379.9" y="79.6" width="12.8" height="12.9" fill="#b1c652"/>
<rect x="24.7" y="91.9" width="12.8" height="12.9" fill="#61c1a7"/>
<rect x="36.9" y="91.9" width="12.8" height="12.9" fill="#61c1a7"/>
<rect x="49.2" y="91.9" width="12.8" height="12.9" fill="#61c1a7"/>
<rect x="61.4" y="91.9" width="12.8" height="12.9" fill="#61c1a7"/>
<rect x="73.7" y="91.9" width="12.8" height="12.9" fill="#62c2a5"/>
<rect x="85.9" y="91.9" width="12.8" height="12.9" fill="#63c3a2"/>
<rect x="98.2" y="91.9" width="12.8" height="12.9" fill="#65c49f"/>
<rect x="110.4" y="91.9" width="12.8" height="12.9" fill="#74c986"/>
<rect x="122.7" y="91.9" width="12.8" height="12.9" fill="#92ca68"/>
<rect x="134.9" y="91.9" width="12.8" height="12.9" fill="#b1c652"/>
<rect x="147.1" y="91.9" width="12.8" height="12.9" fill="#adc654"/>
<rect x="159.4" y="91.9" width="12.8" height="12.9" fill="#a8c757"/>
<rect x="171.6" y="91.9" width="12.8" height="12.9" fill="#9dc95f"/>
<rect x="183.9" y="91.9" width="12.8" height="12.9" fill="#83ca75"/>
<rect x="196.1" y="91.9" width="12.8" height="12.9" fill="#70c88b"/>
<rect x="208.4" y="91.9" width="12.8" height="12.9" fill="#69c695"/>
<rect x="220.6" y="91.9" width="12.8" height="12.9" fill="#69c795"/>
<rect x="232.9" y="91.9" width="12.8" height="12.9" fill="#69c795"/>
<rect x="245.1" y="91.9" width="12.8" height="12.9" fill="#6ec88e"/>
<rect x="257.4" y="91.9" width="12.8" height="12.9" fill="#75c984"/>
<rect x="269.6" y="91.9" width="12.8" height="12.9" fill="#7fca79"/>
<rect x="281.9" y="91.9" width="12.8" height="12.9" fill="#86ca72"/>
<rect x="294.1" y="91.9" width="12.8" height="12.9" fill="#89ca6f"/>
<rect x="306.4" y="91.9" width="12.8" height="12.9" fill="#88ca70"/>
<rect x="318.6" y="91.9" width="12.8" height="12.9" fill="#7dca7c"/>
<rect x="330.9" y="91.9" width="12.8" height="12.9" fill="#73c987"/>
<rect x="343.1" y="91.9" width="12.8" height="12.9" fill="#6fc88c"/>
<rect x="355.4" y="91.9" width="12.8" height="12.9" fill="#74c985"/>
<rect x="367.6" y="91.9" width="12.8" height="12.9" fill="#7aca7e"/>
<rect x="379.9" y="91.9" width="12.8" height="12.9" fill="#7eca7b"/>
<rect x="24.7" y="104.2" width="12.8" height="12.9" fill="#52b4c8"/>
<rect x="36.9" y="104.2" width="12.8" height="12.9" fill="#52b4c9"/>
<rect x="49.2" y="104.2" width="12.8" height="12.9" fill="#52b3cb"/>
<rect x="61.4" y="104.2" width="12.8" height="12.9" fill="#52b2cd"/>
<rect x="73.7" y="104.2" width="12.8" height="12.9" fill="#52b2cc"/>
<rect x="85.9" y="104.2" width="12.8" height="12.9" fill="#52b4ca"/>
<rect x="98.2" y="104.2" width="12.8" height="12.9" fill="#52b5c8"/>
<rect x="110.4" y="104.2" width="12.8" height="12.9" fill="#58bcb6"/>
<rect x="122.7" y="104.2" width="12.8" height="12.9" fill="#63c3a2"/>
<rect x="134.9" y="104.2" width="12.8" height="12.9" fill="#6ec88d"/>
<rect x="147.1" y="104.2" width="12.8" height="12.9" fill="#6dc890"/>
<rect x="159.4" y="104.2" width="12.8" height="12.9" fill="#6bc792"/>
<rect x="171.6" y="104.2" width="12.8" height="12.9" fill="#68c698"/>
<rect x="183.9" y="104.2" width="12.8" height="12.9" fill="#61c2a6"/>
<rect x="196.1" y="104.2" width="12.8" height="12.9" fill="#5bbdb2"/>
<rect x="208.4" y="104.2" width="12.8" height="12.9" fill="#57bbba"/>
<rect x="220.6" y="104.2" width="12.8" height="12.9" fill="#56babc"/>
<rect x="232.9" y="104.2" width="12.8" height="12.9" fill="#55b9bf"/>
<rect x="245.1" y="104.2" width="12.8" height="12.9" fill="#57bbb9"/>
<rect x="257.4" y="104.2" width="12.8" height="12.9" fill="#5cbeb0"/>
<rect x="269.6" y="104.2" width="12.8" height="12.9" fill="#61c1a6"/>
<rect x="281.9" y="104.2" width="12.8" height="12.9" fill="#62c2a5"/>
<rect x="294.1" y="104.2" width="12.8" height="12.9" fill="#62c2a5"/>
<rect x="306.4" y="104.2" width="12.8" height="12.9" fill="#61c1a6"/>
<rect x="318.6" y="104.2" width="12.8" height="12.9" fill="#5dbfae"/>
<rect x="330.9" y="104.2" width="12.8" height="12.9" fill="#59bcb6"/>
<rect x="343.1" y="104.2" width="12.8" height="12.9" fill="#57bbb9"/>
<rect x="355.4" y="104.2" width="12.8" height="12.9" fill="#5bbeb1"/>
<rect x="367.6" y="104.2" width="12.8" height="12.9" fill="#60c0a9"/>
<rect x="379.9" y="104.2" width="12.8" height="12.9" fill="#62c2a5"/>
<rect x="24.7" y="116.4" width="12.8" height="12.9" fill="#4e9edf"/>
<rect x="36.9" y="116.4" width="12.8" height="12.9" fill="#4e9de0"/>
<rect x="49.2" y="116.4" width="12.8" height="12.9" fill="#4d9ae1"/>
<rect x="61.4" y="116.4" width="12.8" height="12.9" fill="#4d98e2"/>
<rect x="73.7" y="116.4" width="12.8" height="12.9" fill="#4d98e2"/>
<rect x="85.9" y="116.4" width="12.8" height="12.9" fill="#4d99e1"/>
<rect x="98.2" y="116.4" width="12.8" height="12.9" fill="#4d9ae1"/>
<rect x="110.4" y="116.4" width="12.8" height="12.9" fill="#4fa3dc"/>
<rect x="122.7" y="116.4" width="12.8" height="12.9" fill="#51acd5"/>
<rect x="134.9" y="116.4" width="12.8" height="12.9" fill="#52b3cb"/>
<rect x="147.1" y="116.4" width="12.8" height="12.9" fill="#52b3ca"/>
<rect x="159.4" y="116.4" width="12.8" height="12.9" fill="#52b3ca"/>
<rect x="171.6" y="116.4" width="12.8" height="12.9" fill="#52b2cd"/>
<rect x="183.9" y="116.4" width="12.8" height="12.9" fill="#51add4"/>
<rect x="196.1" y="116.4" width="12.8" height="12.9" fill="#50a8da"/>
<rect x="208.4" y="116.4" width="12.8" height="12.9" fill="#4fa4dc"/>
<rect x="220.6" y="116.4" width="12.8" height="12.9" fill="#4fa2dd"/>
<rect x="232.9" y="116.4" width="12.8" height="12.9" fill="#4ea0de"/>
<rect x="245.1" y="116.4" width="12.8" height="12.9" fill="#50a5dc"/>
<rect x="257.4" y="116.4" width="12.8" height="12.9" fill="#51acd5"/>
<rect x="269.6" y="116.4" width="12.8" height="12.9" fill="#52b3cc"/>
<rect x="281.9" y="116.4" width="12.8" height="12.9" fill="#52b2cd"/>
<rect x="294.1" y="116.4" width="12.8" height="12.9" fill="#51b0d0"/>
<rect x="306.4" y="116.4" width="12.8" height="12.9" fill="#51aed3"/>
<rect x="318.6" y="116.4" width="12.8" height="12.9" fill="#50a9d8"/>
<rect x="330.9" y="116.4" width="12.8" height="12.9" fill="#4fa3dc"/>
<rect x="343.1" y="116.4" width="12.8" height="12.9" fill="#4fa2dd"/>
<rect x="355.4" y="116.4" width="12.8" height="12.9" fill="#51aad8"/>
<rect x="367.6" y="116.4" width="12.8" height="12.9" fill="#51b1cf"/>
<rect x="379.9" y="116.4" width="12.8" height="12.9" fill="#52b3ca"/>
<rect x="24.7" y="128.7" width="12.8" height="12.9" fill="#4a8ceb"/>
<rect x="36.9" y="128.7" width="12.8" height="12.9" fill="#4a8aec"/>
<rect x="49.2" y="128.7" width="12.8" height="12.9" fill="#4987ee"/>
<rect x="61.4" y="128.7" width="12.8" height="12.9" fill="#4883f0"/>
<rect x="73.7" y="128.7" width="12.8" height="12.9" fill="#4883f0"/>
<rect x="85.9" y="128.7" width="12.8" height="12.9" fill="#4884ef"/>
<rect x="98.2" y="128.7" width="12.8" height="12.9" fill="#4886ef"/>
<rect x="110.4" y="128.7" width="12.8" height="12.9" fill="#4a8cea"/>
<rect x="122.7" y="128.7" width="12.8" height="12.9" fill="#4b93e5"/>
<rect x="134.9" y="128.7" width="12.8" height="12.9" fill="#4d99e1"/>
<rect x="147.1" y="128.7" width="12.8" height="12.9" fill="#4d9ae1"/>
<rect x="159.4" y="128.7" width="12.8" height="12.9" fill="#4d9be1"/>
<rect x="171.6" y="128.7" width="12.8" height="12.9" fill="#4d98e2"/>
<rect x="183.9" y="128.7" width="12.8" height="12.9" fill="#4b8fe8"/>
<rect x="196.1" y="128.7" width="12.8" height="12.9" fill="#4886ef"/>
<rect x="208.4" y="128.7" width="12.8" height="12.9" fill="#4780f2"/>
<rect x="220.6" y="128.7" width="12.8" height="12.9" fill="#477ef2"/>
<rect x="232.9" y="128.7" width="12.8" height="12.9" fill="#467df3"/>
<rect x="245.1" y="128.7" width="12.8" height="12.9" fill="#4884f0"/>
<rect x="257.4" y="128.7" width="12.8" height="12.9" fill="#4b8ee9"/>
<rect x="269.6" y="128.7" width="12.8" height="12.9" fill="#4c98e2"/>
<rect x="281.9" y="128.7" width="12.8" height="12.9" fill="#4b94e5"/>
<rect x="294.1" y="128.7" width="12.8" height="12.9" fill="#4b8ee9"/>
<rect x="306.4" y="128.7" width="12.8" height="12.9" fill="#4988ed"/>
<rect x="318.6" y="128.7" width="12.8" height="12.9" fill="#4885ef"/>
<rect x="330.9" y="128.7" width="12.8" height="12.9" fill="#4782f1"/>
<rect x="343.1" y="128.7" width="12.8" height="12.9" fill="#4783f0"/>
<rect x="355.4" y="128.7" width="12.8" height="12.9" fill="#4b8fe8"/>
<rect x="367.6" y="128.7" width="12.8" height="12.9" fill="#4d9ae1"/>
<rect x="379.9" y="128.7" width="12.8" height="12.9" fill="#4ea0de"/>
<rect x="24.7" y="141" width="12.8" height="12.9" fill="#4a8de9"/>
<rect x="36.9" y="141" width="12.8" height="12.9" fill="#4a8beb"/>
<rect x="49.2" y="141" width="12.8" height="12.9" fill="#4988ed"/>
<rect x="61.4" y="141" width="12.8" height="12.9" fill="#4884f0"/>
<rect x="73.7" y="141" width="12.8" height="12.9" fill="#4884f0"/>
<rect x="85.9" y="141" width="12.8" height="12.9" fill="#4885ef"/>
<rect x="98.2" y="141" width="12.8" height="12.9" fill="#4986ee"/>
<rect x="110.4" y="141" width="12.8" height="12.9" fill="#4a8beb"/>
<rect x="122.7" y="141" width="12.8" height="12.9" fill="#4b8fe8"/>
<rect x="134.9" y="141" width="12.8" height="12.9" fill="#4b93e5"/>
<rect x="147.1" y="141" width="12.8" height="12.9" fill="#4c95e4"/>
<rect x="159.4" y="141" width="12.8" height="12.9" fill="#4c97e3"/>
<rect x="171.6" y="141" width="12.8" height="12.9" fill="#4c94e4"/>
<rect x="183.9" y="141" width="12.8" height="12.9" fill="#4988ed"/>
<rect x="196.1" y="141" width="12.8" height="12.9" fill="#467cf3"/>
<rect x="208.4" y="141" width="12.8" height="12.9" fill="#4875f5"/>
<rect x="220.6" y="141" width="12.8" height="12.9" fill="#4776f5"/>
<rect x="232.9" y="141" width="12.8" height="12.9" fill="#4776f5"/>
<rect x="245.1" y="141" width="12.8" height="12.9" fill="#467df3"/>
<rect x="257.4" y="141" width="12.8" height="12.9" fill="#4987ee"/>
<rect x="269.6" y="141" width="12.8" height="12.9" fill="#4b8fe8"/>
<rect x="281.9" y="141" width="12.8" height="12.9" fill="#4a8beb"/>
<rect x="294.1" y="141" width="12.8" height="12.9" fill="#4885ef"/>
<rect x="306.4" y="141" width="12.8" height="12.9" fill="#477ff2"/>
<rect x="318.6" y="141" width="12.8" height="12.9" fill="#467df3"/>
<rect x="330.9" y="141" width="12.8" height="12.9" fill="#467af4"/>
<rect x="343.1" y="141" width="12.8" height="12.9" fill="#467df3"/>
<rect x="355.4" y="141" width="12.8" height="12.9" fill="#4a8beb"/>
<rect x="367.6" y="141" width="12.8" height="12.9" fill="#4c98e2"/>
<rect x="379.9" y="141" width="12.8" height="12.9" fill="#4e9edf"/>
<rect x="24.7" y="153.3" width="12.8" height="12.9" fill="#4fa4dc"/>
<rect x="36.9" y="153.3" width="12.8" height="12.9" fill="#4fa3dd"/>
<rect x="49.2" y="153.3" width="12.8" height="12.9" fill="#4fa1de"/>
<rect x="61.4" y="153.3" width="12.8" height="12.9" fill="#4e9edf"/>
<rect x="73.7" y="153.3" width="12.8" height="12.9" fill="#4e9fdf"/>
<rect x="85.9" y="153.3" width="12.8" height="12.9" fill="#4fa0de"/>
<rect x="98.2" y="153.3" width="12.8" height="12.9" fill="#4fa1de"/>
<rect x="110.4" y="153.3" width="12.8" height="12.9" fill="#4fa3dd"/>
<rect x="122.7" y="153.3" width="12.8" height="12.9" fill="#50a5dc"/>
<rect x="134.9" y="153.3" width="12.8" height="12.9" fill="#50a7da"/>
<rect x="147.1" y="153.3" width="12.8" height="12.9" fill="#50a9d9"/>
<rect x="159.4" y="153.3" width="12.8" height="12.9" fill="#51abd7"/>
<rect x="171.6" y="153.3" width="12.8" height="12.9" fill="#50a8d9"/>
<rect x="183.9" y="153.3" width="12.8" height="12.9" fill="#4e9ce0"/>
<rect x="196.1" y="153.3" width="12.8" height="12.9" fill="#4b90e8"/>
<rect x="208.4" y="153.3" width="12.8" height="12.9" fill="#4a8aec"/>
<rect x="220.6" y="153.3" width="12.8" height="12.9" fill="#4a8cea"/>
<rect x="232.9" y="153.3" width="12.8" height="12.9" fill="#4b8fe8"/>
<rect x="245.1" y="153.3" width="12.8" height="12.9" fill="#4b94e5"/>
<rect x="257.4" y="153.3" width="12.8" height="12.9" fill="#4d99e1"/>
<rect x="269.6" y="153.3" width="12.8" height="12.9" fill="#4e9fdf"/>
<rect x="281.9" y="153.3" width="12.8" height="12.9" fill="#4e9ce0"/>
<rect x="294.1" y="153.3" width="12.8" height="12.9" fill="#4d99e1"/>
<rect x="306.4" y="153.3" width="12.8" height="12.9" fill="#4c96e4"/>
<rect x="318.6" y="153.3" width="12.8" height="12.9" fill="#4c94e5"/>
<rect x="330.9" y="153.3" width="12.8" height="12.9" fill="#4b92e6"/>
<rect x="343.1" y="153.3" width="12.8" height="12.9" fill="#4c95e4"/>
<rect x="355.4" y="153.3" width="12.8" height="12.9" fill="#4fa0de"/>
<rect x="367.6" y="153.3" width="12.8" height="12.9" fill="#51abd7"/>
<rect x="379.9" y="153.3" width="12.8" height="12.9" fill="#51afd1"/>
<rect x="24.7" y="165.5" width="12.8" height="12.9" fill="#58bcb8"/>
<rect x="36.9" y="165.5" width="12.8" height="12.9" fill="#58bcb7"/>
<rect x="49.2" y="165.5" width="12.8" height="12.9" fill="#59bcb6"/>
<rect x="61.4" y="165.5" width="12.8" height="12.9" fill="#59bcb5"/>
<rect x="73.7" y="165.5" width="12.8" height="12.9" fill="#5abdb3"/>
<rect x="85.9" y="165.5" width="12.8" height="12.9" fill="#5cbeb0"/>
<rect x="98.2" y="165.5" width="12.8" height="12.9" fill="#5ebfad"/>
<rect x="110.4" y="165.5" width="12.8" height="12.9" fill="#5dbeaf"/>
<rect x="122.7" y="165.5" width="12.8" height="12.9" fill="#5bbeb1"/>
<rect x="134.9" y="165.5" width="12.8" height="12.9" fill="#5abdb3"/>
<rect x="147.1" y="165.5" width="12.8" height="12.9" fill="#5cbeb0"/>
<rect x="159.4" y="165.5" width="12.8" height="12.9" fill="#5ebfae"/>
<rect x="171.6" y="165.5" width="12.8" height="12.9" fill="#5cbeb1"/>
<rect x="183.9" y="165.5" width="12.8" height="12.9" fill="#54b8c1"/>
<rect x="196.1" y="165.5" width="12.8" height="12.9" fill="#51afd1"/>
<rect x="208.4" y="165.5" width="12.8" height="12.9" fill="#51acd6"/>
<rect x="220.6" y="165.5" width="12.8" height="12.9" fill="#51aed2"/>
<rect x="232.9" y="165.5" width="12.8" height="12.9" fill="#51b0cf"/>
<rect x="245.1" y="165.5" width="12.8" height="12.9" fill="#52b2cc"/>
<rect x="257.4" y="165.5" width="12.8" height="12.9" fill="#52b4c9"/>
<rect x="269.6" y="165.5" width="12.8" height="12.9" fill="#52b5c6"/>
<rect x="281.9" y="165.5" width="12.8" height="12.9" fill="#52b5c6"/>
<rect x="294.1" y="165.5" width="12.8" height="12.9" fill="#52b5c7"/>
<rect x="306.4" y="165.5" width="12.8" height="12.9" fill="#52b5c7"/>
<rect x="318.6" y="165.5" width="12.8" height="12.9" fill="#52b5c7"/>
<rect x="330.9" y="165.5" width="12.8" height="12.9" fill="#52b5c7"/>
<rect x="343.1" y="165.5" width="12.8" height="12.9" fill="#53b6c5"/>
<rect x="355.4" y="165.5" width="12.8" height="12.9" fill="#56babb"/>
<rect x="367.6" y="165.5" width="12.8" height="12.9" fill="#5cbeb0"/>
<rect x="379.9" y="165.5" width="12.8" height="12.9" fill="#5fc0ab"/>
<rect x="24.7" y="177.8" width="12.8" height="12.9" fill="#64c3a1"/>
<rect x="36.9" y="177.8" width="12.8" height="12.9" fill="#65c49e"/>
<rect x="49.2" y="177.8" width="12.8" height="12.9" fill="#67c59a"/>
<rect x="61.4" y="177.8" width="12.8" height="12.9" fill="#69c794"/>
<rect x="73.7" y="177.8" width="12.8" height="12.9" fill="#6dc88f"/>
<rect x="85.9" y="177.8" width="12.8" height="12.9" fill="#72c989"/>
<rect x="98.2" y="177.8" width="12.8" height="12.9" fill="#77ca82"/>
<rect x="110.4" y="177.8" width="12.8" height="12.9" fill="#78ca81"/>
<rect x="122.7" y="177.8" width="12.8" height="12.9" fill="#79ca80"/>
<rect x="134.9" y="177.8" width="12.8" height="12.9" fill="#7aca7f"/>
<rect x="147.1" y="177.8" width="12.8" height="12.9" fill="#79ca80"/>
<rect x="159.4" y="177.8" width="12.8" height="12.9" fill="#78ca81"/>
<rect x="171.6" y="177.8" width="12.8" height="12.9" fill="#72c988"/>
<rect x="183.9" y="177.8" width="12.8" height="12.9" fill="#65c59c"/>
<rect x="196.1" y="177.8" width="12.8" height="12.9" fill="#5dbfae"/>
<rect x="208.4" y="177.8" width="12.8" height="12.9" fill="#5bbdb2"/>
<rect x="220.6" y="177.8" width="12.8" height="12.9" fill="#5fc0ab"/>
<rect x="232.9" y="177.8" width="12.8" height="12.9" fill="#62c2a4"/>
<rect x="245.1" y="177.8" width="12.8" height="12.9" fill="#66c59b"/>
<rect x="257.4" y="177.8" width="12.8" height="12.9" fill="#6cc791"/>
<rect x="269.6" y="177.8" width="12.8" height="12.9" fill="#74c986"/>
<rect x="281.9" y="177.8" width="12.8" height="12.9" fill="#73c987"/>
<rect x="294.1" y="177.8" width="12.8" height="12.9" fill="#71c989"/>
<rect x="306.4" y="177.8" width="12.8" height="12.9" fill="#6fc88c"/>
<rect x="318.6" y="177.8" width="12.8" height="12.9" fill="#69c795"/>
<rect x="330.9" y="177.8" width="12.8" height="12.9" fill="#66c59c"/>
<rect x="343.1" y="177.8" width="12.8" height="12.9" fill="#64c49f"/>
<rect x="355.4" y="177.8" width="12.8" height="12.9" fill="#68c696"/>
<rect x="367.6" y="177.8" width="12.8" height="12.9" fill="#6ec88d"/>
<rect x="379.9" y="177.8" width="12.8" height="12.9" fill="#72c989"/>
<rect x="24.7" y="190.1" width="12.8" height="12.9" fill="#68c696"/>
<rect x="36.9" y="190.1" width="12.8" height="12.9" fill="#6ac793"/>
<rect x="49.2" y="190.1" width="12.8" height="12.9" fill="#6fc88b"/>
<rect x="61.4" y="190.1" width="12.8" height="12.9" fill="#76c984"/>
<rect x="73.7" y="190.1" width="12.8" height="12.9" fill="#7cca7c"/>
<rect x="85.9" y="190.1" width="12.8" height="12.9" fill="#84ca74"/>
<rect x="98.2" y="190.1" width="12.8" height="12.9" fill="#8cca6c"/>
<rect x="110.4" y="190.1" width="12.8" height="12.9" fill="#91ca68"/>
<rect x="122.7" y="190.1" width="12.8" height="12.9" fill="#96c964"/>
<rect x="134.9" y="190.1" width="12.8" height="12.9" fill="#9ac962"/>
<rect x="147.1" y="190.1" width="12.8" height="12.9" fill="#95ca65"/>
<rect x="159.4" y="190.1" width="12.8" height="12.9" fill="#90ca69"/>
<rect x="171.6" y="190.1" width="12.8" height="12.9" fill="#86ca72"/>
<rect x="183.9" y="190.1" width="12.8" height="12.9" fill="#73c987"/>
<rect x="196.1" y="190.1" width="12.8" height="12.9" fill="#66c59b"/>
<rect x="208.4" y="190.1" width="12.8" height="12.9" fill="#64c49f"/>
<rect x="220.6" y="190.1" width="12.8" height="12.9" fill="#69c695"/>
<rect x="232.9" y="190.1" width="12.8" height="12.9" fill="#70c98a"/>
<rect x="245.1" y="190.1" width="12.8" height="12.9" fill="#7cca7c"/>
<rect x="257.4" y="190.1" width="12.8" height="12.9" fill="#8cca6c"/>
<rect x="269.6" y="190.1" width="12.8" height="12.9" fill="#9fc95e"/>
<rect x="281.9" y="190.1" width="12.8" height="12.9" fill="#9cc95f"/>
<rect x="294.1" y="190.1" width="12.8" height="12.9" fill="#98c963"/>
<rect x="306.4" y="190.1" width="12.8" height="12.9" fill="#92ca68"/>
<rect x="318.6" y="190.1" width="12.8" height="12.9" fill="#83ca75"/>
<rect x="330.9" y="190.1" width="12.8" height="12.9" fill="#76ca83"/>
<rect x="343.1" y="190.1" width="12.8" height="12.9" fill="#71c98a"/>
<rect x="355.4" y="190.1" width="12.8" height="12.9" fill="#77ca82"/>
<rect x="367.6" y="190.1" width="12.8" height="12.9" fill="#7eca7a"/>
<rect x="379.9" y="190.1" width="12.8" height="12.9" fill="#82ca76"/>
</g></g>
<g clip-path="url(#clip2)" filter="url(#soft)">
<rect x="38" y="15.5" width="10.7" height="14.8" rx="1.5" fill="#51a9d8"/>
<rect x="38" y="31.9" width="10.7" height="15.1" rx="1.5" fill="#51afd2"/>
<rect x="38" y="48.7" width="10.7" height="12.7" rx="1.5" fill="#6ac793"/>
<rect x="38" y="63" width="10.7" height="16.2" rx="1.5" fill="#bec34d"/>
<rect x="38" y="80.7" width="10.7" height="13.5" rx="1.5" fill="#c5c24b"/>
<rect x="38" y="95.8" width="10.7" height="14.5" rx="1.5" fill="#67c698"/>
<rect x="38" y="111.9" width="10.7" height="14.5" rx="1.5" fill="#5cbeb1"/>
<rect x="38" y="128" width="10.7" height="13.1" rx="1.5" fill="#51afd2"/>
<rect x="38" y="142.7" width="10.7" height="16.3" rx="1.5" fill="#55b9bd"/>
<rect x="38" y="160.6" width="10.7" height="15.7" rx="1.5" fill="#61c2a6"/>
<rect x="38" y="178" width="10.7" height="12.7" rx="1.5" fill="#98c963"/>
<rect x="50.2" y="9.8" width="10.7" height="13.8" rx="1.5" fill="#4b94e5"/>
<rect x="50.2" y="25.2" width="10.7" height="16.3" rx="1.5" fill="#51b1cf"/>
<rect x="50.2" y="43.1" width="10.7" height="15.6" rx="1.5" fill="#5dbfaf"/>
<rect x="50.2" y="60.3" width="10.7" height="15.6" rx="1.5" fill="#d8be4b"/>
<rect x="50.2" y="77.5" width="10.7" height="14.2" rx="1.5" fill="#aac756"/>
<rect x="50.2" y="93.3" width="10.7" height="14.4" rx="1.5" fill="#86ca72"/>
<rect x="50.2" y="109.3" width="10.7" height="16.4" rx="1.5" fill="#52b2cd"/>
<rect x="50.2" y="127.3" width="10.7" height="13" rx="1.5" fill="#52b3cb"/>
<rect x="50.2" y="141.9" width="10.7" height="16.7" rx="1.5" fill="#51add4"/>
<rect x="50.2" y="160.2" width="10.7" height="15.2" rx="1.5" fill="#66c59a"/>
<rect x="50.2" y="177.1" width="10.7" height="14.7" rx="1.5" fill="#77ca82"/>
<rect x="62.5" y="13.7" width="10.7" height="15" rx="1.5" fill="#51acd5"/>
<rect x="62.5" y="30.3" width="10.7" height="16.5" rx="1.5" fill="#51aed3"/>
<rect x="62.5" y="48.4" width="10.7" height="16.6" rx="1.5" fill="#77ca82"/>
<rect x="62.5" y="66.6" width="10.7" height="16.9" rx="1.5" fill="#b2c652"/>
<rect x="62.5" y="85" width="10.7" height="13.1" rx="1.5" fill="#b4c551"/>
<rect x="62.5" y="99.8" width="10.7" height="16.7" rx="1.5" fill="#60c1a9"/>
<rect x="62.5" y="118.1" width="10.7" height="15" rx="1.5" fill="#55b9be"/>
<rect x="62.5" y="134.7" width="10.7" height="13.4" rx="1.5" fill="#51abd6"/>
<rect x="62.5" y="149.6" width="10.7" height="15" rx="1.5" fill="#53b7c3"/>
<rect x="62.5" y="166.2" width="10.7" height="12.7" rx="1.5" fill="#6cc791"/>
<rect x="62.5" y="180.5" width="10.7" height="16.9" rx="1.5" fill="#9fc85d"/>
<rect x="74.8" y="6.5" width="10.7" height="14.2" rx="1.5" fill="#4e9edf"/>
<rect x="74.8" y="22.3" width="10.7" height="13.7" rx="1.5" fill="#53b7c3"/>
<rect x="74.8" y="37.7" width="10.7" height="16.3" rx="1.5" fill="#52b5c7"/>
<rect x="74.8" y="55.6" width="10.7" height="15.2" rx="1.5" fill="#94ca66"/>
<rect x="74.8" y="72.4" width="10.7" height="15.6" rx="1.5" fill="#a6c859"/>
<rect x="74.8" y="89.6" width="10.7" height="16.4" rx="1.5" fill="#99c962"/>
<rect x="74.8" y="107.5" width="10.7" height="14.7" rx="1.5" fill="#58bcb7"/>
<rect x="74.8" y="123.8" width="10.7" height="13.8" rx="1.5" fill="#51b1ce"/>
<rect x="74.8" y="139.2" width="10.7" height="15.1" rx="1.5" fill="#4fa3dd"/>
<rect x="74.8" y="155.9" width="10.7" height="13.3" rx="1.5" fill="#5ebfac"/>
<rect x="74.8" y="170.8" width="10.7" height="15.1" rx="1.5" fill="#6ec88e"/>
<rect x="74.8" y="187.6" width="10.7" height="12.6" rx="1.5" fill="#c6c24a"/>
<rect x="87" y="14.3" width="10.7" height="16.7" rx="1.5" fill="#57bbba"/>
<rect x="87" y="32.6" width="10.7" height="14.1" rx="1.5" fill="#55b9bf"/>
<rect x="87" y="48.3" width="10.7" height="14.7" rx="1.5" fill="#86ca72"/>
<rect x="87" y="64.6" width="10.7" height="15.1" rx="1.5" fill="#c0c34c"/>
<rect x="87" y="81.3" width="10.7" height="15.2" rx="1.5" fill="#cdc04a"/>
<rect x="87" y="98.1" width="10.7" height="14.7" rx="1.5" fill="#61c1a7"/>
<rect x="87" y="114.4" width="10.7" height="15.6" rx="1.5" fill="#53b7c3"/>
<rect x="87" y="131.6" width="10.7" height="13.8" rx="1.5" fill="#51add4"/>
<rect x="87" y="147" width="10.7" height="14.7" rx="1.5" fill="#54b8c1"/>
<rect x="87" y="163.3" width="10.7" height="12.5" rx="1.5" fill="#63c3a3"/>
<rect x="87" y="177.4" width="10.7" height="15" rx="1.5" fill="#9fc85d"/>
<rect x="99.2" y="9.4" width="10.7" height="15.2" rx="1.5" fill="#51aed3"/>
<rect x="99.2" y="26.3" width="10.7" height="15.2" rx="1.5" fill="#60c1a8"/>
<rect x="99.2" y="43.1" width="10.7" height="15.5" rx="1.5" fill="#68c697"/>
<rect x="99.2" y="60.2" width="10.7" height="15.6" rx="1.5" fill="#e3bc4f"/>
<rect x="99.2" y="77.4" width="10.7" height="12.5" rx="1.5" fill="#a6c859"/>
<rect x="99.2" y="91.5" width="10.7" height="15.4" rx="1.5" fill="#99c962"/>
<rect x="99.2" y="108.5" width="10.7" height="13.5" rx="1.5" fill="#55b9bf"/>
<rect x="99.2" y="123.6" width="10.7" height="15.1" rx="1.5" fill="#52b5c8"/>
<rect x="99.2" y="140.3" width="10.7" height="14" rx="1.5" fill="#50a9d8"/>
<rect x="99.2" y="155.9" width="10.7" height="14.1" rx="1.5" fill="#63c3a3"/>
<rect x="99.2" y="171.6" width="10.7" height="13.8" rx="1.5" fill="#7bca7e"/>
<rect x="99.2" y="186.9" width="10.7" height="15.9" rx="1.5" fill="#bec34d"/>
<rect x="111.5" y="10.2" width="10.7" height="15.7" rx="1.5" fill="#5dbeaf"/>
<rect x="111.5" y="27.5" width="10.7" height="13.4" rx="1.5" fill="#61c1a7"/>
<rect x="111.5" y="42.5" width="10.7" height="13.5" rx="1.5" fill="#91ca68"/>
<rect x="111.5" y="57.6" width="10.7" height="14.4" rx="1.5" fill="#d4bf4a"/>
<rect x="111.5" y="73.5" width="10.7" height="12.9" rx="1.5" fill="#ecbc55"/>
<rect x="111.5" y="88" width="10.7" height="13.9" rx="1.5" fill="#acc755"/>
<rect x="111.5" y="103.5" width="10.7" height="14.4" rx="1.5" fill="#7cca7c"/>
<rect x="111.5" y="119.5" width="10.7" height="13.2" rx="1.5" fill="#52b3cb"/>
<rect x="111.5" y="134.2" width="10.7" height="15.3" rx="1.5" fill="#56babc"/>
<rect x="111.5" y="151.2" width="10.7" height="14.4" rx="1.5" fill="#52b2cc"/>
<rect x="111.5" y="167.2" width="10.7" height="12.9" rx="1.5" fill="#86ca71"/>
<rect x="111.5" y="181.7" width="10.7" height="13.3" rx="1.5" fill="#b2c652"/>
<rect x="123.8" y="5.9" width="10.7" height="13.2" rx="1.5" fill="#59bcb5"/>
<rect x="123.8" y="20.7" width="10.7" height="16" rx="1.5" fill="#71c98a"/>
<rect x="123.8" y="38.3" width="10.7" height="16" rx="1.5" fill="#8bca6d"/>
<rect x="123.8" y="56" width="10.7" height="13" rx="1.5" fill="#f4c157"/>
<rect x="123.8" y="70.6" width="10.7" height="16" rx="1.5" fill="#f0bd57"/>
<rect x="123.8" y="88.1" width="10.7" height="14" rx="1.5" fill="#ddbd4c"/>
<rect x="123.8" y="103.7" width="10.7" height="14.3" rx="1.5" fill="#71c98a"/>
<rect x="123.8" y="119.6" width="10.7" height="16.5" rx="1.5" fill="#5bbdb3"/>
<rect x="123.8" y="137.7" width="10.7" height="12.4" rx="1.5" fill="#52b5c7"/>
<rect x="123.8" y="151.7" width="10.7" height="16.4" rx="1.5" fill="#63c3a2"/>
<rect x="123.8" y="169.7" width="10.7" height="14.4" rx="1.5" fill="#81ca77"/>
<rect x="123.8" y="185.7" width="10.7" height="16.6" rx="1.5" fill="#cdc04a"/>
<rect x="136" y="7.4" width="10.7" height="16.2" rx="1.5" fill="#73c987"/>
<rect x="136" y="25.1" width="10.7" height="14.7" rx="1.5" fill="#69c695"/>
<rect x="136" y="41.5" width="10.7" height="13.9" rx="1.5" fill="#d4bf4a"/>
<rect x="136" y="57" width="10.7" height="12.7" rx="1.5" fill="#f5cf54"/>
<rect x="136" y="71.3" width="10.7" height="13.7" rx="1.5" fill="#f4f055"/>
<rect x="136" y="86.6" width="10.7" height="12.6" rx="1.5" fill="#f0bd57"/>
<rect x="136" y="100.8" width="10.7" height="15.5" rx="1.5" fill="#c6c24a"/>
<rect x="136" y="117.9" width="10.7" height="16.4" rx="1.5" fill="#60c0aa"/>
<rect x="136" y="136" width="10.7" height="15" rx="1.5" fill="#54b8c0"/>
<rect x="136" y="152.6" width="10.7" height="15.8" rx="1.5" fill="#54b7c2"/>
<rect x="136" y="169.9" width="10.7" height="13.7" rx="1.5" fill="#94ca66"/>
<rect x="136" y="185.3" width="10.7" height="14.8" rx="1.5" fill="#b7c54f"/>
<rect x="148.2" y="4.3" width="10.7" height="15.2" rx="1.5" fill="#63c3a2"/>
<rect x="148.2" y="21" width="10.7" height="13.5" rx="1.5" fill="#8cca6d"/>
<rect x="148.2" y="36.2" width="10.7" height="14.5" rx="1.5" fill="#a9c757"/>
<rect x="148.2" y="52.3" width="10.7" height="14" rx="1.5" fill="#f5d054"/>
<rect x="148.2" y="67.9" width="10.7" height="14.8" rx="1.5" fill="#f3e955"/>
<rect x="148.2" y="84.3" width="10.7" height="13.2" rx="1.5" fill="#f5d054"/>
<rect x="148.2" y="99.1" width="10.7" height="16.5" rx="1.5" fill="#a6c858"/>
<rect x="148.2" y="117.2" width="10.7" height="16.1" rx="1.5" fill="#62c2a5"/>
<rect x="148.2" y="134.9" width="10.7" height="15.2" rx="1.5" fill="#54b7c2"/>
<rect x="148.2" y="151.8" width="10.7" height="12.6" rx="1.5" fill="#5cbeb0"/>
<rect x="148.2" y="166" width="10.7" height="13.6" rx="1.5" fill="#6ac793"/>
<rect x="148.2" y="181.2" width="10.7" height="14.3" rx="1.5" fill="#cac14a"/>
<rect x="160.5" y="6.9" width="10.7" height="12.4" rx="1.5" fill="#6fc88c"/>
<rect x="160.5" y="20.9" width="10.7" height="13" rx="1.5" fill="#68c696"/>
<rect x="160.5" y="35.5" width="10.7" height="12.7" rx="1.5" fill="#c9c14a"/>
<rect x="160.5" y="49.8" width="10.7" height="16.2" rx="1.5" fill="#e8bc52"/>
<rect x="160.5" y="67.6" width="10.7" height="14.7" rx="1.5" fill="#f5f055"/>
<rect x="160.5" y="83.9" width="10.7" height="13.8" rx="1.5" fill="#e6bc51"/>
<rect x="160.5" y="99.3" width="10.7" height="15.3" rx="1.5" fill="#bec34d"/>
<rect x="160.5" y="116.2" width="10.7" height="14" rx="1.5" fill="#5bbeb1"/>
<rect x="160.5" y="131.8" width="10.7" height="13.9" rx="1.5" fill="#56babc"/>
<rect x="160.5" y="147.3" width="10.7" height="14.9" rx="1.5" fill="#55b9be"/>
<rect x="160.5" y="163.8" width="10.7" height="14.1" rx="1.5" fill="#72c988"/>
<rect x="160.5" y="179.5" width="10.7" height="13.2" rx="1.5" fill="#99c962"/>
<rect x="172.8" y="9.6" width="10.7" height="15.9" rx="1.5" fill="#65c49e"/>
<rect x="172.8" y="27.2" width="10.7" height="16" rx="1.5" fill="#95ca65"/>
<rect x="172.8" y="44.8" width="10.7" height="14.3" rx="1.5" fill="#c5c24b"/>
<rect x="172.8" y="60.7" width="10.7" height="14.6" rx="1.5" fill="#f2e755"/>
<rect x="172.8" y="76.9" width="10.7" height="14.3" rx="1.5" fill="#f4c257"/>
<rect x="172.8" y="92.8" width="10.7" height="14.5" rx="1.5" fill="#ccc04a"/>
<rect x="172.8" y="108.9" width="10.7" height="14.8" rx="1.5" fill="#6cc890"/>
<rect x="172.8" y="125.3" width="10.7" height="12.7" rx="1.5" fill="#5fc0ac"/>
<rect x="172.8" y="139.6" width="10.7" height="14.3" rx="1.5" fill="#54b8c1"/>
<rect x="172.8" y="155.5" width="10.7" height="16.6" rx="1.5" fill="#65c49d"/>
<rect x="172.8" y="173.8" width="10.7" height="16.4" rx="1.5" fill="#8cca6c"/>
<rect x="185" y="15.1" width="10.7" height="14.5" rx="1.5" fill="#67c699"/>
<rect x="185" y="31.2" width="10.7" height="16.1" rx="1.5" fill="#71c989"/>
<rect x="185" y="48.9" width="10.7" height="16.4" rx="1.5" fill="#d9be4b"/>
<rect x="185" y="66.8" width="10.7" height="15.4" rx="1.5" fill="#e7bc51"/>
<rect x="185" y="83.9" width="10.7" height="14.9" rx="1.5" fill="#d2bf4a"/>
<rect x="185" y="100.4" width="10.7" height="15" rx="1.5" fill="#6fc88c"/>
<rect x="185" y="117" width="10.7" height="13" rx="1.5" fill="#65c49d"/>
<rect x="185" y="131.7" width="10.7" height="12.6" rx="1.5" fill="#50a8d9"/>
<rect x="185" y="145.9" width="10.7" height="12.8" rx="1.5" fill="#56babb"/>
<rect x="185" y="160.3" width="10.7" height="13.2" rx="1.5" fill="#54b8c1"/>
<rect x="185" y="175.1" width="10.7" height="16.2" rx="1.5" fill="#83ca75"/>
<rect x="197.2" y="5.8" width="10.7" height="15.4" rx="1.5" fill="#5bbdb2"/>
<rect x="197.2" y="22.8" width="10.7" height="16.7" rx="1.5" fill="#68c698"/>
<rect x="197.2" y="41.1" width="10.7" height="16" rx="1.5" fill="#67c699"/>
<rect x="197.2" y="58.7" width="10.7" height="15.9" rx="1.5" fill="#c8c14a"/>
<rect x="197.2" y="76.2" width="10.7" height="15.6" rx="1.5" fill="#a5c859"/>
<rect x="197.2" y="93.4" width="10.7" height="15.8" rx="1.5" fill="#acc755"/>
<rect x="197.2" y="110.7" width="10.7" height="12.7" rx="1.5" fill="#5bbdb2"/>
<rect x="197.2" y="125" width="10.7" height="14.9" rx="1.5" fill="#56babc"/>
<rect x="197.2" y="141.6" width="10.7" height="13.5" rx="1.5" fill="#4e9edf"/>
<rect x="197.2" y="156.7" width="10.7" height="13.5" rx="1.5" fill="#56babc"/>
<rect x="197.2" y="171.8" width="10.7" height="15.8" rx="1.5" fill="#61c1a8"/>
<rect x="197.2" y="189.2" width="10.7" height="14.1" rx="1.5" fill="#90ca69"/>
<rect x="209.5" y="13.7" width="10.7" height="14.3" rx="1.5" fill="#5dbfae"/>
<rect x="209.5" y="29.6" width="10.7" height="14.7" rx="1.5" fill="#62c2a3"/>
<rect x="209.5" y="45.8" width="10.7" height="14.3" rx="1.5" fill="#89ca6f"/>
<rect x="209.5" y="61.7" width="10.7" height="13.1" rx="1.5" fill="#a0c85c"/>
<rect x="209.5" y="76.4" width="10.7" height="15.8" rx="1.5" fill="#cac14a"/>
<rect x="209.5" y="93.8" width="10.7" height="14.7" rx="1.5" fill="#75c984"/>
<rect x="209.5" y="110.1" width="10.7" height="15.3" rx="1.5" fill="#67c599"/>
<rect x="209.5" y="127" width="10.7" height="13.1" rx="1.5" fill="#4fa2dd"/>
<rect x="209.5" y="141.7" width="10.7" height="15.8" rx="1.5" fill="#51b0d0"/>
<rect x="209.5" y="159.1" width="10.7" height="14.7" rx="1.5" fill="#51b0d0"/>
<rect x="209.5" y="175.4" width="10.7" height="15.6" rx="1.5" fill="#6cc890"/>
<rect x="221.8" y="15" width="10.7" height="13.3" rx="1.5" fill="#5ebfad"/>
<rect x="221.8" y="29.9" width="10.7" height="13.8" rx="1.5" fill="#6bc792"/>
<rect x="221.8" y="45.3" width="10.7" height="15.5" rx="1.5" fill="#80ca78"/>
<rect x="221.8" y="62.4" width="10.7" height="13.7" rx="1.5" fill="#d2bf4a"/>
<rect x="221.8" y="77.8" width="10.7" height="14.3" rx="1.5" fill="#bac44e"/>
<rect x="221.8" y="93.6" width="10.7" height="15" rx="1.5" fill="#88ca70"/>
<rect x="221.8" y="110.3" width="10.7" height="13.4" rx="1.5" fill="#54b8c0"/>
<rect x="221.8" y="125.2" width="10.7" height="14.6" rx="1.5" fill="#52b2cc"/>
<rect x="221.8" y="141.4" width="10.7" height="13.2" rx="1.5" fill="#4e9de0"/>
<rect x="221.8" y="156.2" width="10.7" height="13.8" rx="1.5" fill="#55b9bd"/>
<rect x="221.8" y="171.6" width="10.7" height="13" rx="1.5" fill="#64c4a0"/>
<rect x="221.8" y="186.3" width="10.7" height="14.6" rx="1.5" fill="#9fc95e"/>
<rect x="234" y="11.8" width="10.7" height="16.2" rx="1.5" fill="#74c986"/>
<rect x="234" y="29.6" width="10.7" height="14.9" rx="1.5" fill="#68c698"/>
<rect x="234" y="46.1" width="10.7" height="15.6" rx="1.5" fill="#acc755"/>
<rect x="234" y="63.3" width="10.7" height="14.2" rx="1.5" fill="#c4c24b"/>
<rect x="234" y="79.1" width="10.7" height="16.7" rx="1.5" fill="#d4bf4a"/>
<rect x="234" y="97.4" width="10.7" height="13.4" rx="1.5" fill="#66c59a"/>
<rect x="234" y="112.5" width="10.7" height="15.6" rx="1.5" fill="#5ec0ac"/>
<rect x="234" y="129.7" width="10.7" height="16.7" rx="1.5" fill="#4fa3dd"/>
<rect x="234" y="148" width="10.7" height="13.5" rx="1.5" fill="#51aad7"/>
<rect x="234" y="163.1" width="10.7" height="13.6" rx="1.5" fill="#53b6c5"/>
<rect x="234" y="178.3" width="10.7" height="15.6" rx="1.5" fill="#9dc95f"/>
<rect x="246.2" y="4.9" width="10.7" height="13.5" rx="1.5" fill="#67c698"/>
<rect x="246.2" y="20.1" width="10.7" height="13.8" rx="1.5" fill="#78ca82"/>
<rect x="246.2" y="35.5" width="10.7" height="15.7" rx="1.5" fill="#70c88b"/>
<rect x="246.2" y="52.7" width="10.7" height="12.8" rx="1.5" fill="#d1bf4a"/>
<rect x="246.2" y="67.2" width="10.7" height="13.7" rx="1.5" fill="#c9c14a"/>
<rect x="246.2" y="82.5" width="10.7" height="15" rx="1.5" fill="#d6be4a"/>
<rect x="246.2" y="99.1" width="10.7" height="12.4" rx="1.5" fill="#69c696"/>
<rect x="246.2" y="113.1" width="10.7" height="14.4" rx="1.5" fill="#60c1a9"/>
<rect x="246.2" y="129.1" width="10.7" height="13.3" rx="1.5" fill="#50a9d9"/>
<rect x="246.2" y="144" width="10.7" height="16.7" rx="1.5" fill="#51b0cf"/>
<rect x="246.2" y="162.3" width="10.7" height="14.8" rx="1.5" fill="#53b7c3"/>
<rect x="246.2" y="178.8" width="10.7" height="13.6" rx="1.5" fill="#a2c85b"/>
<rect x="258.5" y="17.5" width="10.7" height="16.4" rx="1.5" fill="#8aca6e"/>
<rect x="258.5" y="35.5" width="10.7" height="12.8" rx="1.5" fill="#8dca6c"/>
<rect x="258.5" y="49.9" width="10.7" height="14.1" rx="1.5" fill="#dbbd4b"/>
<rect x="258.5" y="65.6" width="10.7" height="15.8" rx="1.5" fill="#dcbd4c"/>
<rect x="258.5" y="83" width="10.7" height="15.4" rx="1.5" fill="#dbbd4b"/>
<rect x="258.5" y="100.1" width="10.7" height="16" rx="1.5" fill="#69c795"/>
<rect x="258.5" y="117.7" width="10.7" height="15.8" rx="1.5" fill="#64c49f"/>
<rect x="258.5" y="135.1" width="10.7" height="15.4" rx="1.5" fill="#51acd5"/>
<rect x="258.5" y="152.1" width="10.7" height="12.9" rx="1.5" fill="#55b9bf"/>
<rect x="258.5" y="166.6" width="10.7" height="14" rx="1.5" fill="#60c0a9"/>
<rect x="258.5" y="182.2" width="10.7" height="15.5" rx="1.5" fill="#cbc04a"/>
<rect x="270.8" y="16.4" width="10.7" height="15.3" rx="1.5" fill="#6ec88d"/>
<rect x="270.8" y="33.3" width="10.7" height="13.2" rx="1.5" fill="#b1c652"/>
<rect x="270.8" y="48.1" width="10.7" height="15.3" rx="1.5" fill="#c1c34c"/>
<rect x="270.8" y="65" width="10.7" height="16.6" rx="1.5" fill="#f5d054"/>
<rect x="270.8" y="83.2" width="10.7" height="13.9" rx="1.5" fill="#cfc049"/>
<rect x="270.8" y="98.7" width="10.7" height="15.1" rx="1.5" fill="#9ac961"/>
<rect x="270.8" y="115.4" width="10.7" height="15.3" rx="1.5" fill="#5ebfad"/>
<rect x="270.8" y="132.3" width="10.7" height="13.8" rx="1.5" fill="#54b8c0"/>
<rect x="270.8" y="147.7" width="10.7" height="12.7" rx="1.5" fill="#52b3cb"/>
<rect x="270.8" y="162.1" width="10.7" height="15.8" rx="1.5" fill="#65c49e"/>
<rect x="270.8" y="179.4" width="10.7" height="15.7" rx="1.5" fill="#a2c85b"/>
<rect x="283" y="15" width="10.7" height="14.1" rx="1.5" fill="#86ca72"/>
<rect x="283" y="30.8" width="10.7" height="12.6" rx="1.5" fill="#7aca7e"/>
<rect x="283" y="45" width="10.7" height="13.5" rx="1.5" fill="#ebbc54"/>
<rect x="283" y="60.1" width="10.7" height="14" rx="1.5" fill="#f3da54"/>
<rect x="283" y="75.7" width="10.7" height="14.2" rx="1.5" fill="#f4d754"/>
<rect x="283" y="91.5" width="10.7" height="15.9" rx="1.5" fill="#9bc961"/>
<rect x="283" y="109" width="10.7" height="16.2" rx="1.5" fill="#6dc88f"/>
<rect x="283" y="126.8" width="10.7" height="13.6" rx="1.5" fill="#51b1ce"/>
<rect x="283" y="142" width="10.7" height="12.9" rx="1.5" fill="#56babb"/>
<rect x="283" y="156.5" width="10.7" height="15.7" rx="1.5" fill="#52b5c7"/>
<rect x="283" y="173.8" width="10.7" height="13.3" rx="1.5" fill="#8eca6b"/>
<rect x="283" y="188.6" width="10.7" height="15.7" rx="1.5" fill="#c7c14a"/>
<rect x="295.2" y="7.3" width="10.7" height="15.1" rx="1.5" fill="#61c1a7"/>
<rect x="295.2" y="24" width="10.7" height="14.2" rx="1.5" fill="#7cca7c"/>
<rect x="295.2" y="39.8" width="10.7" height="14.8" rx="1.5" fill="#adc654"/>
<rect x="295.2" y="56.2" width="10.7" height="13.3" rx="1.5" fill="#f4d754"/>
<rect x="295.2" y="71.1" width="10.7" height="15.9" rx="1.5" fill="#f5c456"/>
<rect x="295.2" y="88.6" width="10.7" height="16" rx="1.5" fill="#ddbd4c"/>
<rect x="295.2" y="106.2" width="10.7" height="16.7" rx="1.5" fill="#66c59b"/>
<rect x="295.2" y="124.5" width="10.7" height="14.9" rx="1.5" fill="#5abdb4"/>
<rect x="295.2" y="141" width="10.7" height="15.3" rx="1.5" fill="#51b0d0"/>
<rect x="295.2" y="157.8" width="10.7" height="15.5" rx="1.5" fill="#5bbeb1"/>
<rect x="295.2" y="174.9" width="10.7" height="16.3" rx="1.5" fill="#82ca75"/>
<rect x="307.5" y="9.7" width="10.7" height="15.7" rx="1.5" fill="#67c699"/>
<rect x="307.5" y="26.9" width="10.7" height="15.9" rx="1.5" fill="#71c98a"/>
<rect x="307.5" y="44.4" width="10.7" height="14.6" rx="1.5" fill="#d9be4b"/>
<rect x="307.5" y="60.6" width="10.7" height="14.5" rx="1.5" fill="#f3bf57"/>
<rect x="307.5" y="76.7" width="10.7" height="14.8" rx="1.5" fill="#f4c057"/>
<rect x="307.5" y="93.1" width="10.7" height="14.7" rx="1.5" fill="#a1c85c"/>
<rect x="307.5" y="109.3" width="10.7" height="14.4" rx="1.5" fill="#73c987"/>
<rect x="307.5" y="125.3" width="10.7" height="16.7" rx="1.5" fill="#52b2cc"/>
<rect x="307.5" y="143.7" width="10.7" height="13" rx="1.5" fill="#52b5c7"/>
<rect x="307.5" y="158.3" width="10.7" height="15.2" rx="1.5" fill="#52b3ca"/>
<rect x="307.5" y="175.1" width="10.7" height="14" rx="1.5" fill="#90ca69"/>
<rect x="307.5" y="190.7" width="10.7" height="12.8" rx="1.5" fill="#b4c551"/>
<rect x="319.8" y="4.4" width="10.7" height="13.9" rx="1.5" fill="#64c49f"/>
<rect x="319.8" y="19.9" width="10.7" height="15.5" rx="1.5" fill="#6ec88e"/>
<rect x="319.8" y="37" width="10.7" height="16.3" rx="1.5" fill="#89ca6f"/>
<rect x="319.8" y="54.9" width="10.7" height="16.6" rx="1.5" fill="#f1be57"/>
<rect x="319.8" y="73" width="10.7" height="15.7" rx="1.5" fill="#dabe4b"/>
<rect x="319.8" y="90.4" width="10.7" height="16" rx="1.5" fill="#c8c14a"/>
<rect x="319.8" y="108" width="10.7" height="16.3" rx="1.5" fill="#60c0aa"/>
<rect x="319.8" y="125.9" width="10.7" height="15.8" rx="1.5" fill="#53b6c5"/>
<rect x="319.8" y="143.3" width="10.7" height="12.9" rx="1.5" fill="#4e9edf"/>
<rect x="319.8" y="157.8" width="10.7" height="12.8" rx="1.5" fill="#56babb"/>
<rect x="319.8" y="172.1" width="10.7" height="13.1" rx="1.5" fill="#69c695"/>
<rect x="319.8" y="186.8" width="10.7" height="15.5" rx="1.5" fill="#c4c24b"/>
<rect x="332" y="12.5" width="10.7" height="15.3" rx="1.5" fill="#68c697"/>
<rect x="332" y="29.5" width="10.7" height="14.5" rx="1.5" fill="#6bc792"/>
<rect x="332" y="45.6" width="10.7" height="14.2" rx="1.5" fill="#a6c859"/>
<rect x="332" y="61.4" width="10.7" height="16.4" rx="1.5" fill="#dfbd4d"/>
<rect x="332" y="79.4" width="10.7" height="14.1" rx="1.5" fill="#dfbd4d"/>
<rect x="332" y="95.1" width="10.7" height="14.8" rx="1.5" fill="#7eca7a"/>
<rect x="332" y="111.4" width="10.7" height="13.4" rx="1.5" fill="#5ebfad"/>
<rect x="332" y="126.5" width="10.7" height="13.3" rx="1.5" fill="#51add4"/>
<rect x="332" y="141.4" width="10.7" height="13" rx="1.5" fill="#51aed2"/>
<rect x="332" y="156" width="10.7" height="13.3" rx="1.5" fill="#51aed3"/>
<rect x="332" y="170.9" width="10.7" height="13.2" rx="1.5" fill="#73c987"/>
<rect x="332" y="185.7" width="10.7" height="13.2" rx="1.5" fill="#84ca74"/>
<rect x="344.2" y="17.5" width="10.7" height="13.2" rx="1.5" fill="#61c1a7"/>
<rect x="344.2" y="32.3" width="10.7" height="12.7" rx="1.5" fill="#70c98b"/>
<rect x="344.2" y="46.6" width="10.7" height="14.4" rx="1.5" fill="#86ca72"/>
<rect x="344.2" y="62.6" width="10.7" height="15.6" rx="1.5" fill="#e0bd4d"/>
<rect x="344.2" y="79.7" width="10.7" height="14.2" rx="1.5" fill="#bac44e"/>
<rect x="344.2" y="95.6" width="10.7" height="12.5" rx="1.5" fill="#a5c859"/>
<rect x="344.2" y="109.7" width="10.7" height="13.4" rx="1.5" fill="#56babc"/>
<rect x="344.2" y="124.7" width="10.7" height="14.5" rx="1.5" fill="#52b3cb"/>
<rect x="344.2" y="140.8" width="10.7" height="15.2" rx="1.5" fill="#4fa2dd"/>
<rect x="344.2" y="157.6" width="10.7" height="13" rx="1.5" fill="#55babd"/>
<rect x="344.2" y="172.2" width="10.7" height="15.7" rx="1.5" fill="#67c59a"/>
<rect x="344.2" y="189.4" width="10.7" height="15.9" rx="1.5" fill="#a9c757"/>
<rect x="356.5" y="4.4" width="10.7" height="13.8" rx="1.5" fill="#68c698"/>
<rect x="356.5" y="19.7" width="10.7" height="13.6" rx="1.5" fill="#66c59b"/>
<rect x="356.5" y="34.9" width="10.7" height="15.2" rx="1.5" fill="#87ca71"/>
<rect x="356.5" y="51.8" width="10.7" height="12.8" rx="1.5" fill="#afc653"/>
<rect x="356.5" y="66.2" width="10.7" height="16.8" rx="1.5" fill="#f2bf57"/>
<rect x="356.5" y="84.5" width="10.7" height="12.4" rx="1.5" fill="#a4c85a"/>
<rect x="356.5" y="98.6" width="10.7" height="12.8" rx="1.5" fill="#86ca71"/>
<rect x="356.5" y="113" width="10.7" height="12.6" rx="1.5" fill="#56babb"/>
<rect x="356.5" y="127.1" width="10.7" height="15.3" rx="1.5" fill="#59bdb5"/>
<rect x="356.5" y="144.1" width="10.7" height="13.3" rx="1.5" fill="#52b4c9"/>
<rect x="356.5" y="159" width="10.7" height="14.5" rx="1.5" fill="#68c698"/>
<rect x="356.5" y="175.1" width="10.7" height="16.5" rx="1.5" fill="#86ca72"/>
<rect x="368.8" y="18.8" width="10.7" height="13.8" rx="1.5" fill="#65c49e"/>
<rect x="368.8" y="34.1" width="10.7" height="16.7" rx="1.5" fill="#86ca72"/>
<rect x="368.8" y="52.4" width="10.7" height="13.7" rx="1.5" fill="#c6c14a"/>
<rect x="368.8" y="67.7" width="10.7" height="12.9" rx="1.5" fill="#f4c257"/>
<rect x="368.8" y="82.2" width="10.7" height="13.9" rx="1.5" fill="#c7c14a"/>
<rect x="368.8" y="97.7" width="10.7" height="16.6" rx="1.5" fill="#8bca6d"/>
<rect x="368.8" y="115.9" width="10.7" height="15.7" rx="1.5" fill="#5ebfac"/>
<rect x="368.8" y="133.2" width="10.7" height="16.2" rx="1.5" fill="#5bbdb2"/>
<rect x="368.8" y="151" width="10.7" height="16.6" rx="1.5" fill="#56babb"/>
<rect x="368.8" y="169.1" width="10.7" height="14.3" rx="1.5" fill="#82ca76"/>
<rect x="368.8" y="185" width="10.7" height="15.9" rx="1.5" fill="#9bc960"/>
</g>
<g font-family="'Liberation Sans', sans-serif" font-size="8" fill="#303030">
<text x="208.7" y="14.6" text-anchor="middle" font-size="8.6">CRG road UVZ map (in uncurved UV grid)</text>
<text x="38" y="201.2" text-anchor="middle">15</text>
<text x="72.3" y="201.2" text-anchor="middle">15.5</text>
<text x="106.6" y="201.2" text-anchor="middle">16</text>
<text x="140.9" y="201.2" text-anchor="middle">16.5</text>
<text x="175.2" y="201.2" text-anchor="middle">17</text>
<text x="209.5" y="201.2" text-anchor="middle">17.5</text>
<text x="243.8" y="201.2" text-anchor="middle">18</text>
<text x="278.1" y="201.2" text-anchor="middle">18.5</text>
<text x="312.4" y="201.2" text-anchor="middle">19</text>
<text x="346.7" y="201.2" text-anchor="middle">19.5</text>
<text x="33.5" y="39" text-anchor="end">1</text>
<text x="33.5" y="73.4" text-anchor="end">0.5</text>
<text x="33.5" y="107.8" text-anchor="end">0</text>
<text x="33.5" y="142.1" text-anchor="end">-0.5</text>
<text x="33.5" y="176.5" text-anchor="end">-1</text>
<text x="208.7" y="213" text-anchor="middle" font-size="8.8">U [m]</text>
<text x="15.4" y="104.5" text-anchor="middle" font-size="8.8" transform="rotate(-90 15.4 104.5)">V [m]</text>
<rect x="387.0" y="18.5" width="11.8" height="171.9" fill="url(#cbar)" stroke="#444" stroke-width="0.5"/>
<line x1="397.3" x2="398.8" y1="33.2" y2="33.2" stroke="#333" stroke-width="0.5"/>
<text x="402" y="35.9" font-size="6.9">371.74</text>
<line x1="397.3" x2="398.8" y1="56.7" y2="56.7" stroke="#333" stroke-width="0.5"/>
<text x="402" y="59.3" font-size="6.9">371.72</text>
<line x1="397.3" x2="398.8" y1="80.2" y2="80.2" stroke="#333" stroke-width="0.5"/>
<text x="402" y="82.8" font-size="6.9">371.7</text>
<line x1="397.3" x2="398.8" y1="103.6" y2="103.6" stroke="#333" stroke-width="0.5"/>
<text x="402" y="106.2" font-size="6.9">371.68</text>
<line x1="397.3" x2="398.8" y1="127.1" y2="127.1" stroke="#333" stroke-width="0.5"/>
<text x="402" y="129.7" font-size="6.9">371.66</text>
<line x1="397.3" x2="398.8" y1="150.5" y2="150.5" stroke="#333" stroke-width="0.5"/>
<text x="402" y="153.1" font-size="6.9">371.64</text>
<line x1="397.3" x2="398.8" y1="174" y2="174" stroke="#333" stroke-width="0.5"/>
<text x="402" y="176.6" font-size="6.9">371.62</text>
</g>
</svg>
<svg class="panel" style="left:27.75px;top:498.5px" width="440" height="219.2" viewBox="0 0 440 219.2">
<defs><clipPath id="clip3"><rect x="37.2" y="18.5" width="343.0" height="171.9"/></clipPath></defs>
<rect x="37.2" y="18.5" width="343.0" height="171.9" fill="url(#wash)"/>
<g font-family="'Liberation Sans', sans-serif" font-size="8" fill="#303030">
<text x="208.7" y="14.6" text-anchor="middle" font-size="8.6">CRG road UVZ map (in uncurved UV grid)</text>
<text x="38" y="200.7" text-anchor="middle">15</text>
<text x="72.3" y="200.7" text-anchor="middle">15.5</text>
<text x="106.6" y="200.7" text-anchor="middle">16</text>
<text x="140.9" y="200.7" text-anchor="middle">16.5</text>
<text x="175.2" y="200.7" text-anchor="middle">17</text>
<text x="209.5" y="200.7" text-anchor="middle">17.5</text>
<text x="243.8" y="200.7" text-anchor="middle">18</text>
<text x="278.1" y="200.7" text-anchor="middle">18.5</text>
<text x="312.4" y="200.7" text-anchor="middle">19</text>
<text x="346.7" y="200.7" text-anchor="middle">19.5</text>
<text x="33.5" y="39" text-anchor="end">1</text>
<text x="33.5" y="73.4" text-anchor="end">0.5</text>
<text x="33.5" y="107.8" text-anchor="end">0</text>
<text x="33.5" y="142.1" text-anchor="end">-0.5</text>
<text x="33.5" y="176.5" text-anchor="end">-1</text>
<text x="208.7" y="212.5" text-anchor="middle" font-size="8.8">U [m]</text>
<text x="15.4" y="104.5" text-anchor="middle" font-size="8.8" transform="rotate(-90 15.4 104.5)">V [m]</text>
<rect x="387.0" y="18.5" width="11.8" height="171.9" fill="url(#cbar)" stroke="#444" stroke-width="0.5"/>
<line x1="397.3" x2="398.8" y1="42.8" y2="42.8" stroke="#333" stroke-width="0.5"/>
<text x="402" y="45.4" font-size="6.9">366.25</text>
<line x1="397.3" x2="398.8" y1="75.7" y2="75.7" stroke="#333" stroke-width="0.5"/>
<text x="402" y="78.3" font-size="6.9">366.2</text>
<line x1="397.3" x2="398.8" y1="108.6" y2="108.6" stroke="#333" stroke-width="0.5"/>
<text x="402" y="111.2" font-size="6.9">366.15</text>
<line x1="397.3" x2="398.8" y1="141.6" y2="141.6" stroke="#333" stroke-width="0.5"/>
<text x="402" y="144.2" font-size="6.9">366.1</text>
<line x1="397.3" x2="398.8" y1="174.5" y2="174.5" stroke="#333" stroke-width="0.5"/>
<text x="402" y="177.1" font-size="6.9">366.05</text>
</g>
</svg>
<svg class="panel" style="left:487.75px;top:498.5px" width="440" height="219.2" viewBox="0 0 440 219.2">
<defs><clipPath id="clip4"><rect x="37.2" y="18.5" width="343.0" height="171.9"/></clipPath></defs>
<g clip-path="url(#clip4)"><g filter="url(#blur4)">
<rect x="30.9" y="5.9" width="6.6" height="12.9" fill="#f6f355"/>
<rect x="36.9" y="5.9" width="6.6" height="12.9" fill="#f5f055"/>
<rect x="42.9" y="5.9" width="6.6" height="12.9" fill="#f5d354"/>
<rect x="48.9" y="5.9" width="6.6" height="12.9" fill="#f5c556"/>
<rect x="55" y="5.9" width="6.6" height="12.9" fill="#f5c456"/>
<rect x="61" y="5.9" width="6.6" height="12.9" fill="#f5ce55"/>
<rect x="67" y="5.9" width="6.6" height="12.9" fill="#f3eb55"/>
<rect x="73" y="5.9" width="6.6" height="12.9" fill="#f6f355"/>
<rect x="79" y="5.9" width="6.6" height="12.9" fill="#f4d654"/>
<rect x="85" y="5.9" width="6.6" height="12.9" fill="#f5c756"/>
<rect x="91.1" y="5.9" width="6.6" height="12.9" fill="#f5c656"/>
<rect x="97.1" y="5.9" width="6.6" height="12.9" fill="#f5cf54"/>
<rect x="103.1" y="5.9" width="6.6" height="12.9" fill="#f3ec55"/>
<rect x="109.1" y="5.9" width="6.6" height="12.9" fill="#f6f455"/>
<rect x="115.1" y="5.9" width="6.6" height="12.9" fill="#f4d754"/>
<rect x="121.1" y="5.9" width="6.6" height="12.9" fill="#f5c756"/>
<rect x="127.2" y="5.9" width="6.6" height="12.9" fill="#f5c556"/>
<rect x="133.2" y="5.9" width="6.6" height="12.9" fill="#f5ce55"/>
<rect x="139.2" y="5.9" width="6.6" height="12.9" fill="#f3ea55"/>
<rect x="145.2" y="5.9" width="6.6" height="12.9" fill="#f6f355"/>
<rect x="151.2" y="5.9" width="6.6" height="12.9" fill="#f4d554"/>
<rect x="157.3" y="5.9" width="6.6" height="12.9" fill="#f5c556"/>
<rect x="163.3" y="5.9" width="6.6" height="12.9" fill="#f5c357"/>
<rect x="169.3" y="5.9" width="6.6" height="12.9" fill="#f5cb55"/>
<rect x="175.3" y="5.9" width="6.6" height="12.9" fill="#f2e755"/>
<rect x="181.3" y="5.9" width="6.6" height="12.9" fill="#f5f055"/>
<rect x="187.3" y="5.9" width="6.6" height="12.9" fill="#f5d354"/>
<rect x="193.4" y="5.9" width="6.6" height="12.9" fill="#f4c257"/>
<rect x="199.4" y="5.9" width="6.6" height="12.9" fill="#f4c157"/>
<rect x="205.4" y="5.9" width="6.6" height="12.9" fill="#f5c756"/>
<rect x="211.4" y="5.9" width="6.6" height="12.9" fill="#f3dc54"/>
<rect x="217.4" y="5.9" width="6.6" height="12.9" fill="#f2e154"/>
<rect x="223.4" y="5.9" width="6.6" height="12.9" fill="#f5cb55"/>
<rect x="229.5" y="5.9" width="6.6" height="12.9" fill="#f4c057"/>
<rect x="235.5" y="5.9" width="6.6" height="12.9" fill="#f3bf57"/>
<rect x="241.5" y="5.9" width="6.6" height="12.9" fill="#f5c357"/>
<rect x="247.5" y="5.9" width="6.6" height="12.9" fill="#f5cf54"/>
<rect x="253.5" y="5.9" width="6.6" height="12.9" fill="#f4d454"/>
<rect x="259.5" y="5.9" width="6.6" height="12.9" fill="#f5c756"/>
<rect x="265.6" y="5.9" width="6.6" height="12.9" fill="#f3c057"/>
<rect x="271.6" y="5.9" width="6.6" height="12.9" fill="#f2bf57"/>
<rect x="277.6" y="5.9" width="6.6" height="12.9" fill="#f4c257"/>
<rect x="283.6" y="5.9" width="6.6" height="12.9" fill="#f5ce54"/>
<rect x="289.6" y="5.9" width="6.6" height="12.9" fill="#f5d354"/>
<rect x="295.7" y="5.9" width="6.6" height="12.9" fill="#f5c656"/>
<rect x="301.7" y="5.9" width="6.6" height="12.9" fill="#f3bf57"/>
<rect x="307.7" y="5.9" width="6.6" height="12.9" fill="#f2bf57"/>
<rect x="313.7" y="5.9" width="6.6" height="12.9" fill="#f4c157"/>
<rect x="319.7" y="5.9" width="6.6" height="12.9" fill="#f5cc55"/>
<rect x="325.7" y="5.9" width="6.6" height="12.9" fill="#f5d154"/>
<rect x="331.8" y="5.9" width="6.6" height="12.9" fill="#f5c656"/>
<rect x="337.8" y="5.9" width="6.6" height="12.9" fill="#f3bf57"/>
<rect x="343.8" y="5.9" width="6.6" height="12.9" fill="#f2bf57"/>
<rect x="349.8" y="5.9" width="6.6" height="12.9" fill="#f4c157"/>
<rect x="355.8" y="5.9" width="6.6" height="12.9" fill="#f6cb55"/>
<rect x="361.8" y="5.9" width="6.6" height="12.9" fill="#f5d054"/>
<rect x="367.9" y="5.9" width="6.6" height="12.9" fill="#f5c556"/>
<rect x="373.9" y="5.9" width="6.6" height="12.9" fill="#f3bf57"/>
<rect x="379.9" y="5.9" width="6.6" height="12.9" fill="#f2bf57"/>
<rect x="30.9" y="18.2" width="6.6" height="12.9" fill="#f5f055"/>
<rect x="36.9" y="18.2" width="6.6" height="12.9" fill="#f4ee55"/>
<rect x="42.9" y="18.2" width="6.6" height="12.9" fill="#f5d254"/>
<rect x="48.9" y="18.2" width="6.6" height="12.9" fill="#f5c456"/>
<rect x="55" y="18.2" width="6.6" height="12.9" fill="#f5c356"/>
<rect x="61" y="18.2" width="6.6" height="12.9" fill="#f5cc55"/>
<rect x="67" y="18.2" width="6.6" height="12.9" fill="#f3e955"/>
<rect x="73" y="18.2" width="6.6" height="12.9" fill="#f5f055"/>
<rect x="79" y="18.2" width="6.6" height="12.9" fill="#f4d454"/>
<rect x="85" y="18.2" width="6.6" height="12.9" fill="#f5c656"/>
<rect x="91.1" y="18.2" width="6.6" height="12.9" fill="#f5c556"/>
<rect x="97.1" y="18.2" width="6.6" height="12.9" fill="#f5ce54"/>
<rect x="103.1" y="18.2" width="6.6" height="12.9" fill="#f3e955"/>
<rect x="109.1" y="18.2" width="6.6" height="12.9" fill="#f5f155"/>
<rect x="115.1" y="18.2" width="6.6" height="12.9" fill="#f4d554"/>
<rect x="121.1" y="18.2" width="6.6" height="12.9" fill="#f5c656"/>
<rect x="127.2" y="18.2" width="6.6" height="12.9" fill="#f5c556"/>
<rect x="133.2" y="18.2" width="6.6" height="12.9" fill="#f5cd55"/>
<rect x="139.2" y="18.2" width="6.6" height="12.9" fill="#f2e855"/>
<rect x="145.2" y="18.2" width="6.6" height="12.9" fill="#f5f055"/>
<rect x="151.2" y="18.2" width="6.6" height="12.9" fill="#f4d454"/>
<rect x="157.3" y="18.2" width="6.6" height="12.9" fill="#f5c456"/>
<rect x="163.3" y="18.2" width="6.6" height="12.9" fill="#f5c357"/>
<rect x="169.3" y="18.2" width="6.6" height="12.9" fill="#f5ca55"/>
<rect x="175.3" y="18.2" width="6.6" height="12.9" fill="#f2e555"/>
<rect x="181.3" y="18.2" width="6.6" height="12.9" fill="#f4ee55"/>
<rect x="187.3" y="18.2" width="6.6" height="12.9" fill="#f5d254"/>
<rect x="193.4" y="18.2" width="6.6" height="12.9" fill="#f4c257"/>
<rect x="199.4" y="18.2" width="6.6" height="12.9" fill="#f4c057"/>
<rect x="205.4" y="18.2" width="6.6" height="12.9" fill="#f5c656"/>
<rect x="211.4" y="18.2" width="6.6" height="12.9" fill="#f3da54"/>
<rect x="217.4" y="18.2" width="6.6" height="12.9" fill="#f2de54"/>
<rect x="223.4" y="18.2" width="6.6" height="12.9" fill="#f5ca55"/>
<rect x="229.5" y="18.2" width="6.6" height="12.9" fill="#f4c057"/>
<rect x="235.5" y="18.2" width="6.6" height="12.9" fill="#f3bf57"/>
<rect x="241.5" y="18.2" width="6.6" height="12.9" fill="#f4c257"/>
<rect x="247.5" y="18.2" width="6.6" height="12.9" fill="#f5ce54"/>
<rect x="253.5" y="18.2" width="6.6" height="12.9" fill="#f5d354"/>
<rect x="259.5" y="18.2" width="6.6" height="12.9" fill="#f5c656"/>
<rect x="265.6" y="18.2" width="6.6" height="12.9" fill="#f3bf57"/>
<rect x="271.6" y="18.2" width="6.6" height="12.9" fill="#f2bf57"/>
<rect x="277.6" y="18.2" width="6.6" height="12.9" fill="#f4c157"/>
<rect x="283.6" y="18.2" width="6.6" height="12.9" fill="#f5cd55"/>
<rect x="289.6" y="18.2" width="6.6" height="12.9" fill="#f5d154"/>
<rect x="295.7" y="18.2" width="6.6" height="12.9" fill="#f5c656"/>
<rect x="301.7" y="18.2" width="6.6" height="12.9" fill="#f3bf57"/>
<rect x="307.7" y="18.2" width="6.6" height="12.9" fill="#f2bf57"/>
<rect x="313.7" y="18.2" width="6.6" height="12.9" fill="#f4c157"/>
<rect x="319.7" y="18.2" width="6.6" height="12.9" fill="#f6cc55"/>
<rect x="325.7" y="18.2" width="6.6" height="12.9" fill="#f5d054"/>
<rect x="331.8" y="18.2" width="6.6" height="12.9" fill="#f5c556"/>
<rect x="337.8" y="18.2" width="6.6" height="12.9" fill="#f3bf57"/>
<rect x="343.8" y="18.2" width="6.6" height="12.9" fill="#f2bf57"/>
<rect x="349.8" y="18.2" width="6.6" height="12.9" fill="#f4c157"/>
<rect x="355.8" y="18.2" width="6.6" height="12.9" fill="#f5ca55"/>
<rect x="361.8" y="18.2" width="6.6" height="12.9" fill="#f5cf54"/>
<rect x="367.9" y="18.2" width="6.6" height="12.9" fill="#f5c556"/>
<rect x="373.9" y="18.2" width="6.6" height="12.9" fill="#f3bf57"/>
<rect x="379.9" y="18.2" width="6.6" height="12.9" fill="#f2bf57"/>
<rect x="30.9" y="30.5" width="6.6" height="12.9" fill="#f3ea55"/>
<rect x="36.9" y="30.5" width="6.6" height="12.9" fill="#f2e755"/>
<rect x="42.9" y="30.5" width="6.6" height="12.9" fill="#f5ce54"/>
<rect x="48.9" y="30.5" width="6.6" height="12.9" fill="#f4c257"/>
<rect x="55" y="30.5" width="6.6" height="12.9" fill="#f4c157"/>
<rect x="61" y="30.5" width="6.6" height="12.9" fill="#f5c955"/>
<rect x="67" y="30.5" width="6.6" height="12.9" fill="#f2e254"/>
<rect x="73" y="30.5" width="6.6" height="12.9" fill="#f3e955"/>
<rect x="79" y="30.5" width="6.6" height="12.9" fill="#f5d054"/>
<rect x="85" y="30.5" width="6.6" height="12.9" fill="#f5c456"/>
<rect x="91.1" y="30.5" width="6.6" height="12.9" fill="#f5c357"/>
<rect x="97.1" y="30.5" width="6.6" height="12.9" fill="#f5ca55"/>
<rect x="103.1" y="30.5" width="6.6" height="12.9" fill="#f2e354"/>
<rect x="109.1" y="30.5" width="6.6" height="12.9" fill="#f3ea55"/>
<rect x="115.1" y="30.5" width="6.6" height="12.9" fill="#f5d154"/>
<rect x="121.1" y="30.5" width="6.6" height="12.9" fill="#f5c456"/>
<rect x="127.2" y="30.5" width="6.6" height="12.9" fill="#f5c357"/>
<rect x="133.2" y="30.5" width="6.6" height="12.9" fill="#f5ca55"/>
<rect x="139.2" y="30.5" width="6.6" height="12.9" fill="#f2e254"/>
<rect x="145.2" y="30.5" width="6.6" height="12.9" fill="#f3e955"/>
<rect x="151.2" y="30.5" width="6.6" height="12.9" fill="#f5d054"/>
<rect x="157.3" y="30.5" width="6.6" height="12.9" fill="#f5c357"/>
<rect x="163.3" y="30.5" width="6.6" height="12.9" fill="#f4c157"/>
<rect x="169.3" y="30.5" width="6.6" height="12.9" fill="#f5c855"/>
<rect x="175.3" y="30.5" width="6.6" height="12.9" fill="#f2e054"/>
<rect x="181.3" y="30.5" width="6.6" height="12.9" fill="#f2e755"/>
<rect x="187.3" y="30.5" width="6.6" height="12.9" fill="#f5cf54"/>
<rect x="193.4" y="30.5" width="6.6" height="12.9" fill="#f4c157"/>
<rect x="199.4" y="30.5" width="6.6" height="12.9" fill="#f3c057"/>
<rect x="205.4" y="30.5" width="6.6" height="12.9" fill="#f5c556"/>
<rect x="211.4" y="30.5" width="6.6" height="12.9" fill="#f4d654"/>
<rect x="217.4" y="30.5" width="6.6" height="12.9" fill="#f3da54"/>
<rect x="223.4" y="30.5" width="6.6" height="12.9" fill="#f5c855"/>
<rect x="229.5" y="30.5" width="6.6" height="12.9" fill="#f3bf57"/>
<rect x="235.5" y="30.5" width="6.6" height="12.9" fill="#f2bf57"/>
<rect x="241.5" y="30.5" width="6.6" height="12.9" fill="#f4c157"/>
<rect x="247.5" y="30.5" width="6.6" height="12.9" fill="#f5cc55"/>
<rect x="253.5" y="30.5" width="6.6" height="12.9" fill="#f5d054"/>
<rect x="259.5" y="30.5" width="6.6" height="12.9" fill="#f5c556"/>
<rect x="265.6" y="30.5" width="6.6" height="12.9" fill="#f2bf57"/>
<rect x="271.6" y="30.5" width="6.6" height="12.9" fill="#f2bf57"/>
<rect x="277.6" y="30.5" width="6.6" height="12.9" fill="#f4c157"/>
<rect x="283.6" y="30.5" width="6.6" height="12.9" fill="#f5cb55"/>
<rect x="289.6" y="30.5" width="6.6" height="12.9" fill="#f5cf54"/>
<rect x="295.7" y="30.5" width="6.6" height="12.9" fill="#f5c456"/>
<rect x="301.7" y="30.5" width="6.6" height="12.9" fill="#f2bf57"/>
<rect x="307.7" y="30.5" width="6.6" height="12.9" fill="#f1be57"/>
<rect x="313.7" y="30.5" width="6.6" height="12.9" fill="#f4c057"/>
<rect x="319.7" y="30.5" width="6.6" height="12.9" fill="#f5ca55"/>
<rect x="325.7" y="30.5" width="6.6" height="12.9" fill="#f5ce55"/>
<rect x="331.8" y="30.5" width="6.6" height="12.9" fill="#f5c456"/>
<rect x="337.8" y="30.5" width="6.6" height="12.9" fill="#f2bf57"/>
<rect x="343.8" y="30.5" width="6.6" height="12.9" fill="#f1be57"/>
<rect x="349.8" y="30.5" width="6.6" height="12.9" fill="#f4c057"/>
<rect x="355.8" y="30.5" width="6.6" height="12.9" fill="#f5c955"/>
<rect x="361.8" y="30.5" width="6.6" height="12.9" fill="#f5cd55"/>
<rect x="367.9" y="30.5" width="6.6" height="12.9" fill="#f5c456"/>
<rect x="373.9" y="30.5" width="6.6" height="12.9" fill="#f2bf57"/>
<rect x="379.9" y="30.5" width="6.6" height="12.9" fill="#f1be57"/>
<rect x="30.9" y="42.8" width="6.6" height="12.9" fill="#f2e354"/>
<rect x="36.9" y="42.8" width="6.6" height="12.9" fill="#f2e154"/>
<rect x="42.9" y="42.8" width="6.6" height="12.9" fill="#f5ca55"/>
<rect x="48.9" y="42.8" width="6.6" height="12.9" fill="#f3c057"/>
<rect x="55" y="42.8" width="6.6" height="12.9" fill="#f3bf57"/>
<rect x="61" y="42.8" width="6.6" height="12.9" fill="#f5c656"/>
<rect x="67" y="42.8" width="6.6" height="12.9" fill="#f3dc54"/>
<rect x="73" y="42.8" width="6.6" height="12.9" fill="#f2e254"/>
<rect x="79" y="42.8" width="6.6" height="12.9" fill="#f5cc55"/>
<rect x="85" y="42.8" width="6.6" height="12.9" fill="#f4c157"/>
<rect x="91.1" y="42.8" width="6.6" height="12.9" fill="#f4c057"/>
<rect x="97.1" y="42.8" width="6.6" height="12.9" fill="#f5c756"/>
<rect x="103.1" y="42.8" width="6.6" height="12.9" fill="#f3dc54"/>
<rect x="109.1" y="42.8" width="6.6" height="12.9" fill="#f2e254"/>
<rect x="115.1" y="42.8" width="6.6" height="12.9" fill="#f5cc55"/>
<rect x="121.1" y="42.8" width="6.6" height="12.9" fill="#f4c157"/>
<rect x="127.2" y="42.8" width="6.6" height="12.9" fill="#f4c057"/>
<rect x="133.2" y="42.8" width="6.6" height="12.9" fill="#f5c656"/>
<rect x="139.2" y="42.8" width="6.6" height="12.9" fill="#f3db54"/>
<rect x="145.2" y="42.8" width="6.6" height="12.9" fill="#f2e254"/>
<rect x="151.2" y="42.8" width="6.6" height="12.9" fill="#f5cc55"/>
<rect x="157.3" y="42.8" width="6.6" height="12.9" fill="#f4c057"/>
<rect x="163.3" y="42.8" width="6.6" height="12.9" fill="#f3c057"/>
<rect x="169.3" y="42.8" width="6.6" height="12.9" fill="#f5c556"/>
<rect x="175.3" y="42.8" width="6.6" height="12.9" fill="#f3da54"/>
<rect x="181.3" y="42.8" width="6.6" height="12.9" fill="#f2e154"/>
<rect x="187.3" y="42.8" width="6.6" height="12.9" fill="#f6cb55"/>
<rect x="193.4" y="42.8" width="6.6" height="12.9" fill="#f3c057"/>
<rect x="199.4" y="42.8" width="6.6" height="12.9" fill="#f2bf57"/>
<rect x="205.4" y="42.8" width="6.6" height="12.9" fill="#f5c356"/>
<rect x="211.4" y="42.8" width="6.6" height="12.9" fill="#f5d254"/>
<rect x="217.4" y="42.8" width="6.6" height="12.9" fill="#f4d654"/>
<rect x="223.4" y="42.8" width="6.6" height="12.9" fill="#f5c656"/>
<rect x="229.5" y="42.8" width="6.6" height="12.9" fill="#f2bf57"/>
<rect x="235.5" y="42.8" width="6.6" height="12.9" fill="#f1be57"/>
<rect x="241.5" y="42.8" width="6.6" height="12.9" fill="#f4c057"/>
<rect x="247.5" y="42.8" width="6.6" height="12.9" fill="#f5ca55"/>
<rect x="253.5" y="42.8" width="6.6" height="12.9" fill="#f5cd55"/>
<rect x="259.5" y="42.8" width="6.6" height="12.9" fill="#f5c356"/>
<rect x="265.6" y="42.8" width="6.6" height="12.9" fill="#f2bf57"/>
<rect x="271.6" y="42.8" width="6.6" height="12.9" fill="#f1be57"/>
<rect x="277.6" y="42.8" width="6.6" height="12.9" fill="#f4c057"/>
<rect x="283.6" y="42.8" width="6.6" height="12.9" fill="#f5c955"/>
<rect x="289.6" y="42.8" width="6.6" height="12.9" fill="#f5cc55"/>
<rect x="295.7" y="42.8" width="6.6" height="12.9" fill="#f5c356"/>
<rect x="301.7" y="42.8" width="6.6" height="12.9" fill="#f2bf57"/>
<rect x="307.7" y="42.8" width="6.6" height="12.9" fill="#f1be57"/>
<rect x="313.7" y="42.8" width="6.6" height="12.9" fill="#f3c057"/>
<rect x="319.7" y="42.8" width="6.6" height="12.9" fill="#f5c855"/>
<rect x="325.7" y="42.8" width="6.6" height="12.9" fill="#f6cb55"/>
<rect x="331.8" y="42.8" width="6.6" height="12.9" fill="#f5c357"/>
<rect x="337.8" y="42.8" width="6.6" height="12.9" fill="#f1be57"/>
<rect x="343.8" y="42.8" width="6.6" height="12.9" fill="#f1be57"/>
<rect x="349.8" y="42.8" width="6.6" height="12.9" fill="#f3bf57"/>
<rect x="355.8" y="42.8" width="6.6" height="12.9" fill="#f5c756"/>
<rect x="361.8" y="42.8" width="6.6" height="12.9" fill="#f5ca55"/>
<rect x="367.9" y="42.8" width="6.6" height="12.9" fill="#f4c257"/>
<rect x="373.9" y="42.8" width="6.6" height="12.9" fill="#f1be57"/>
<rect x="379.9" y="42.8" width="6.6" height="12.9" fill="#f0be57"/>
<rect x="30.9" y="55" width="6.6" height="12.9" fill="#f3dc54"/>
<rect x="36.9" y="55" width="6.6" height="12.9" fill="#f3da54"/>
<rect x="42.9" y="55" width="6.6" height="12.9" fill="#f5c756"/>
<rect x="48.9" y="55" width="6.6" height="12.9" fill="#f1be57"/>
<rect x="55" y="55" width="6.6" height="12.9" fill="#f1be57"/>
<rect x="61" y="55" width="6.6" height="12.9" fill="#f5c357"/>
<rect x="67" y="55" width="6.6" height="12.9" fill="#f4d554"/>
<rect x="73" y="55" width="6.6" height="12.9" fill="#f3db54"/>
<rect x="79" y="55" width="6.6" height="12.9" fill="#f5c855"/>
<rect x="85" y="55" width="6.6" height="12.9" fill="#f2bf57"/>
<rect x="91.1" y="55" width="6.6" height="12.9" fill="#f1be57"/>
<rect x="97.1" y="55" width="6.6" height="12.9" fill="#f5c356"/>
<rect x="103.1" y="55" width="6.6" height="12.9" fill="#f4d654"/>
<rect x="109.1" y="55" width="6.6" height="12.9" fill="#f3db54"/>
<rect x="115.1" y="55" width="6.6" height="12.9" fill="#f5c855"/>
<rect x="121.1" y="55" width="6.6" height="12.9" fill="#f3bf57"/>
<rect x="127.2" y="55" width="6.6" height="12.9" fill="#f2bf57"/>
<rect x="133.2" y="55" width="6.6" height="12.9" fill="#f5c356"/>
<rect x="139.2" y="55" width="6.6" height="12.9" fill="#f4d554"/>
<rect x="145.2" y="55" width="6.6" height="12.9" fill="#f3db54"/>
<rect x="151.2" y="55" width="6.6" height="12.9" fill="#f5c855"/>
<rect x="157.3" y="55" width="6.6" height="12.9" fill="#f2bf57"/>
<rect x="163.3" y="55" width="6.6" height="12.9" fill="#f2bf57"/>
<rect x="169.3" y="55" width="6.6" height="12.9" fill="#f5c357"/>
<rect x="175.3" y="55" width="6.6" height="12.9" fill="#f4d454"/>
<rect x="181.3" y="55" width="6.6" height="12.9" fill="#f3da54"/>
<rect x="187.3" y="55" width="6.6" height="12.9" fill="#f5c855"/>
<rect x="193.4" y="55" width="6.6" height="12.9" fill="#f2bf57"/>
<rect x="199.4" y="55" width="6.6" height="12.9" fill="#f1be57"/>
<rect x="205.4" y="55" width="6.6" height="12.9" fill="#f4c257"/>
<rect x="211.4" y="55" width="6.6" height="12.9" fill="#f5ce54"/>
<rect x="217.4" y="55" width="6.6" height="12.9" fill="#f5d154"/>
<rect x="223.4" y="55" width="6.6" height="12.9" fill="#f5c456"/>
<rect x="229.5" y="55" width="6.6" height="12.9" fill="#f1bf57"/>
<rect x="235.5" y="55" width="6.6" height="12.9" fill="#f1be57"/>
<rect x="241.5" y="55" width="6.6" height="12.9" fill="#f3c057"/>
<rect x="247.5" y="55" width="6.6" height="12.9" fill="#f5c755"/>
<rect x="253.5" y="55" width="6.6" height="12.9" fill="#f5ca55"/>
<rect x="259.5" y="55" width="6.6" height="12.9" fill="#f4c257"/>
<rect x="265.6" y="55" width="6.6" height="12.9" fill="#f1be57"/>
<rect x="271.6" y="55" width="6.6" height="12.9" fill="#f1be57"/>
<rect x="277.6" y="55" width="6.6" height="12.9" fill="#f3bf57"/>
<rect x="283.6" y="55" width="6.6" height="12.9" fill="#f5c756"/>
<rect x="289.6" y="55" width="6.6" height="12.9" fill="#f5ca55"/>
<rect x="295.7" y="55" width="6.6" height="12.9" fill="#f4c257"/>
<rect x="301.7" y="55" width="6.6" height="12.9" fill="#f1be57"/>
<rect x="307.7" y="55" width="6.6" height="12.9" fill="#f0be57"/>
<rect x="313.7" y="55" width="6.6" height="12.9" fill="#f3bf57"/>
<rect x="319.7" y="55" width="6.6" height="12.9" fill="#f5c656"/>
<rect x="325.7" y="55" width="6.6" height="12.9" fill="#f5c955"/>
<rect x="331.8" y="55" width="6.6" height="12.9" fill="#f4c257"/>
<rect x="337.8" y="55" width="6.6" height="12.9" fill="#f1be57"/>
<rect x="343.8" y="55" width="6.6" height="12.9" fill="#f0be57"/>
<rect x="349.8" y="55" width="6.6" height="12.9" fill="#f2bf57"/>
<rect x="355.8" y="55" width="6.6" height="12.9" fill="#f5c556"/>
<rect x="361.8" y="55" width="6.6" height="12.9" fill="#f5c855"/>
<rect x="367.9" y="55" width="6.6" height="12.9" fill="#f4c157"/>
<rect x="373.9" y="55" width="6.6" height="12.9" fill="#f0be57"/>
<rect x="379.9" y="55" width="6.6" height="12.9" fill="#efbd57"/>
<rect x="30.9" y="67.3" width="6.6" height="12.9" fill="#f3d854"/>
<rect x="36.9" y="67.3" width="6.6" height="12.9" fill="#f4d654"/>
<rect x="42.9" y="67.3" width="6.6" height="12.9" fill="#f5c456"/>
<rect x="48.9" y="67.3" width="6.6" height="12.9" fill="#eebd56"/>
<rect x="55" y="67.3" width="6.6" height="12.9" fill="#edbc56"/>
<rect x="61" y="67.3" width="6.6" height="12.9" fill="#f3c057"/>
<rect x="67" y="67.3" width="6.6" height="12.9" fill="#f5d254"/>
<rect x="73" y="67.3" width="6.6" height="12.9" fill="#f4d754"/>
<rect x="79" y="67.3" width="6.6" height="12.9" fill="#f5c456"/>
<rect x="85" y="67.3" width="6.6" height="12.9" fill="#efbd57"/>
<rect x="91.1" y="67.3" width="6.6" height="12.9" fill="#efbd57"/>
<rect x="97.1" y="67.3" width="6.6" height="12.9" fill="#f4c157"/>
<rect x="103.1" y="67.3" width="6.6" height="12.9" fill="#f5d254"/>
<rect x="109.1" y="67.3" width="6.6" height="12.9" fill="#f4d754"/>
<rect x="115.1" y="67.3" width="6.6" height="12.9" fill="#f5c556"/>
<rect x="121.1" y="67.3" width="6.6" height="12.9" fill="#f0be57"/>
<rect x="127.2" y="67.3" width="6.6" height="12.9" fill="#efbd57"/>
<rect x="133.2" y="67.3" width="6.6" height="12.9" fill="#f4c157"/>
<rect x="139.2" y="67.3" width="6.6" height="12.9" fill="#f5d254"/>
<rect x="145.2" y="67.3" width="6.6" height="12.9" fill="#f4d754"/>
<rect x="151.2" y="67.3" width="6.6" height="12.9" fill="#f5c656"/>
<rect x="157.3" y="67.3" width="6.6" height="12.9" fill="#f0be57"/>
<rect x="163.3" y="67.3" width="6.6" height="12.9" fill="#f0bd57"/>
<rect x="169.3" y="67.3" width="6.6" height="12.9" fill="#f4c157"/>
<rect x="175.3" y="67.3" width="6.6" height="12.9" fill="#f5d154"/>
<rect x="181.3" y="67.3" width="6.6" height="12.9" fill="#f4d754"/>
<rect x="187.3" y="67.3" width="6.6" height="12.9" fill="#f5c656"/>
<rect x="193.4" y="67.3" width="6.6" height="12.9" fill="#f1be57"/>
<rect x="199.4" y="67.3" width="6.6" height="12.9" fill="#f0bd57"/>
<rect x="205.4" y="67.3" width="6.6" height="12.9" fill="#f4c057"/>
<rect x="211.4" y="67.3" width="6.6" height="12.9" fill="#f5cc55"/>
<rect x="217.4" y="67.3" width="6.6" height="12.9" fill="#f5cf54"/>
<rect x="223.4" y="67.3" width="6.6" height="12.9" fill="#f5c357"/>
<rect x="229.5" y="67.3" width="6.6" height="12.9" fill="#f0be57"/>
<rect x="235.5" y="67.3" width="6.6" height="12.9" fill="#f0bd57"/>
<rect x="241.5" y="67.3" width="6.6" height="12.9" fill="#f2bf57"/>
<rect x="247.5" y="67.3" width="6.6" height="12.9" fill="#f5c656"/>
<rect x="253.5" y="67.3" width="6.6" height="12.9" fill="#f5c955"/>
<rect x="259.5" y="67.3" width="6.6" height="12.9" fill="#f4c157"/>
<rect x="265.6" y="67.3" width="6.6" height="12.9" fill="#f0be57"/>
<rect x="271.6" y="67.3" width="6.6" height="12.9" fill="#efbd57"/>
<rect x="277.6" y="67.3" width="6.6" height="12.9" fill="#f2bf57"/>
<rect x="283.6" y="67.3" width="6.6" height="12.9" fill="#f5c556"/>
<rect x="289.6" y="67.3" width="6.6" height="12.9" fill="#f5c855"/>
<rect x="295.7" y="67.3" width="6.6" height="12.9" fill="#f4c157"/>
<rect x="301.7" y="67.3" width="6.6" height="12.9" fill="#f0bd57"/>
<rect x="307.7" y="67.3" width="6.6" height="12.9" fill="#efbd57"/>
<rect x="313.7" y="67.3" width="6.6" height="12.9" fill="#f1be57"/>
<rect x="319.7" y="67.3" width="6.6" height="12.9" fill="#f5c556"/>
<rect x="325.7" y="67.3" width="6.6" height="12.9" fill="#f5c855"/>
<rect x="331.8" y="67.3" width="6.6" height="12.9" fill="#f4c057"/>
<rect x="337.8" y="67.3" width="6.6" height="12.9" fill="#efbd57"/>
<rect x="343.8" y="67.3" width="6.6" height="12.9" fill="#efbd57"/>
<rect x="349.8" y="67.3" width="6.6" height="12.9" fill="#f1be57"/>
<rect x="355.8" y="67.3" width="6.6" height="12.9" fill="#f5c456"/>
<rect x="361.8" y="67.3" width="6.6" height="12.9" fill="#f5c756"/>
<rect x="367.9" y="67.3" width="6.6" height="12.9" fill="#f3c057"/>
<rect x="373.9" y="67.3" width="6.6" height="12.9" fill="#eebd56"/>
<rect x="379.9" y="67.3" width="6.6" height="12.9" fill="#edbc55"/>
<rect x="30.9" y="79.6" width="6.6" height="12.9" fill="#f3dc54"/>
<rect x="36.9" y="79.6" width="6.6" height="12.9" fill="#f3d954"/>
<rect x="42.9" y="79.6" width="6.6" height="12.9" fill="#f4c157"/>
<rect x="48.9" y="79.6" width="6.6" height="12.9" fill="#e7bc51"/>
<rect x="55" y="79.6" width="6.6" height="12.9" fill="#e6bc50"/>
<rect x="61" y="79.6" width="6.6" height="12.9" fill="#efbd57"/>
<rect x="67" y="79.6" width="6.6" height="12.9" fill="#f5d354"/>
<rect x="73" y="79.6" width="6.6" height="12.9" fill="#f3d954"/>
<rect x="79" y="79.6" width="6.6" height="12.9" fill="#f4c257"/>
<rect x="85" y="79.6" width="6.6" height="12.9" fill="#e9bc53"/>
<rect x="91.1" y="79.6" width="6.6" height="12.9" fill="#e8bc52"/>
<rect x="97.1" y="79.6" width="6.6" height="12.9" fill="#f1be57"/>
<rect x="103.1" y="79.6" width="6.6" height="12.9" fill="#f5d354"/>
<rect x="109.1" y="79.6" width="6.6" height="12.9" fill="#f3da54"/>
<rect x="115.1" y="79.6" width="6.6" height="12.9" fill="#f5c456"/>
<rect x="121.1" y="79.6" width="6.6" height="12.9" fill="#ecbc54"/>
<rect x="127.2" y="79.6" width="6.6" height="12.9" fill="#eabc54"/>
<rect x="133.2" y="79.6" width="6.6" height="12.9" fill="#f2bf57"/>
<rect x="139.2" y="79.6" width="6.6" height="12.9" fill="#f5d354"/>
<rect x="145.2" y="79.6" width="6.6" height="12.9" fill="#f3da54"/>
<rect x="151.2" y="79.6" width="6.6" height="12.9" fill="#f5c456"/>
<rect x="157.3" y="79.6" width="6.6" height="12.9" fill="#edbc55"/>
<rect x="163.3" y="79.6" width="6.6" height="12.9" fill="#ecbc54"/>
<rect x="169.3" y="79.6" width="6.6" height="12.9" fill="#f2bf57"/>
<rect x="175.3" y="79.6" width="6.6" height="12.9" fill="#f5d354"/>
<rect x="181.3" y="79.6" width="6.6" height="12.9" fill="#f3da54"/>
<rect x="187.3" y="79.6" width="6.6" height="12.9" fill="#f5c556"/>
<rect x="193.4" y="79.6" width="6.6" height="12.9" fill="#eebd56"/>
<rect x="199.4" y="79.6" width="6.6" height="12.9" fill="#edbc55"/>
<rect x="205.4" y="79.6" width="6.6" height="12.9" fill="#f2bf57"/>
<rect x="211.4" y="79.6" width="6.6" height="12.9" fill="#f5cd55"/>
<rect x="217.4" y="79.6" width="6.6" height="12.9" fill="#f5d154"/>
<rect x="223.4" y="79.6" width="6.6" height="12.9" fill="#f4c257"/>
<rect x="229.5" y="79.6" width="6.6" height="12.9" fill="#edbd56"/>
<rect x="235.5" y="79.6" width="6.6" height="12.9" fill="#ecbc55"/>
<rect x="241.5" y="79.6" width="6.6" height="12.9" fill="#f0be57"/>
<rect x="247.5" y="79.6" width="6.6" height="12.9" fill="#f5c656"/>
<rect x="253.5" y="79.6" width="6.6" height="12.9" fill="#f5ca55"/>
<rect x="259.5" y="79.6" width="6.6" height="12.9" fill="#f4c057"/>
<rect x="265.6" y="79.6" width="6.6" height="12.9" fill="#edbc55"/>
<rect x="271.6" y="79.6" width="6.6" height="12.9" fill="#ecbc55"/>
<rect x="277.6" y="79.6" width="6.6" height="12.9" fill="#f0bd57"/>
<rect x="283.6" y="79.6" width="6.6" height="12.9" fill="#f5c656"/>
<rect x="289.6" y="79.6" width="6.6" height="12.9" fill="#f5ca55"/>
<rect x="295.7" y="79.6" width="6.6" height="12.9" fill="#f3c057"/>
<rect x="301.7" y="79.6" width="6.6" height="12.9" fill="#edbc55"/>
<rect x="307.7" y="79.6" width="6.6" height="12.9" fill="#ebbc54"/>
<rect x="313.7" y="79.6" width="6.6" height="12.9" fill="#efbd57"/>
<rect x="319.7" y="79.6" width="6.6" height="12.9" fill="#f5c556"/>
<rect x="325.7" y="79.6" width="6.6" height="12.9" fill="#f5c955"/>
<rect x="331.8" y="79.6" width="6.6" height="12.9" fill="#f3bf57"/>
<rect x="337.8" y="79.6" width="6.6" height="12.9" fill="#ecbc54"/>
<rect x="343.8" y="79.6" width="6.6" height="12.9" fill="#eabc54"/>
<rect x="349.8" y="79.6" width="6.6" height="12.9" fill="#edbd56"/>
<rect x="355.8" y="79.6" width="6.6" height="12.9" fill="#f5c456"/>
<rect x="361.8" y="79.6" width="6.6" height="12.9" fill="#f5c855"/>
<rect x="367.9" y="79.6" width="6.6" height="12.9" fill="#f1be57"/>
<rect x="373.9" y="79.6" width="6.6" height="12.9" fill="#e8bc52"/>
<rect x="379.9" y="79.6" width="6.6" height="12.9" fill="#e7bc51"/>
<rect x="30.9" y="91.9" width="6.6" height="12.9" fill="#f2de54"/>
<rect x="36.9" y="91.9" width="6.6" height="12.9" fill="#f3da54"/>
<rect x="42.9" y="91.9" width="6.6" height="12.9" fill="#f0be57"/>
<rect x="48.9" y="91.9" width="6.6" height="12.9" fill="#ddbd4c"/>
<rect x="55" y="91.9" width="6.6" height="12.9" fill="#dcbd4c"/>
<rect x="61" y="91.9" width="6.6" height="12.9" fill="#e8bc52"/>
<rect x="67" y="91.9" width="6.6" height="12.9" fill="#f5d254"/>
<rect x="73" y="91.9" width="6.6" height="12.9" fill="#f3db54"/>
<rect x="79" y="91.9" width="6.6" height="12.9" fill="#f2bf57"/>
<rect x="85" y="91.9" width="6.6" height="12.9" fill="#e1bc4e"/>
<rect x="91.1" y="91.9" width="6.6" height="12.9" fill="#e1bc4e"/>
<rect x="97.1" y="91.9" width="6.6" height="12.9" fill="#ecbc55"/>
<rect x="103.1" y="91.9" width="6.6" height="12.9" fill="#f5d354"/>
<rect x="109.1" y="91.9" width="6.6" height="12.9" fill="#f3db54"/>
<rect x="115.1" y="91.9" width="6.6" height="12.9" fill="#f4c157"/>
<rect x="121.1" y="91.9" width="6.6" height="12.9" fill="#e6bc50"/>
<rect x="127.2" y="91.9" width="6.6" height="12.9" fill="#e4bc50"/>
<rect x="133.2" y="91.9" width="6.6" height="12.9" fill="#eebd56"/>
<rect x="139.2" y="91.9" width="6.6" height="12.9" fill="#f5d354"/>
<rect x="145.2" y="91.9" width="6.6" height="12.9" fill="#f3dc54"/>
<rect x="151.2" y="91.9" width="6.6" height="12.9" fill="#f4c257"/>
<rect x="157.3" y="91.9" width="6.6" height="12.9" fill="#e8bc52"/>
<rect x="163.3" y="91.9" width="6.6" height="12.9" fill="#e6bc51"/>
<rect x="169.3" y="91.9" width="6.6" height="12.9" fill="#efbd57"/>
<rect x="175.3" y="91.9" width="6.6" height="12.9" fill="#f5d354"/>
<rect x="181.3" y="91.9" width="6.6" height="12.9" fill="#f3dc54"/>
<rect x="187.3" y="91.9" width="6.6" height="12.9" fill="#f5c356"/>
<rect x="193.4" y="91.9" width="6.6" height="12.9" fill="#e9bc53"/>
<rect x="199.4" y="91.9" width="6.6" height="12.9" fill="#e8bc52"/>
<rect x="205.4" y="91.9" width="6.6" height="12.9" fill="#efbd57"/>
<rect x="211.4" y="91.9" width="6.6" height="12.9" fill="#f5cd55"/>
<rect x="217.4" y="91.9" width="6.6" height="12.9" fill="#f5d354"/>
<rect x="223.4" y="91.9" width="6.6" height="12.9" fill="#f4c057"/>
<rect x="229.5" y="91.9" width="6.6" height="12.9" fill="#e9bc53"/>
<rect x="235.5" y="91.9" width="6.6" height="12.9" fill="#e8bc52"/>
<rect x="241.5" y="91.9" width="6.6" height="12.9" fill="#edbc55"/>
<rect x="247.5" y="91.9" width="6.6" height="12.9" fill="#f5c656"/>
<rect x="253.5" y="91.9" width="6.6" height="12.9" fill="#f6cb55"/>
<rect x="259.5" y="91.9" width="6.6" height="12.9" fill="#f2bf57"/>
<rect x="265.6" y="91.9" width="6.6" height="12.9" fill="#e9bc53"/>
<rect x="271.6" y="91.9" width="6.6" height="12.9" fill="#e8bc52"/>
<rect x="277.6" y="91.9" width="6.6" height="12.9" fill="#ecbc55"/>
<rect x="283.6" y="91.9" width="6.6" height="12.9" fill="#f5c556"/>
<rect x="289.6" y="91.9" width="6.6" height="12.9" fill="#f5ca55"/>
<rect x="295.7" y="91.9" width="6.6" height="12.9" fill="#f1be57"/>
<rect x="301.7" y="91.9" width="6.6" height="12.9" fill="#e8bc52"/>
<rect x="307.7" y="91.9" width="6.6" height="12.9" fill="#e7bc51"/>
<rect x="313.7" y="91.9" width="6.6" height="12.9" fill="#ebbc54"/>
<rect x="319.7" y="91.9" width="6.6" height="12.9" fill="#f5c456"/>
<rect x="325.7" y="91.9" width="6.6" height="12.9" fill="#f5ca55"/>
<rect x="331.8" y="91.9" width="6.6" height="12.9" fill="#f0be57"/>
<rect x="337.8" y="91.9" width="6.6" height="12.9" fill="#e6bc51"/>
<rect x="343.8" y="91.9" width="6.6" height="12.9" fill="#e5bc50"/>
<rect x="349.8" y="91.9" width="6.6" height="12.9" fill="#e8bc52"/>
<rect x="355.8" y="91.9" width="6.6" height="12.9" fill="#f4c257"/>
<rect x="361.8" y="91.9" width="6.6" height="12.9" fill="#f5c955"/>
<rect x="367.9" y="91.9" width="6.6" height="12.9" fill="#eebd56"/>
<rect x="373.9" y="91.9" width="6.6" height="12.9" fill="#e0bc4d"/>
<rect x="379.9" y="91.9" width="6.6" height="12.9" fill="#debd4c"/>
<rect x="30.9" y="104.2" width="6.6" height="12.9" fill="#f3da54"/>
<rect x="36.9" y="104.2" width="6.6" height="12.9" fill="#f4d654"/>
<rect x="42.9" y="104.2" width="6.6" height="12.9" fill="#e3bc4f"/>
<rect x="48.9" y="104.2" width="6.6" height="12.9" fill="#cdc049"/>
<rect x="55" y="104.2" width="6.6" height="12.9" fill="#ccc04a"/>
<rect x="61" y="104.2" width="6.6" height="12.9" fill="#d9be4b"/>
<rect x="67" y="104.2" width="6.6" height="12.9" fill="#f5cc55"/>
<rect x="73" y="104.2" width="6.6" height="12.9" fill="#f4d654"/>
<rect x="79" y="104.2" width="6.6" height="12.9" fill="#e7bc52"/>
<rect x="85" y="104.2" width="6.6" height="12.9" fill="#d4bf4a"/>
<rect x="91.1" y="104.2" width="6.6" height="12.9" fill="#d5be4a"/>
<rect x="97.1" y="104.2" width="6.6" height="12.9" fill="#e1bc4e"/>
<rect x="103.1" y="104.2" width="6.6" height="12.9" fill="#f5cd55"/>
<rect x="109.1" y="104.2" width="6.6" height="12.9" fill="#f4d754"/>
<rect x="115.1" y="104.2" width="6.6" height="12.9" fill="#edbc55"/>
<rect x="121.1" y="104.2" width="6.6" height="12.9" fill="#dbbd4c"/>
<rect x="127.2" y="104.2" width="6.6" height="12.9" fill="#dbbd4b"/>
<rect x="133.2" y="104.2" width="6.6" height="12.9" fill="#e4bc50"/>
<rect x="139.2" y="104.2" width="6.6" height="12.9" fill="#f5ce55"/>
<rect x="145.2" y="104.2" width="6.6" height="12.9" fill="#f4d754"/>
<rect x="151.2" y="104.2" width="6.6" height="12.9" fill="#efbd57"/>
<rect x="157.3" y="104.2" width="6.6" height="12.9" fill="#dfbd4d"/>
<rect x="163.3" y="104.2" width="6.6" height="12.9" fill="#debd4c"/>
<rect x="169.3" y="104.2" width="6.6" height="12.9" fill="#e7bc51"/>
<rect x="175.3" y="104.2" width="6.6" height="12.9" fill="#f5ce54"/>
<rect x="181.3" y="104.2" width="6.6" height="12.9" fill="#f4d854"/>
<rect x="187.3" y="104.2" width="6.6" height="12.9" fill="#f1be57"/>
<rect x="193.4" y="104.2" width="6.6" height="12.9" fill="#e2bc4e"/>
<rect x="199.4" y="104.2" width="6.6" height="12.9" fill="#e1bc4e"/>
<rect x="205.4" y="104.2" width="6.6" height="12.9" fill="#e8bc52"/>
<rect x="211.4" y="104.2" width="6.6" height="12.9" fill="#f5c955"/>
<rect x="217.4" y="104.2" width="6.6" height="12.9" fill="#f5d054"/>
<rect x="223.4" y="104.2" width="6.6" height="12.9" fill="#efbd57"/>
<rect x="229.5" y="104.2" width="6.6" height="12.9" fill="#e2bc4e"/>
<rect x="235.5" y="104.2" width="6.6" height="12.9" fill="#e1bc4e"/>
<rect x="241.5" y="104.2" width="6.6" height="12.9" fill="#e6bc51"/>
<rect x="247.5" y="104.2" width="6.6" height="12.9" fill="#f5c357"/>
<rect x="253.5" y="104.2" width="6.6" height="12.9" fill="#f5c955"/>
<rect x="259.5" y="104.2" width="6.6" height="12.9" fill="#edbc55"/>
<rect x="265.6" y="104.2" width="6.6" height="12.9" fill="#e2bc4e"/>
<rect x="271.6" y="104.2" width="6.6" height="12.9" fill="#e1bc4e"/>
<rect x="277.6" y="104.2" width="6.6" height="12.9" fill="#e5bc50"/>
<rect x="283.6" y="104.2" width="6.6" height="12.9" fill="#f4c257"/>
<rect x="289.6" y="104.2" width="6.6" height="12.9" fill="#f5c955"/>
<rect x="295.7" y="104.2" width="6.6" height="12.9" fill="#ecbc55"/>
<rect x="301.7" y="104.2" width="6.6" height="12.9" fill="#e1bc4d"/>
<rect x="307.7" y="104.2" width="6.6" height="12.9" fill="#dfbd4d"/>
<rect x="313.7" y="104.2" width="6.6" height="12.9" fill="#e3bc4f"/>
<rect x="319.7" y="104.2" width="6.6" height="12.9" fill="#f4c157"/>
<rect x="325.7" y="104.2" width="6.6" height="12.9" fill="#f5c855"/>
<rect x="331.8" y="104.2" width="6.6" height="12.9" fill="#eabc53"/>
<rect x="337.8" y="104.2" width="6.6" height="12.9" fill="#debd4c"/>
<rect x="343.8" y="104.2" width="6.6" height="12.9" fill="#dcbd4c"/>
<rect x="349.8" y="104.2" width="6.6" height="12.9" fill="#dfbd4d"/>
<rect x="355.8" y="104.2" width="6.6" height="12.9" fill="#f3bf57"/>
<rect x="361.8" y="104.2" width="6.6" height="12.9" fill="#f5c756"/>
<rect x="367.9" y="104.2" width="6.6" height="12.9" fill="#e5bc50"/>
<rect x="373.9" y="104.2" width="6.6" height="12.9" fill="#d3bf4a"/>
<rect x="379.9" y="104.2" width="6.6" height="12.9" fill="#d1bf4a"/>
<rect x="30.9" y="116.4" width="6.6" height="12.9" fill="#f4d554"/>
<rect x="36.9" y="116.4" width="6.6" height="12.9" fill="#f5d054"/>
<rect x="42.9" y="116.4" width="6.6" height="12.9" fill="#d2bf4a"/>
<rect x="48.9" y="116.4" width="6.6" height="12.9" fill="#bbc44e"/>
<rect x="55" y="116.4" width="6.6" height="12.9" fill="#bac44e"/>
<rect x="61" y="116.4" width="6.6" height="12.9" fill="#c7c14a"/>
<rect x="67" y="116.4" width="6.6" height="12.9" fill="#f5c556"/>
<rect x="73" y="116.4" width="6.6" height="12.9" fill="#f5d154"/>
<rect x="79" y="116.4" width="6.6" height="12.9" fill="#d8be4b"/>
<rect x="85" y="116.4" width="6.6" height="12.9" fill="#c5c24a"/>
<rect x="91.1" y="116.4" width="6.6" height="12.9" fill="#c7c14a"/>
<rect x="97.1" y="116.4" width="6.6" height="12.9" fill="#d3bf4a"/>
<rect x="103.1" y="116.4" width="6.6" height="12.9" fill="#f5c756"/>
<rect x="109.1" y="116.4" width="6.6" height="12.9" fill="#f5d254"/>
<rect x="115.1" y="116.4" width="6.6" height="12.9" fill="#e1bc4e"/>
<rect x="121.1" y="116.4" width="6.6" height="12.9" fill="#d0bf4a"/>
<rect x="127.2" y="116.4" width="6.6" height="12.9" fill="#d0bf4a"/>
<rect x="133.2" y="116.4" width="6.6" height="12.9" fill="#d9be4b"/>
<rect x="139.2" y="116.4" width="6.6" height="12.9" fill="#f5c756"/>
<rect x="145.2" y="116.4" width="6.6" height="12.9" fill="#f5d354"/>
<rect x="151.2" y="116.4" width="6.6" height="12.9" fill="#e5bc50"/>
<rect x="157.3" y="116.4" width="6.6" height="12.9" fill="#d5be4a"/>
<rect x="163.3" y="116.4" width="6.6" height="12.9" fill="#d5be4a"/>
<rect x="169.3" y="116.4" width="6.6" height="12.9" fill="#ddbd4c"/>
<rect x="175.3" y="116.4" width="6.6" height="12.9" fill="#f5c855"/>
<rect x="181.3" y="116.4" width="6.6" height="12.9" fill="#f5d354"/>
<rect x="187.3" y="116.4" width="6.6" height="12.9" fill="#e9bc52"/>
<rect x="193.4" y="116.4" width="6.6" height="12.9" fill="#dabe4b"/>
<rect x="199.4" y="116.4" width="6.6" height="12.9" fill="#dabe4b"/>
<rect x="205.4" y="116.4" width="6.6" height="12.9" fill="#e0bd4d"/>
<rect x="211.4" y="116.4" width="6.6" height="12.9" fill="#f5c456"/>
<rect x="217.4" y="116.4" width="6.6" height="12.9" fill="#f5cc55"/>
<rect x="223.4" y="116.4" width="6.6" height="12.9" fill="#e7bc51"/>
<rect x="229.5" y="116.4" width="6.6" height="12.9" fill="#dbbd4b"/>
<rect x="235.5" y="116.4" width="6.6" height="12.9" fill="#dabe4b"/>
<rect x="241.5" y="116.4" width="6.6" height="12.9" fill="#debd4c"/>
<rect x="247.5" y="116.4" width="6.6" height="12.9" fill="#f3bf57"/>
<rect x="253.5" y="116.4" width="6.6" height="12.9" fill="#f5c756"/>
<rect x="259.5" y="116.4" width="6.6" height="12.9" fill="#e5bc50"/>
<rect x="265.6" y="116.4" width="6.6" height="12.9" fill="#dabe4b"/>
<rect x="271.6" y="116.4" width="6.6" height="12.9" fill="#d9be4b"/>
<rect x="277.6" y="116.4" width="6.6" height="12.9" fill="#ddbd4c"/>
<rect x="283.6" y="116.4" width="6.6" height="12.9" fill="#f2bf57"/>
<rect x="289.6" y="116.4" width="6.6" height="12.9" fill="#f5c656"/>
<rect x="295.7" y="116.4" width="6.6" height="12.9" fill="#e4bc50"/>
<rect x="301.7" y="116.4" width="6.6" height="12.9" fill="#d8be4b"/>
<rect x="307.7" y="116.4" width="6.6" height="12.9" fill="#d7be4a"/>
<rect x="313.7" y="116.4" width="6.6" height="12.9" fill="#dabd4b"/>
<rect x="319.7" y="116.4" width="6.6" height="12.9" fill="#f1be57"/>
<rect x="325.7" y="116.4" width="6.6" height="12.9" fill="#f5c656"/>
<rect x="331.8" y="116.4" width="6.6" height="12.9" fill="#e2bc4e"/>
<rect x="337.8" y="116.4" width="6.6" height="12.9" fill="#d4bf4a"/>
<rect x="343.8" y="116.4" width="6.6" height="12.9" fill="#d2bf4a"/>
<rect x="349.8" y="116.4" width="6.6" height="12.9" fill="#d4bf4a"/>
<rect x="355.8" y="116.4" width="6.6" height="12.9" fill="#edbd56"/>
<rect x="361.8" y="116.4" width="6.6" height="12.9" fill="#f5c556"/>
<rect x="367.9" y="116.4" width="6.6" height="12.9" fill="#d9be4b"/>
<rect x="373.9" y="116.4" width="6.6" height="12.9" fill="#c4c24b"/>
<rect x="379.9" y="116.4" width="6.6" height="12.9" fill="#c1c34c"/>
<rect x="30.9" y="128.7" width="6.6" height="12.9" fill="#f5cc55"/>
<rect x="36.9" y="128.7" width="6.6" height="12.9" fill="#f5c656"/>
<rect x="42.9" y="128.7" width="6.6" height="12.9" fill="#b5c551"/>
<rect x="48.9" y="128.7" width="6.6" height="12.9" fill="#9ec95e"/>
<rect x="55" y="128.7" width="6.6" height="12.9" fill="#9fc95e"/>
<rect x="61" y="128.7" width="6.6" height="12.9" fill="#a9c757"/>
<rect x="67" y="128.7" width="6.6" height="12.9" fill="#ebbc54"/>
<rect x="73" y="128.7" width="6.6" height="12.9" fill="#f5c756"/>
<rect x="79" y="128.7" width="6.6" height="12.9" fill="#bfc34c"/>
<rect x="85" y="128.7" width="6.6" height="12.9" fill="#aec654"/>
<rect x="91.1" y="128.7" width="6.6" height="12.9" fill="#b2c652"/>
<rect x="97.1" y="128.7" width="6.6" height="12.9" fill="#bec34d"/>
<rect x="103.1" y="128.7" width="6.6" height="12.9" fill="#f0bd57"/>
<rect x="109.1" y="128.7" width="6.6" height="12.9" fill="#f5c855"/>
<rect x="115.1" y="128.7" width="6.6" height="12.9" fill="#cec049"/>
<rect x="121.1" y="128.7" width="6.6" height="12.9" fill="#bec34d"/>
<rect x="127.2" y="128.7" width="6.6" height="12.9" fill="#bfc34c"/>
<rect x="133.2" y="128.7" width="6.6" height="12.9" fill="#c7c14a"/>
<rect x="139.2" y="128.7" width="6.6" height="12.9" fill="#f1be57"/>
<rect x="145.2" y="128.7" width="6.6" height="12.9" fill="#f5c955"/>
<rect x="151.2" y="128.7" width="6.6" height="12.9" fill="#d4bf4a"/>
<rect x="157.3" y="128.7" width="6.6" height="12.9" fill="#c6c24a"/>
<rect x="163.3" y="128.7" width="6.6" height="12.9" fill="#c7c14a"/>
<rect x="169.3" y="128.7" width="6.6" height="12.9" fill="#cdc049"/>
<rect x="175.3" y="128.7" width="6.6" height="12.9" fill="#f2bf57"/>
<rect x="181.3" y="128.7" width="6.6" height="12.9" fill="#f5ca55"/>
<rect x="187.3" y="128.7" width="6.6" height="12.9" fill="#dabd4b"/>
<rect x="193.4" y="128.7" width="6.6" height="12.9" fill="#cdc049"/>
<rect x="199.4" y="128.7" width="6.6" height="12.9" fill="#cec049"/>
<rect x="205.4" y="128.7" width="6.6" height="12.9" fill="#d3bf4a"/>
<rect x="211.4" y="128.7" width="6.6" height="12.9" fill="#f0be57"/>
<rect x="217.4" y="128.7" width="6.6" height="12.9" fill="#f5c656"/>
<rect x="223.4" y="128.7" width="6.6" height="12.9" fill="#dbbd4b"/>
<rect x="229.5" y="128.7" width="6.6" height="12.9" fill="#cfc049"/>
<rect x="235.5" y="128.7" width="6.6" height="12.9" fill="#cec049"/>
<rect x="241.5" y="128.7" width="6.6" height="12.9" fill="#d2bf4a"/>
<rect x="247.5" y="128.7" width="6.6" height="12.9" fill="#ecbc54"/>
<rect x="253.5" y="128.7" width="6.6" height="12.9" fill="#f4c257"/>
<rect x="259.5" y="128.7" width="6.6" height="12.9" fill="#d9be4b"/>
<rect x="265.6" y="128.7" width="6.6" height="12.9" fill="#cec049"/>
<rect x="271.6" y="128.7" width="6.6" height="12.9" fill="#cdc04a"/>
<rect x="277.6" y="128.7" width="6.6" height="12.9" fill="#d0bf4a"/>
<rect x="283.6" y="128.7" width="6.6" height="12.9" fill="#eabc54"/>
<rect x="289.6" y="128.7" width="6.6" height="12.9" fill="#f4c257"/>
<rect x="295.7" y="128.7" width="6.6" height="12.9" fill="#d8be4b"/>
<rect x="301.7" y="128.7" width="6.6" height="12.9" fill="#cbc04a"/>
<rect x="307.7" y="128.7" width="6.6" height="12.9" fill="#c9c14a"/>
<rect x="313.7" y="128.7" width="6.6" height="12.9" fill="#ccc04a"/>
<rect x="319.7" y="128.7" width="6.6" height="12.9" fill="#e8bc52"/>
<rect x="325.7" y="128.7" width="6.6" height="12.9" fill="#f4c257"/>
<rect x="331.8" y="128.7" width="6.6" height="12.9" fill="#d4bf4a"/>
<rect x="337.8" y="128.7" width="6.6" height="12.9" fill="#c5c24b"/>
<rect x="343.8" y="128.7" width="6.6" height="12.9" fill="#c2c24b"/>
<rect x="349.8" y="128.7" width="6.6" height="12.9" fill="#c2c24b"/>
<rect x="355.8" y="128.7" width="6.6" height="12.9" fill="#e2bc4f"/>
<rect x="361.8" y="128.7" width="6.6" height="12.9" fill="#f4c157"/>
<rect x="367.9" y="128.7" width="6.6" height="12.9" fill="#c6c24a"/>
<rect x="373.9" y="128.7" width="6.6" height="12.9" fill="#adc755"/>
<rect x="379.9" y="128.7" width="6.6" height="12.9" fill="#a9c756"/>
<rect x="30.9" y="141" width="6.6" height="12.9" fill="#f5c356"/>
<rect x="36.9" y="141" width="6.6" height="12.9" fill="#efbd57"/>
<rect x="42.9" y="141" width="6.6" height="12.9" fill="#94ca66"/>
<rect x="48.9" y="141" width="6.6" height="12.9" fill="#84ca74"/>
<rect x="55" y="141" width="6.6" height="12.9" fill="#84ca74"/>
<rect x="61" y="141" width="6.6" height="12.9" fill="#8bca6d"/>
<rect x="67" y="141" width="6.6" height="12.9" fill="#d7be4a"/>
<rect x="73" y="141" width="6.6" height="12.9" fill="#f1be57"/>
<rect x="79" y="141" width="6.6" height="12.9" fill="#a3c85b"/>
<rect x="85" y="141" width="6.6" height="12.9" fill="#97c964"/>
<rect x="91.1" y="141" width="6.6" height="12.9" fill="#9cc960"/>
<rect x="97.1" y="141" width="6.6" height="12.9" fill="#a7c858"/>
<rect x="103.1" y="141" width="6.6" height="12.9" fill="#e0bd4d"/>
<rect x="109.1" y="141" width="6.6" height="12.9" fill="#f3bf57"/>
<rect x="115.1" y="141" width="6.6" height="12.9" fill="#b8c44f"/>
<rect x="121.1" y="141" width="6.6" height="12.9" fill="#acc755"/>
<rect x="127.2" y="141" width="6.6" height="12.9" fill="#adc654"/>
<rect x="133.2" y="141" width="6.6" height="12.9" fill="#b3c551"/>
<rect x="139.2" y="141" width="6.6" height="12.9" fill="#e2bc4e"/>
<rect x="145.2" y="141" width="6.6" height="12.9" fill="#f4c057"/>
<rect x="151.2" y="141" width="6.6" height="12.9" fill="#c1c34c"/>
<rect x="157.3" y="141" width="6.6" height="12.9" fill="#b6c550"/>
<rect x="163.3" y="141" width="6.6" height="12.9" fill="#b8c54f"/>
<rect x="169.3" y="141" width="6.6" height="12.9" fill="#bdc34d"/>
<rect x="175.3" y="141" width="6.6" height="12.9" fill="#e5bc50"/>
<rect x="181.3" y="141" width="6.6" height="12.9" fill="#f4c157"/>
<rect x="187.3" y="141" width="6.6" height="12.9" fill="#cac14a"/>
<rect x="193.4" y="141" width="6.6" height="12.9" fill="#c0c34c"/>
<rect x="199.4" y="141" width="6.6" height="12.9" fill="#c2c24c"/>
<rect x="205.4" y="141" width="6.6" height="12.9" fill="#c6c24a"/>
<rect x="211.4" y="141" width="6.6" height="12.9" fill="#e5bc50"/>
<rect x="217.4" y="141" width="6.6" height="12.9" fill="#f3c057"/>
<rect x="223.4" y="141" width="6.6" height="12.9" fill="#cdc04a"/>
<rect x="229.5" y="141" width="6.6" height="12.9" fill="#c2c24b"/>
<rect x="235.5" y="141" width="6.6" height="12.9" fill="#c2c24b"/>
<rect x="241.5" y="141" width="6.6" height="12.9" fill="#c4c24b"/>
<rect x="247.5" y="141" width="6.6" height="12.9" fill="#e2bc4e"/>
<rect x="253.5" y="141" width="6.6" height="12.9" fill="#f2bf57"/>
<rect x="259.5" y="141" width="6.6" height="12.9" fill="#cbc04a"/>
<rect x="265.6" y="141" width="6.6" height="12.9" fill="#c1c34c"/>
<rect x="271.6" y="141" width="6.6" height="12.9" fill="#c0c34c"/>
<rect x="277.6" y="141" width="6.6" height="12.9" fill="#c2c24b"/>
<rect x="283.6" y="141" width="6.6" height="12.9" fill="#e0bd4d"/>
<rect x="289.6" y="141" width="6.6" height="12.9" fill="#f2bf57"/>
<rect x="295.7" y="141" width="6.6" height="12.9" fill="#cac14a"/>
<rect x="301.7" y="141" width="6.6" height="12.9" fill="#bdc34d"/>
<rect x="307.7" y="141" width="6.6" height="12.9" fill="#bbc44e"/>
<rect x="313.7" y="141" width="6.6" height="12.9" fill="#bdc44d"/>
<rect x="319.7" y="141" width="6.6" height="12.9" fill="#ddbd4c"/>
<rect x="325.7" y="141" width="6.6" height="12.9" fill="#f1be57"/>
<rect x="331.8" y="141" width="6.6" height="12.9" fill="#c3c24b"/>
<rect x="337.8" y="141" width="6.6" height="12.9" fill="#b4c551"/>
<rect x="343.8" y="141" width="6.6" height="12.9" fill="#b2c652"/>
<rect x="349.8" y="141" width="6.6" height="12.9" fill="#afc653"/>
<rect x="355.8" y="141" width="6.6" height="12.9" fill="#d5be4a"/>
<rect x="361.8" y="141" width="6.6" height="12.9" fill="#f1be57"/>
<rect x="367.9" y="141" width="6.6" height="12.9" fill="#aec654"/>
<rect x="373.9" y="141" width="6.6" height="12.9" fill="#95ca65"/>
<rect x="379.9" y="141" width="6.6" height="12.9" fill="#91ca68"/>
<rect x="30.9" y="153.3" width="6.6" height="12.9" fill="#f3c057"/>
<rect x="36.9" y="153.3" width="6.6" height="12.9" fill="#e7bc52"/>
<rect x="42.9" y="153.3" width="6.6" height="12.9" fill="#7fca78"/>
<rect x="48.9" y="153.3" width="6.6" height="12.9" fill="#76c984"/>
<rect x="55" y="153.3" width="6.6" height="12.9" fill="#76ca83"/>
<rect x="61" y="153.3" width="6.6" height="12.9" fill="#7aca7e"/>
<rect x="67" y="153.3" width="6.6" height="12.9" fill="#c7c14a"/>
<rect x="73" y="153.3" width="6.6" height="12.9" fill="#eabc53"/>
<rect x="79" y="153.3" width="6.6" height="12.9" fill="#8fca6a"/>
<rect x="85" y="153.3" width="6.6" height="12.9" fill="#88ca70"/>
<rect x="91.1" y="153.3" width="6.6" height="12.9" fill="#8eca6b"/>
<rect x="97.1" y="153.3" width="6.6" height="12.9" fill="#97c963"/>
<rect x="103.1" y="153.3" width="6.6" height="12.9" fill="#d4bf4a"/>
<rect x="109.1" y="153.3" width="6.6" height="12.9" fill="#eebd56"/>
<rect x="115.1" y="153.3" width="6.6" height="12.9" fill="#a8c757"/>
<rect x="121.1" y="153.3" width="6.6" height="12.9" fill="#a0c85d"/>
<rect x="127.2" y="153.3" width="6.6" height="12.9" fill="#a2c85c"/>
<rect x="133.2" y="153.3" width="6.6" height="12.9" fill="#a6c858"/>
<rect x="139.2" y="153.3" width="6.6" height="12.9" fill="#d7be4a"/>
<rect x="145.2" y="153.3" width="6.6" height="12.9" fill="#efbd57"/>
<rect x="151.2" y="153.3" width="6.6" height="12.9" fill="#b3c551"/>
<rect x="157.3" y="153.3" width="6.6" height="12.9" fill="#acc755"/>
<rect x="163.3" y="153.3" width="6.6" height="12.9" fill="#aec654"/>
<rect x="169.3" y="153.3" width="6.6" height="12.9" fill="#b2c652"/>
<rect x="175.3" y="153.3" width="6.6" height="12.9" fill="#dbbd4b"/>
<rect x="181.3" y="153.3" width="6.6" height="12.9" fill="#f0be57"/>
<rect x="187.3" y="153.3" width="6.6" height="12.9" fill="#bec34d"/>
<rect x="193.4" y="153.3" width="6.6" height="12.9" fill="#b7c54f"/>
<rect x="199.4" y="153.3" width="6.6" height="12.9" fill="#b9c44f"/>
<rect x="205.4" y="153.3" width="6.6" height="12.9" fill="#bdc34d"/>
<rect x="211.4" y="153.3" width="6.6" height="12.9" fill="#ddbd4c"/>
<rect x="217.4" y="153.3" width="6.6" height="12.9" fill="#f0be57"/>
<rect x="223.4" y="153.3" width="6.6" height="12.9" fill="#c2c24b"/>
<rect x="229.5" y="153.3" width="6.6" height="12.9" fill="#bac44e"/>
<rect x="235.5" y="153.3" width="6.6" height="12.9" fill="#bac44e"/>
<rect x="241.5" y="153.3" width="6.6" height="12.9" fill="#bbc44e"/>
<rect x="247.5" y="153.3" width="6.6" height="12.9" fill="#dabd4b"/>
<rect x="253.5" y="153.3" width="6.6" height="12.9" fill="#efbd57"/>
<rect x="259.5" y="153.3" width="6.6" height="12.9" fill="#c1c34c"/>
<rect x="265.6" y="153.3" width="6.6" height="12.9" fill="#b8c44f"/>
<rect x="271.6" y="153.3" width="6.6" height="12.9" fill="#b8c54f"/>
<rect x="277.6" y="153.3" width="6.6" height="12.9" fill="#b9c44f"/>
<rect x="283.6" y="153.3" width="6.6" height="12.9" fill="#d8be4b"/>
<rect x="289.6" y="153.3" width="6.6" height="12.9" fill="#efbd57"/>
<rect x="295.7" y="153.3" width="6.6" height="12.9" fill="#bfc34d"/>
<rect x="301.7" y="153.3" width="6.6" height="12.9" fill="#b4c551"/>
<rect x="307.7" y="153.3" width="6.6" height="12.9" fill="#b2c652"/>
<rect x="313.7" y="153.3" width="6.6" height="12.9" fill="#b2c652"/>
<rect x="319.7" y="153.3" width="6.6" height="12.9" fill="#d4bf4a"/>
<rect x="325.7" y="153.3" width="6.6" height="12.9" fill="#efbd57"/>
<rect x="331.8" y="153.3" width="6.6" height="12.9" fill="#b6c550"/>
<rect x="337.8" y="153.3" width="6.6" height="12.9" fill="#aac756"/>
<rect x="343.8" y="153.3" width="6.6" height="12.9" fill="#a7c858"/>
<rect x="349.8" y="153.3" width="6.6" height="12.9" fill="#a2c85c"/>
<rect x="355.8" y="153.3" width="6.6" height="12.9" fill="#c9c14a"/>
<rect x="361.8" y="153.3" width="6.6" height="12.9" fill="#eebd56"/>
<rect x="367.9" y="153.3" width="6.6" height="12.9" fill="#9cc960"/>
<rect x="373.9" y="153.3" width="6.6" height="12.9" fill="#86ca72"/>
<rect x="379.9" y="153.3" width="6.6" height="12.9" fill="#83ca75"/>
<rect x="30.9" y="165.5" width="6.6" height="12.9" fill="#efbd57"/>
<rect x="36.9" y="165.5" width="6.6" height="12.9" fill="#e0bd4d"/>
<rect x="42.9" y="165.5" width="6.6" height="12.9" fill="#76c984"/>
<rect x="48.9" y="165.5" width="6.6" height="12.9" fill="#6fc88c"/>
<rect x="55" y="165.5" width="6.6" height="12.9" fill="#6fc88c"/>
<rect x="61" y="165.5" width="6.6" height="12.9" fill="#71c98a"/>
<rect x="67" y="165.5" width="6.6" height="12.9" fill="#b7c550"/>
<rect x="73" y="165.5" width="6.6" height="12.9" fill="#e2bc4e"/>
<rect x="79" y="165.5" width="6.6" height="12.9" fill="#7eca7a"/>
<rect x="85" y="165.5" width="6.6" height="12.9" fill="#7cca7c"/>
<rect x="91.1" y="165.5" width="6.6" height="12.9" fill="#81ca76"/>
<rect x="97.1" y="165.5" width="6.6" height="12.9" fill="#89ca6f"/>
<rect x="103.1" y="165.5" width="6.6" height="12.9" fill="#c7c14a"/>
<rect x="109.1" y="165.5" width="6.6" height="12.9" fill="#e7bc51"/>
<rect x="115.1" y="165.5" width="6.6" height="12.9" fill="#9ac962"/>
<rect x="121.1" y="165.5" width="6.6" height="12.9" fill="#94ca66"/>
<rect x="127.2" y="165.5" width="6.6" height="12.9" fill="#96c964"/>
<rect x="133.2" y="165.5" width="6.6" height="12.9" fill="#9ac961"/>
<rect x="139.2" y="165.5" width="6.6" height="12.9" fill="#ccc04a"/>
<rect x="145.2" y="165.5" width="6.6" height="12.9" fill="#e9bc53"/>
<rect x="151.2" y="165.5" width="6.6" height="12.9" fill="#a6c858"/>
<rect x="157.3" y="165.5" width="6.6" height="12.9" fill="#a1c85c"/>
<rect x="163.3" y="165.5" width="6.6" height="12.9" fill="#a3c85a"/>
<rect x="169.3" y="165.5" width="6.6" height="12.9" fill="#a7c758"/>
<rect x="175.3" y="165.5" width="6.6" height="12.9" fill="#d1bf4a"/>
<rect x="181.3" y="165.5" width="6.6" height="12.9" fill="#ebbc54"/>
<rect x="187.3" y="165.5" width="6.6" height="12.9" fill="#b3c551"/>
<rect x="193.4" y="165.5" width="6.6" height="12.9" fill="#afc654"/>
<rect x="199.4" y="165.5" width="6.6" height="12.9" fill="#b1c652"/>
<rect x="205.4" y="165.5" width="6.6" height="12.9" fill="#b4c551"/>
<rect x="211.4" y="165.5" width="6.6" height="12.9" fill="#d4bf4a"/>
<rect x="217.4" y="165.5" width="6.6" height="12.9" fill="#ecbc55"/>
<rect x="223.4" y="165.5" width="6.6" height="12.9" fill="#b8c44f"/>
<rect x="229.5" y="165.5" width="6.6" height="12.9" fill="#b2c652"/>
<rect x="235.5" y="165.5" width="6.6" height="12.9" fill="#b1c652"/>
<rect x="241.5" y="165.5" width="6.6" height="12.9" fill="#b2c652"/>
<rect x="247.5" y="165.5" width="6.6" height="12.9" fill="#d2bf4a"/>
<rect x="253.5" y="165.5" width="6.6" height="12.9" fill="#ecbc55"/>
<rect x="259.5" y="165.5" width="6.6" height="12.9" fill="#b6c550"/>
<rect x="265.6" y="165.5" width="6.6" height="12.9" fill="#afc653"/>
<rect x="271.6" y="165.5" width="6.6" height="12.9" fill="#afc653"/>
<rect x="277.6" y="165.5" width="6.6" height="12.9" fill="#afc653"/>
<rect x="283.6" y="165.5" width="6.6" height="12.9" fill="#d0bf4a"/>
<rect x="289.6" y="165.5" width="6.6" height="12.9" fill="#ecbc55"/>
<rect x="295.7" y="165.5" width="6.6" height="12.9" fill="#b4c551"/>
<rect x="301.7" y="165.5" width="6.6" height="12.9" fill="#aac756"/>
<rect x="307.7" y="165.5" width="6.6" height="12.9" fill="#a8c757"/>
<rect x="313.7" y="165.5" width="6.6" height="12.9" fill="#a7c758"/>
<rect x="319.7" y="165.5" width="6.6" height="12.9" fill="#cac14a"/>
<rect x="325.7" y="165.5" width="6.6" height="12.9" fill="#ecbc55"/>
<rect x="331.8" y="165.5" width="6.6" height="12.9" fill="#aac756"/>
<rect x="337.8" y="165.5" width="6.6" height="12.9" fill="#9fc95e"/>
<rect x="343.8" y="165.5" width="6.6" height="12.9" fill="#9cc960"/>
<rect x="349.8" y="165.5" width="6.6" height="12.9" fill="#95ca65"/>
<rect x="355.8" y="165.5" width="6.6" height="12.9" fill="#bcc44e"/>
<rect x="361.8" y="165.5" width="6.6" height="12.9" fill="#ebbc54"/>
<rect x="367.9" y="165.5" width="6.6" height="12.9" fill="#8bca6d"/>
<rect x="373.9" y="165.5" width="6.6" height="12.9" fill="#79ca7f"/>
<rect x="379.9" y="165.5" width="6.6" height="12.9" fill="#77ca83"/>
<rect x="30.9" y="177.8" width="6.6" height="12.9" fill="#ebbc54"/>
<rect x="36.9" y="177.8" width="6.6" height="12.9" fill="#dabe4b"/>
<rect x="42.9" y="177.8" width="6.6" height="12.9" fill="#74c986"/>
<rect x="48.9" y="177.8" width="6.6" height="12.9" fill="#6fc88c"/>
<rect x="55" y="177.8" width="6.6" height="12.9" fill="#6fc88c"/>
<rect x="61" y="177.8" width="6.6" height="12.9" fill="#70c98b"/>
<rect x="67" y="177.8" width="6.6" height="12.9" fill="#afc653"/>
<rect x="73" y="177.8" width="6.6" height="12.9" fill="#dbbd4b"/>
<rect x="79" y="177.8" width="6.6" height="12.9" fill="#74c986"/>
<rect x="85" y="177.8" width="6.6" height="12.9" fill="#71c989"/>
<rect x="91.1" y="177.8" width="6.6" height="12.9" fill="#77ca83"/>
<rect x="97.1" y="177.8" width="6.6" height="12.9" fill="#7dca7b"/>
<rect x="103.1" y="177.8" width="6.6" height="12.9" fill="#bbc44e"/>
<rect x="109.1" y="177.8" width="6.6" height="12.9" fill="#e0bc4d"/>
<rect x="115.1" y="177.8" width="6.6" height="12.9" fill="#8cca6c"/>
<rect x="121.1" y="177.8" width="6.6" height="12.9" fill="#88ca6f"/>
<rect x="127.2" y="177.8" width="6.6" height="12.9" fill="#8bca6d"/>
<rect x="133.2" y="177.8" width="6.6" height="12.9" fill="#8eca6b"/>
<rect x="139.2" y="177.8" width="6.6" height="12.9" fill="#c0c34c"/>
<rect x="145.2" y="177.8" width="6.6" height="12.9" fill="#e3bc4f"/>
<rect x="151.2" y="177.8" width="6.6" height="12.9" fill="#9ac961"/>
<rect x="157.3" y="177.8" width="6.6" height="12.9" fill="#97c964"/>
<rect x="163.3" y="177.8" width="6.6" height="12.9" fill="#99c962"/>
<rect x="169.3" y="177.8" width="6.6" height="12.9" fill="#9dc95f"/>
<rect x="175.3" y="177.8" width="6.6" height="12.9" fill="#c7c14a"/>
<rect x="181.3" y="177.8" width="6.6" height="12.9" fill="#e6bc51"/>
<rect x="187.3" y="177.8" width="6.6" height="12.9" fill="#a9c757"/>
<rect x="193.4" y="177.8" width="6.6" height="12.9" fill="#a6c859"/>
<rect x="199.4" y="177.8" width="6.6" height="12.9" fill="#a8c757"/>
<rect x="205.4" y="177.8" width="6.6" height="12.9" fill="#abc755"/>
<rect x="211.4" y="177.8" width="6.6" height="12.9" fill="#ccc04a"/>
<rect x="217.4" y="177.8" width="6.6" height="12.9" fill="#e8bc52"/>
<rect x="223.4" y="177.8" width="6.6" height="12.9" fill="#afc653"/>
<rect x="229.5" y="177.8" width="6.6" height="12.9" fill="#a9c757"/>
<rect x="235.5" y="177.8" width="6.6" height="12.9" fill="#a8c757"/>
<rect x="241.5" y="177.8" width="6.6" height="12.9" fill="#a9c757"/>
<rect x="247.5" y="177.8" width="6.6" height="12.9" fill="#cac14a"/>
<rect x="253.5" y="177.8" width="6.6" height="12.9" fill="#e9bc52"/>
<rect x="259.5" y="177.8" width="6.6" height="12.9" fill="#adc755"/>
<rect x="265.6" y="177.8" width="6.6" height="12.9" fill="#a6c858"/>
<rect x="271.6" y="177.8" width="6.6" height="12.9" fill="#a6c859"/>
<rect x="277.6" y="177.8" width="6.6" height="12.9" fill="#a6c859"/>
<rect x="283.6" y="177.8" width="6.6" height="12.9" fill="#c8c14a"/>
<rect x="289.6" y="177.8" width="6.6" height="12.9" fill="#e9bc53"/>
<rect x="295.7" y="177.8" width="6.6" height="12.9" fill="#a9c756"/>
<rect x="301.7" y="177.8" width="6.6" height="12.9" fill="#a1c85c"/>
<rect x="307.7" y="177.8" width="6.6" height="12.9" fill="#9fc95e"/>
<rect x="313.7" y="177.8" width="6.6" height="12.9" fill="#9dc95f"/>
<rect x="319.7" y="177.8" width="6.6" height="12.9" fill="#c1c34c"/>
<rect x="325.7" y="177.8" width="6.6" height="12.9" fill="#e9bc53"/>
<rect x="331.8" y="177.8" width="6.6" height="12.9" fill="#9ec95e"/>
<rect x="337.8" y="177.8" width="6.6" height="12.9" fill="#94ca66"/>
<rect x="343.8" y="177.8" width="6.6" height="12.9" fill="#91ca68"/>
<rect x="349.8" y="177.8" width="6.6" height="12.9" fill="#89ca6f"/>
<rect x="355.8" y="177.8" width="6.6" height="12.9" fill="#b0c653"/>
<rect x="361.8" y="177.8" width="6.6" height="12.9" fill="#e8bc52"/>
<rect x="367.9" y="177.8" width="6.6" height="12.9" fill="#7dca7b"/>
<rect x="373.9" y="177.8" width="6.6" height="12.9" fill="#6fc88c"/>
<rect x="379.9" y="177.8" width="6.6" height="12.9" fill="#6fc88c"/>
<rect x="30.9" y="190.1" width="6.6" height="12.9" fill="#e9bc53"/>
<rect x="36.9" y="190.1" width="6.6" height="12.9" fill="#d7be4a"/>
<rect x="42.9" y="190.1" width="6.6" height="12.9" fill="#74c986"/>
<rect x="48.9" y="190.1" width="6.6" height="12.9" fill="#6fc88c"/>
<rect x="55" y="190.1" width="6.6" height="12.9" fill="#6fc88c"/>
<rect x="61" y="190.1" width="6.6" height="12.9" fill="#70c98b"/>
<rect x="67" y="190.1" width="6.6" height="12.9" fill="#adc654"/>
<rect x="73" y="190.1" width="6.6" height="12.9" fill="#d9be4b"/>
<rect x="79" y="190.1" width="6.6" height="12.9" fill="#74c986"/>
<rect x="85" y="190.1" width="6.6" height="12.9" fill="#6fc88c"/>
<rect x="91.1" y="190.1" width="6.6" height="12.9" fill="#72c989"/>
<rect x="97.1" y="190.1" width="6.6" height="12.9" fill="#78ca81"/>
<rect x="103.1" y="190.1" width="6.6" height="12.9" fill="#b5c550"/>
<rect x="109.1" y="190.1" width="6.6" height="12.9" fill="#ddbd4c"/>
<rect x="115.1" y="190.1" width="6.6" height="12.9" fill="#87ca71"/>
<rect x="121.1" y="190.1" width="6.6" height="12.9" fill="#83ca75"/>
<rect x="127.2" y="190.1" width="6.6" height="12.9" fill="#85ca72"/>
<rect x="133.2" y="190.1" width="6.6" height="12.9" fill="#89ca6f"/>
<rect x="139.2" y="190.1" width="6.6" height="12.9" fill="#bcc44e"/>
<rect x="145.2" y="190.1" width="6.6" height="12.9" fill="#e0bd4d"/>
<rect x="151.2" y="190.1" width="6.6" height="12.9" fill="#95ca65"/>
<rect x="157.3" y="190.1" width="6.6" height="12.9" fill="#92ca68"/>
<rect x="163.3" y="190.1" width="6.6" height="12.9" fill="#94ca66"/>
<rect x="169.3" y="190.1" width="6.6" height="12.9" fill="#98c963"/>
<rect x="175.3" y="190.1" width="6.6" height="12.9" fill="#c2c24b"/>
<rect x="181.3" y="190.1" width="6.6" height="12.9" fill="#e3bc4f"/>
<rect x="187.3" y="190.1" width="6.6" height="12.9" fill="#a4c85a"/>
<rect x="193.4" y="190.1" width="6.6" height="12.9" fill="#a1c85c"/>
<rect x="199.4" y="190.1" width="6.6" height="12.9" fill="#a4c85a"/>
<rect x="205.4" y="190.1" width="6.6" height="12.9" fill="#a7c758"/>
<rect x="211.4" y="190.1" width="6.6" height="12.9" fill="#c8c14a"/>
<rect x="217.4" y="190.1" width="6.6" height="12.9" fill="#e6bc51"/>
<rect x="223.4" y="190.1" width="6.6" height="12.9" fill="#aac756"/>
<rect x="229.5" y="190.1" width="6.6" height="12.9" fill="#a4c85a"/>
<rect x="235.5" y="190.1" width="6.6" height="12.9" fill="#a4c85a"/>
<rect x="241.5" y="190.1" width="6.6" height="12.9" fill="#a4c85a"/>
<rect x="247.5" y="190.1" width="6.6" height="12.9" fill="#c7c14a"/>
<rect x="253.5" y="190.1" width="6.6" height="12.9" fill="#e7bc52"/>
<rect x="259.5" y="190.1" width="6.6" height="12.9" fill="#a8c757"/>
<rect x="265.6" y="190.1" width="6.6" height="12.9" fill="#a2c85b"/>
<rect x="271.6" y="190.1" width="6.6" height="12.9" fill="#a1c85c"/>
<rect x="277.6" y="190.1" width="6.6" height="12.9" fill="#a2c85c"/>
<rect x="283.6" y="190.1" width="6.6" height="12.9" fill="#c4c24b"/>
<rect x="289.6" y="190.1" width="6.6" height="12.9" fill="#e8bc52"/>
<rect x="295.7" y="190.1" width="6.6" height="12.9" fill="#a5c859"/>
<rect x="301.7" y="190.1" width="6.6" height="12.9" fill="#9cc960"/>
<rect x="307.7" y="190.1" width="6.6" height="12.9" fill="#9ac961"/>
<rect x="313.7" y="190.1" width="6.6" height="12.9" fill="#98c963"/>
<rect x="319.7" y="190.1" width="6.6" height="12.9" fill="#bdc44d"/>
<rect x="325.7" y="190.1" width="6.6" height="12.9" fill="#e8bc52"/>
<rect x="331.8" y="190.1" width="6.6" height="12.9" fill="#99c962"/>
<rect x="337.8" y="190.1" width="6.6" height="12.9" fill="#8fca6a"/>
<rect x="343.8" y="190.1" width="6.6" height="12.9" fill="#8bca6d"/>
<rect x="349.8" y="190.1" width="6.6" height="12.9" fill="#84ca74"/>
<rect x="355.8" y="190.1" width="6.6" height="12.9" fill="#aac756"/>
<rect x="361.8" y="190.1" width="6.6" height="12.9" fill="#e6bc51"/>
<rect x="367.9" y="190.1" width="6.6" height="12.9" fill="#78ca81"/>
<rect x="373.9" y="190.1" width="6.6" height="12.9" fill="#6fc88c"/>
<rect x="379.9" y="190.1" width="6.6" height="12.9" fill="#6fc88c"/>
</g></g>
<g clip-path="url(#clip4)" filter="url(#soft2)">
<ellipse cx="52.4" cy="35.4" rx="9.4" ry="7.5" fill="url(#pithi)" transform="rotate(0 52.4 35.4)"/>
<ellipse cx="90.4" cy="35.9" rx="9.8" ry="5.7" fill="url(#pithi)" transform="rotate(5 90.4 35.9)"/>
<ellipse cx="129.8" cy="37.4" rx="11.2" ry="5.7" fill="url(#pithi)" transform="rotate(30 129.8 37.4)"/>
<ellipse cx="162.4" cy="38.3" rx="8.9" ry="8.4" fill="url(#pithi)" transform="rotate(-20 162.4 38.3)"/>
<ellipse cx="195.8" cy="36.3" rx="10.7" ry="5.7" fill="url(#pithi)" transform="rotate(35 195.8 36.3)"/>
<ellipse cx="235.5" cy="35.4" rx="11.2" ry="7.2" fill="url(#pithi)" transform="rotate(0 235.5 35.4)"/>
<ellipse cx="273.5" cy="35.9" rx="9.8" ry="6.2" fill="url(#pithi)" transform="rotate(0 273.5 35.9)"/>
<ellipse cx="311.6" cy="35.9" rx="11.7" ry="7" fill="url(#pithi)" transform="rotate(0 311.6 35.9)"/>
<ellipse cx="345.2" cy="35.9" rx="5.5" ry="7.5" fill="url(#pithi)" transform="rotate(0 345.2 35.9)"/>
<ellipse cx="373" cy="35.9" rx="9.2" ry="7.2" fill="url(#pitmid)" transform="rotate(0 373 35.9)"/>
<ellipse cx="61" cy="62.1" rx="10.2" ry="6.2" fill="url(#pithi)" transform="rotate(-5 61 62.1)"/>
<ellipse cx="99" cy="60.3" rx="12.2" ry="6" fill="url(#pithi)" transform="rotate(35 99 60.3)"/>
<ellipse cx="136.8" cy="62.1" rx="8.5" ry="7.5" fill="url(#pithi)" transform="rotate(10 136.8 62.1)"/>
<ellipse cx="171.5" cy="63" rx="11.2" ry="7.2" fill="url(#pithi)" transform="rotate(0 171.5 63)"/>
<ellipse cx="206.2" cy="62.8" rx="9.7" ry="6.4" fill="url(#pitteal)" transform="rotate(35 206.2 62.8)"/>
<ellipse cx="244.8" cy="61" rx="11.2" ry="7.2" fill="url(#pithi)" transform="rotate(0 244.8 61)"/>
<ellipse cx="281.5" cy="61" rx="9.4" ry="6.5" fill="url(#pithi)" transform="rotate(15 281.5 61)"/>
<ellipse cx="317.8" cy="61" rx="8.2" ry="8.2" fill="url(#pithi)" transform="rotate(0 317.8 61)"/>
<ellipse cx="355.1" cy="61.9" rx="10.2" ry="7" fill="url(#pitpale)" transform="rotate(0 355.1 61.9)"/>
<ellipse cx="42.6" cy="162.1" rx="10.2" ry="9.2" fill="url(#pitmid)" transform="rotate(0 42.6 162.1)"/>
<ellipse cx="82" cy="157.1" rx="13.2" ry="7.5" fill="url(#pitlo)" transform="rotate(-5 82 157.1)"/>
<ellipse cx="121.5" cy="157.1" rx="11.7" ry="7.7" fill="url(#pitlo)" transform="rotate(20 121.5 157.1)"/>
<ellipse cx="161" cy="156" rx="11.2" ry="8" fill="url(#pitlo)" transform="rotate(0 161 156)"/>
<ellipse cx="198" cy="157.5" rx="11.2" ry="7.1" fill="url(#pitlo)" transform="rotate(0 198 157.5)"/>
<ellipse cx="234.1" cy="157.5" rx="7.1" ry="8.4" fill="url(#pithi)" transform="rotate(0 234.1 157.5)"/>
<ellipse cx="267.6" cy="157.5" rx="10.7" ry="7.5" fill="url(#pitlo)" transform="rotate(5 267.6 157.5)"/>
<ellipse cx="305.2" cy="156.5" rx="8" ry="8" fill="url(#pitmid)" transform="rotate(0 305.2 156.5)"/>
<ellipse cx="337.9" cy="155.7" rx="11.2" ry="7.5" fill="url(#pitlo)" transform="rotate(0 337.9 155.7)"/>
<ellipse cx="374" cy="155.7" rx="9.2" ry="7.5" fill="url(#pitlo)" transform="rotate(0 374 155.7)"/>
<ellipse cx="45.5" cy="184.1" rx="10.2" ry="5.8" fill="url(#pitmid)" transform="rotate(5 45.5 184.1)"/>
<ellipse cx="84" cy="182.3" rx="11.7" ry="7.5" fill="url(#pitlo)" transform="rotate(0 84 182.3)"/>
<ellipse cx="119.6" cy="183.2" rx="9.8" ry="6.6" fill="url(#pitmid)" transform="rotate(20 119.6 183.2)"/>
<ellipse cx="155.5" cy="181.7" rx="10.2" ry="7.5" fill="url(#pitmid)" transform="rotate(0 155.5 181.7)"/>
<ellipse cx="187.5" cy="182.3" rx="5.2" ry="6.6" fill="url(#pithi)" transform="rotate(10 187.5 182.3)"/>
<ellipse cx="211.8" cy="182.3" rx="8" ry="7.1" fill="url(#pithi)" transform="rotate(0 211.8 182.3)"/>
<ellipse cx="243.9" cy="185.4" rx="8.5" ry="4.8" fill="url(#pitpale)" transform="rotate(0 243.9 185.4)"/>
<ellipse cx="278.1" cy="184.1" rx="11.2" ry="6.2" fill="url(#pitmid)" transform="rotate(0 278.1 184.1)"/>
<ellipse cx="317.1" cy="183.2" rx="10.7" ry="6.2" fill="url(#pitmid)" transform="rotate(20 317.1 183.2)"/>
<ellipse cx="361.8" cy="183.2" rx="9.4" ry="6.2" fill="url(#pitmid)" transform="rotate(5 361.8 183.2)"/>
</g>
<g font-family="'Liberation Sans', sans-serif" font-size="8" fill="#303030">
<text x="208.7" y="14.6" text-anchor="middle" font-size="8.6">CRG road UVZ map (in uncurved UV grid)</text>
<text x="38" y="200.7" text-anchor="middle">15</text>
<text x="72.3" y="200.7" text-anchor="middle">15.5</text>
<text x="106.6" y="200.7" text-anchor="middle">16</text>
<text x="140.9" y="200.7" text-anchor="middle">16.5</text>
<text x="175.2" y="200.7" text-anchor="middle">17</text>
<text x="209.5" y="200.7" text-anchor="middle">17.5</text>
<text x="243.8" y="200.7" text-anchor="middle">18</text>
<text x="278.1" y="200.7" text-anchor="middle">18.5</text>
<text x="312.4" y="200.7" text-anchor="middle">19</text>
<text x="346.7" y="200.7" text-anchor="middle">19.5</text>
<text x="33.5" y="39" text-anchor="end">1</text>
<text x="33.5" y="73.4" text-anchor="end">0.5</text>
<text x="33.5" y="107.8" text-anchor="end">0</text>
<text x="33.5" y="142.1" text-anchor="end">-0.5</text>
<text x="33.5" y="176.5" text-anchor="end">-1</text>
<text x="208.7" y="212.5" text-anchor="middle" font-size="8.8">U [m]</text>
<text x="15.4" y="104.5" text-anchor="middle" font-size="8.8" transform="rotate(-90 15.4 104.5)">V [m]</text>
<rect x="387.0" y="18.5" width="11.8" height="171.9" fill="url(#cbar)" stroke="#444" stroke-width="0.5"/>
<line x1="397.3" x2="398.8" y1="45.2" y2="45.2" stroke="#333" stroke-width="0.5"/>
<text x="402" y="47.9" font-size="6.9">366.08</text>
<line x1="397.3" x2="398.8" y1="73.2" y2="73.2" stroke="#333" stroke-width="0.5"/>
<text x="402" y="75.8" font-size="6.9">366.06</text>
<line x1="397.3" x2="398.8" y1="101" y2="101" stroke="#333" stroke-width="0.5"/>
<text x="402" y="103.6" font-size="6.9">366.04</text>
<line x1="397.3" x2="398.8" y1="128.9" y2="128.9" stroke="#333" stroke-width="0.5"/>
<text x="402" y="131.5" font-size="6.9">366.02</text>
<line x1="397.3" x2="398.8" y1="156.8" y2="156.8" stroke="#333" stroke-width="0.5"/>
<text x="402" y="159.4" font-size="6.9">366</text>
<line x1="397.3" x2="398.8" y1="184.8" y2="184.8" stroke="#333" stroke-width="0.5"/>
<text x="402" y="187.3" font-size="6.9">365.98</text>
</g>
</svg>
<svg class="crg" width="220" height="70" viewBox="0 0 220 70">
<rect x="21.8" y="34.4" width="175.8" height="20.6" rx="10.3" fill="#fcb827"/>
<g font-family="'Liberation Sans', sans-serif" font-weight="bold" font-style="italic" font-size="37" text-anchor="middle" stroke-linejoin="round">
<text x="109" y="48.6" fill="#000" stroke="#000" stroke-width="3.8" textLength="149" lengthAdjust="spacingAndGlyphs">OpenCRG</text>
<text x="109.7" y="47.6" fill="#fff" stroke="#000" stroke-width="2.8" paint-order="stroke" textLength="149" lengthAdjust="spacingAndGlyphs">OpenCRG</text>
</g>
</svg>

</body></html>
